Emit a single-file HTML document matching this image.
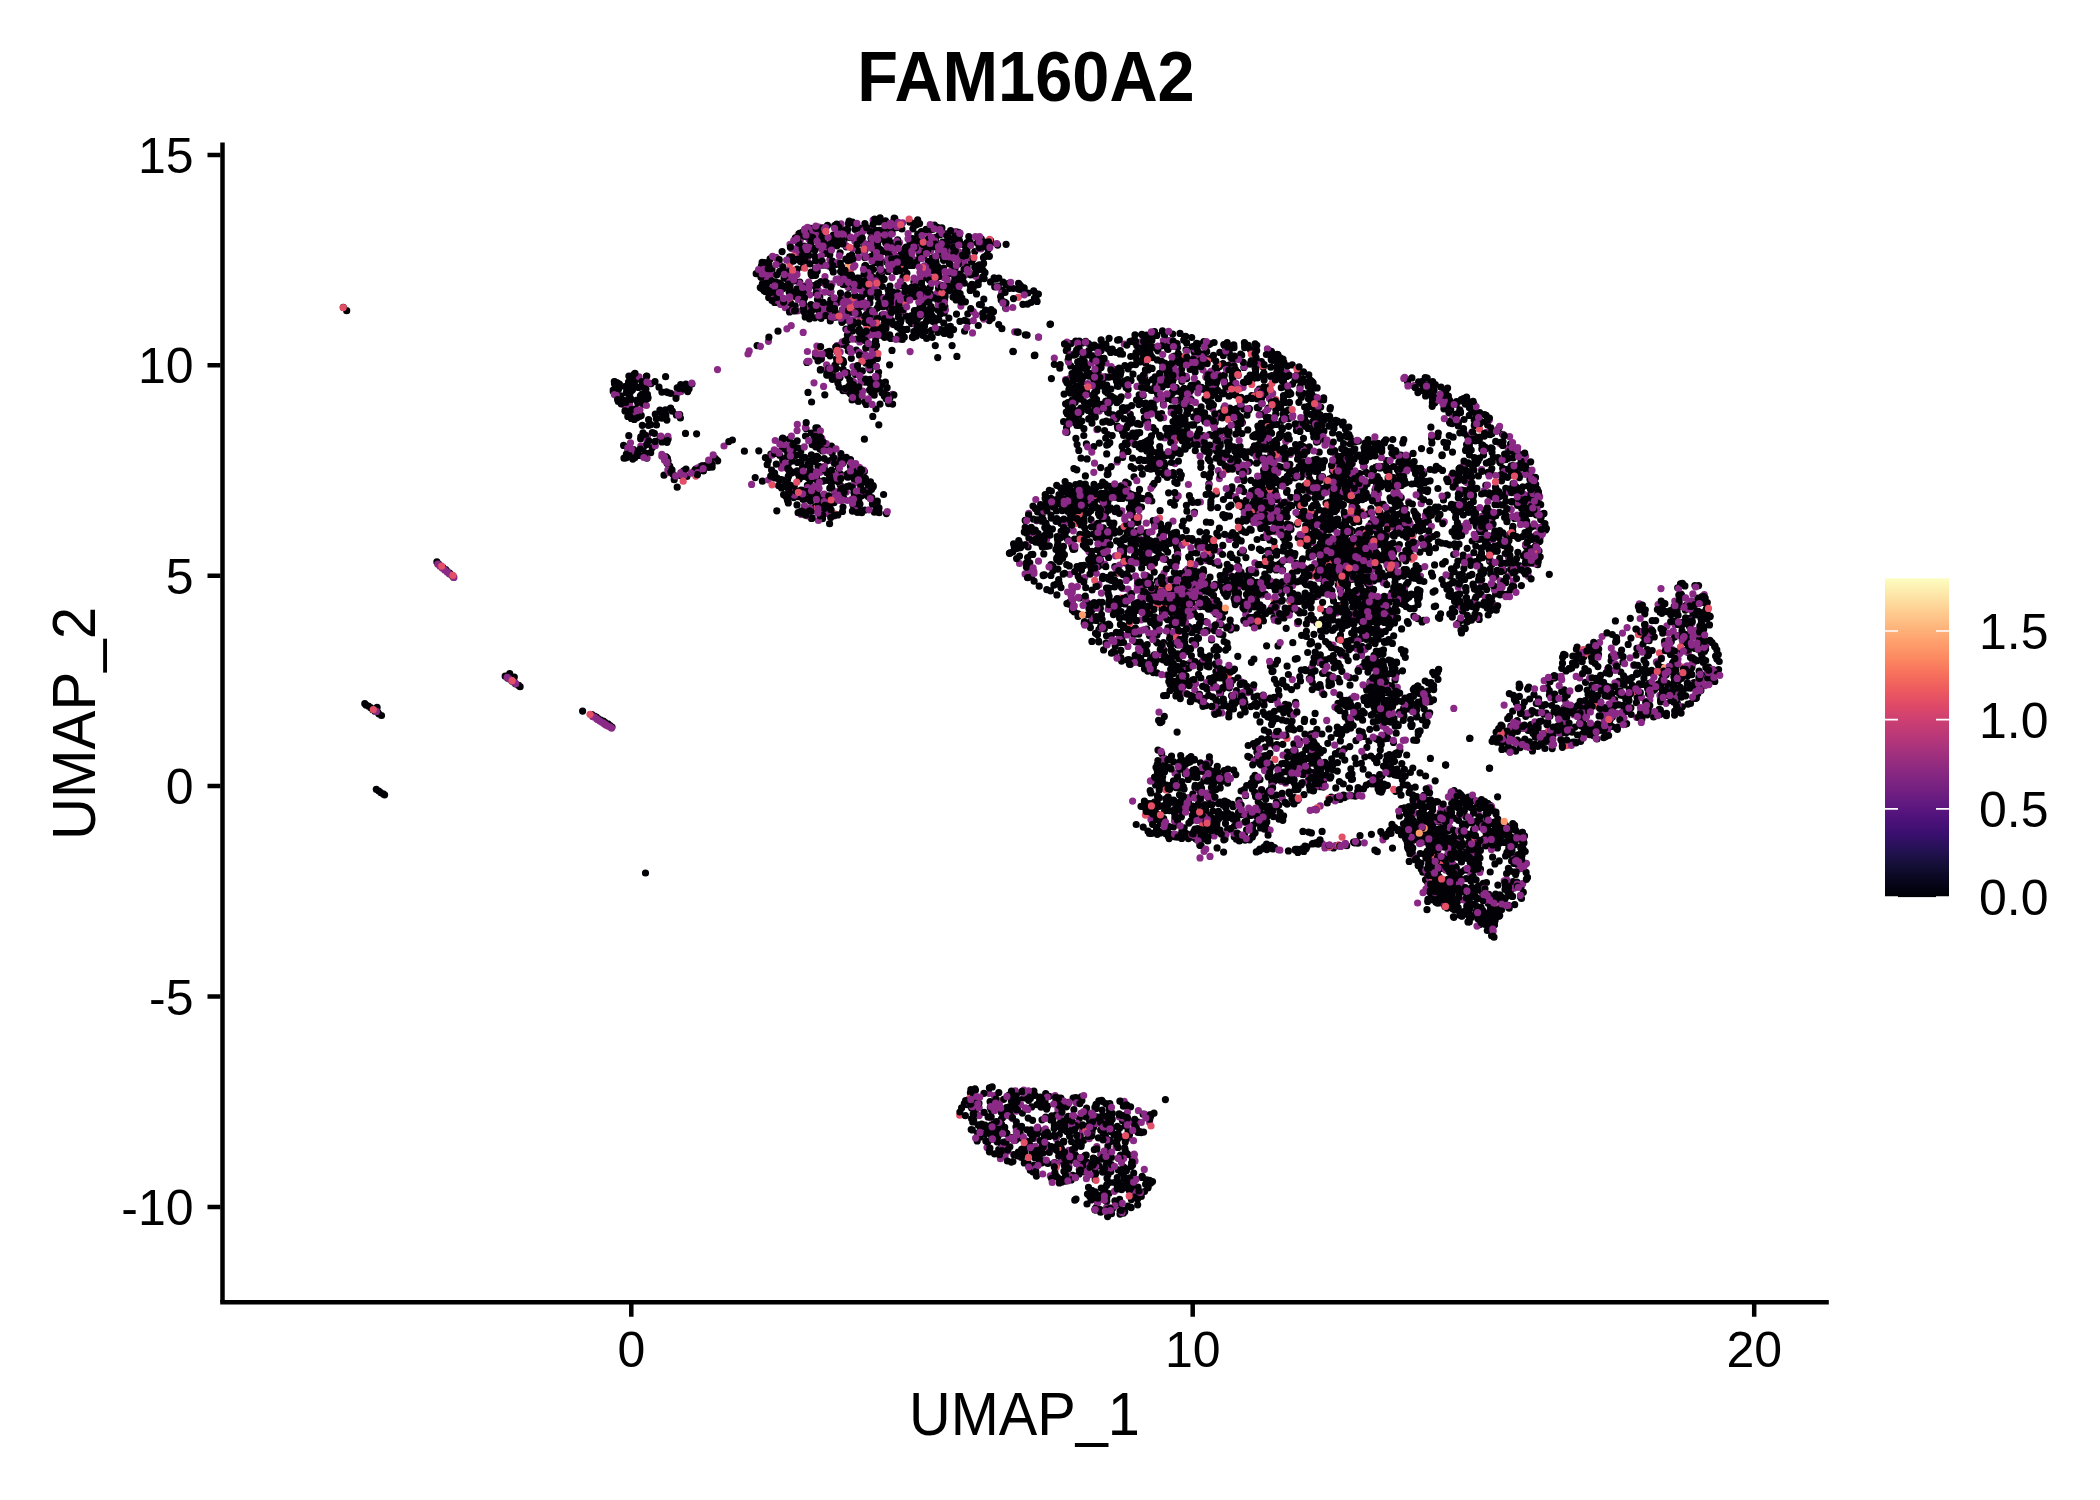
<!DOCTYPE html>
<html><head><meta charset="utf-8"><title>FAM160A2</title>
<style>
html,body{margin:0;padding:0;background:#fff;}
body{width:2100px;height:1500px;overflow:hidden;}
svg{display:block;font-family:"Liberation Sans",sans-serif;}
</style></head>
<body>
<svg width="2100" height="1500" viewBox="0 0 2100 1500">
<defs>
<linearGradient id="mg" x1="0" y1="1" x2="0" y2="0">
<stop offset="0" stop-color="#000004"/>
<stop offset="0.05" stop-color="#07061c"/>
<stop offset="0.1" stop-color="#140e36"/>
<stop offset="0.15" stop-color="#251255"/>
<stop offset="0.2" stop-color="#3b0f70"/>
<stop offset="0.25" stop-color="#4f127b"/>
<stop offset="0.3" stop-color="#641a80"/>
<stop offset="0.35" stop-color="#782281"/>
<stop offset="0.4" stop-color="#8c2981"/>
<stop offset="0.45" stop-color="#a1307e"/>
<stop offset="0.5" stop-color="#b73779"/>
<stop offset="0.55" stop-color="#ca3e72"/>
<stop offset="0.6" stop-color="#de4968"/>
<stop offset="0.65" stop-color="#ed5a5f"/>
<stop offset="0.7" stop-color="#f7705c"/>
<stop offset="0.75" stop-color="#fc8961"/>
<stop offset="0.8" stop-color="#fe9f6d"/>
<stop offset="0.85" stop-color="#feb77e"/>
<stop offset="0.9" stop-color="#fecf92"/>
<stop offset="0.95" stop-color="#fde7a9"/>
<stop offset="1" stop-color="#fcfdbf"/>
</linearGradient>
</defs>
<rect width="2100" height="1500" fill="#fff"/>
<!-- title -->
<text transform="translate(1026 101) scale(1 1.06)" font-size="66.7" font-weight="bold" text-anchor="middle" fill="#000">FAM160A2</text>
<!-- points -->
<g fill="none" stroke-width="7.2" stroke-linecap="round">
<path d="M932.4 259.3h0M1156.7 558.0h0M1422.6 809.3h0M853.1 324.8h0M1124.5 1177.4h0M1155.3 381.4h0M1615.6 642.1h0M1377.4 476.5h0M1557.5 713.8h0M1306.2 768.0h0M1406.6 514.2h0M917.7 219.9h0M1532.8 552.4h0M1094.3 504.5h0M1188.9 823.1h0M1380.9 533.4h0M1688.2 605.8h0M1317.9 759.9h0M1276.3 440.3h0M1198.7 364.0h0M1436.0 512.1h0M1196.6 343.4h0M1465.7 890.1h0M1326.0 503.1h0M1346.4 541.0h0M1376.3 539.7h0M1562.5 663.2h0M1377.3 851.7h0M1489.1 912.5h0M1105.6 492.9h0M1273.9 611.2h0M1193.1 770.0h0M1327.8 743.3h0M1696.8 694.1h0M1205.0 599.1h0M1616.3 728.0h0M1298.2 538.0h0M806.9 362.4h0M1401.6 628.9h0M1366.6 619.3h0M1549.3 690.6h0M1171.3 659.2h0M635.8 408.8h0M1107.6 412.1h0M1274.6 600.6h0M1235.3 369.3h0M1383.6 621.7h0M1330.0 517.1h0M1033.2 519.1h0M902.9 277.4h0M841.0 498.2h0M1295.3 785.6h0M1196.1 833.3h0M1694.1 682.6h0M1295.6 444.5h0M937.7 300.3h0M850.8 282.6h0M1313.3 388.3h0M1107.7 1130.7h0M1152.7 805.7h0M1055.1 506.3h0M1441.6 818.8h0M1140.2 459.3h0M1422.4 720.0h0M1173.4 827.0h0M1514.6 518.4h0M1294.3 797.7h0M1487.0 837.2h0M1128.3 497.9h0M1481.1 548.1h0M1609.8 669.8h0M1190.6 649.1h0M1244.8 345.7h0M1063.6 1141.3h0M1149.5 609.5h0M1374.3 602.7h0M1172.5 612.8h0M1597.9 695.1h0M1289.3 439.2h0M823.2 240.3h0M1415.8 483.4h0M1109.1 1155.2h0M830.4 369.7h0M1167.3 477.5h0M643.1 404.3h0M1138.7 634.2h0M1270.5 809.9h0M875.5 326.4h0M1197.6 831.6h0M1526.0 863.4h0M1269.0 350.4h0M1193.5 811.3h0M1208.0 401.2h0M1394.9 533.4h0M941.2 285.3h0M1450.8 596.5h0M1175.0 818.6h0M1310.3 428.2h0M674.2 479.7h0M1306.7 412.3h0M1329.5 478.8h0M1379.5 779.3h0M858.5 285.1h0M1494.9 533.9h0M1428.2 384.7h0M1319.0 761.5h0M1451.6 885.4h0M1677.8 606.6h0M1445.7 812.2h0M1517.2 465.9h0M1005.1 1145.4h0M1576.4 659.1h0M1295.8 423.8h0M1268.5 421.8h0M1505.8 582.6h0M1181.9 668.4h0M1191.0 601.0h0M1365.6 597.3h0M923.6 324.9h0M1461.9 916.2h0M1348.2 660.6h0M964.0 269.2h0M1461.5 632.9h0M851.0 383.3h0M1626.7 697.9h0M812.2 444.7h0M1263.6 513.3h0M852.4 222.0h0M1188.4 838.6h0M864.8 257.6h0M1186.3 530.6h0M1178.6 400.2h0M1290.4 525.1h0M1098.2 346.8h0M1136.5 634.0h0M1077.2 497.2h0M922.8 335.3h0M1202.9 435.5h0M876.6 292.3h0M1109.0 536.8h0M1303.1 774.7h0M1241.5 695.0h0M1408.9 557.6h0M865.6 265.6h0M640.8 436.9h0M1131.4 503.7h0M1354.7 441.5h0M770.6 274.8h0M1172.5 391.8h0M1380.9 486.8h0M1637.1 697.5h0M1591.7 734.3h0M1514.2 872.1h0M1264.9 523.5h0M1154.5 563.2h0M1269.2 790.6h0M1089.3 1119.8h0M856.8 473.0h0M1446.0 856.8h0M1512.2 587.2h0M1330.6 554.7h0M1088.5 513.0h0M637.6 402.6h0M987.1 256.1h0M1073.7 505.5h0M1688.9 624.9h0M991.2 309.5h0M1399.0 473.5h0M1119.8 531.1h0M1484.0 838.9h0M1516.6 558.7h0M1349.7 616.9h0M1123.6 1210.7h0M1096.7 391.2h0M1129.9 439.6h0M1165.1 602.4h0M1092.1 355.6h0M1086.1 504.1h0M805.7 498.8h0M1095.2 1179.4h0M1102.4 578.7h0M1206.5 828.2h0M1181.8 390.6h0M870.7 360.8h0M1083.7 1140.3h0M1071.8 406.8h0M1029.7 1144.5h0M1069.4 402.5h0M917.7 219.9h0M1185.4 764.5h0M1262.6 498.9h0M1590.2 707.2h0M662.0 441.9h0M1470.4 473.0h0M1072.7 1175.4h0M1192.0 538.5h0M1495.8 576.5h0M1173.1 614.8h0M1584.0 656.4h0M1393.7 698.4h0M1337.3 771.1h0M804.2 255.1h0M1164.3 832.0h0M928.2 298.9h0M1086.7 493.3h0M1272.4 482.3h0M1312.2 468.0h0M1333.2 550.6h0M1505.9 459.4h0M1412.5 854.1h0M1304.3 721.4h0M998.0 1136.6h0M1344.8 760.1h0M1259.3 389.2h0M1074.9 1154.5h0M946.7 329.4h0M1445.6 818.3h0M1419.5 481.2h0M1402.8 442.9h0M1379.7 606.5h0M904.3 337.2h0M1345.0 521.0h0M1133.6 1185.1h0M1137.2 537.8h0M1316.0 779.6h0M1074.4 520.4h0M1358.8 521.7h0M1324.6 624.7h0M1298.9 455.1h0M850.6 322.6h0M1311.3 601.4h0M1645.9 663.5h0M1496.6 825.9h0M1603.2 712.8h0M1151.0 356.0h0M1360.2 598.2h0M815.4 506.6h0M790.1 485.2h0M1227.2 345.7h0M1151.7 406.1h0M1262.3 439.6h0M1179.4 811.0h0M1363.3 555.4h0M1244.9 702.9h0M1119.8 1185.4h0M1286.8 376.4h0M937.7 357.6h0M1177.3 595.6h0M1149.9 368.0h0M1112.2 435.6h0M1109.0 413.0h0M1233.5 709.0h0M1451.6 871.4h0M1304.3 519.0h0M1183.8 760.6h0M1384.5 739.0h0M1154.7 387.0h0M1106.9 1150.3h0M1244.2 604.0h0M1070.4 393.1h0M1255.1 368.1h0M1486.4 421.8h0M1291.2 726.6h0M1141.7 554.4h0M1264.9 516.0h0M665.6 414.1h0M1216.8 825.0h0M826.9 305.0h0M1250.9 509.9h0M1463.0 559.4h0M939.4 229.5h0M1187.5 413.6h0M1432.9 824.6h0M1066.7 1131.4h0M1413.9 616.1h0M1028.1 547.0h0M1018.4 1152.1h0M1440.1 399.9h0M1197.9 828.6h0M1090.6 621.5h0M1262.0 518.3h0M871.1 320.0h0M1428.4 865.5h0M1254.3 814.2h0M1468.2 904.8h0M898.4 313.5h0M919.9 316.1h0M1179.8 761.8h0M1379.6 557.0h0M1161.6 413.5h0M1517.5 832.7h0M902.4 332.7h0M861.0 479.4h0M1232.2 346.4h0M1139.0 351.7h0M1393.2 717.8h0M840.3 462.8h0M1517.3 740.0h0M888.3 323.4h0M1331.8 569.8h0M1211.0 593.3h0M1194.5 512.1h0M1507.8 740.8h0M1515.6 874.4h0M1577.1 647.2h0M1187.6 435.3h0M1524.9 739.2h0M1311.6 668.1h0M1329.9 645.3h0M880.8 382.8h0M1536.1 549.7h0M1397.3 469.4h0M1628.8 696.1h0M1334.5 563.7h0M782.7 438.2h0M1094.0 495.2h0M837.3 302.4h0M1512.6 896.4h0M787.6 287.5h0M1439.7 618.3h0M1305.8 670.7h0M1255.8 513.4h0M941.9 227.9h0M1348.7 553.5h0M639.5 455.4h0M1132.6 1164.9h0M951.3 248.2h0M1427.7 489.8h0M1266.6 645.8h0M1600.1 687.7h0M1413.6 821.0h0M912.6 238.6h0M1358.3 441.2h0M1400.5 478.2h0M1330.4 680.1h0M1165.9 428.4h0M1264.8 498.5h0M1535.5 477.7h0M1123.2 452.4h0M1409.9 574.7h0M1147.4 344.2h0M862.3 295.7h0M1368.0 513.8h0M1123.9 599.4h0M1110.7 603.5h0M1504.3 899.9h0M1122.9 1173.2h0M1116.5 540.8h0M1595.2 733.2h0M878.8 304.0h0M1361.0 630.1h0M1410.8 851.6h0M1523.1 507.7h0M1715.6 656.1h0M1120.4 374.4h0M1238.0 587.3h0M1507.7 718.7h0M1060.9 520.7h0M1440.8 394.6h0M1174.4 356.3h0M1027.6 304.1h0M1247.1 378.7h0M1218.5 449.1h0M1447.8 879.4h0M1574.9 727.1h0M1505.7 488.3h0M1462.6 611.1h0M1305.7 604.0h0M948.9 251.1h0M1155.6 784.9h0M1032.3 1154.1h0M1234.8 465.4h0M831.8 459.9h0M1218.5 814.4h0M1465.3 801.7h0M1332.4 486.5h0M1237.1 462.2h0M1594.6 727.2h0M1476.5 521.4h0M1327.0 482.5h0M1610.1 719.7h0M1186.8 596.3h0M1469.4 575.7h0M1084.3 361.3h0M998.7 1149.6h0M1479.2 619.4h0M1189.2 518.1h0M717.7 460.8h0M1137.9 519.6h0M1106.8 577.5h0M1507.4 458.4h0M664.5 458.3h0M814.9 250.1h0M1519.1 565.5h0M1143.5 351.8h0M1362.1 542.7h0M1252.5 829.1h0M917.6 242.3h0M1448.9 412.8h0M1152.5 803.6h0M764.8 280.4h0M1075.2 508.3h0M1183.7 340.1h0M881.4 332.1h0M1121.4 489.1h0M1042.1 1146.8h0M1372.5 579.2h0M1271.7 781.7h0M1089.8 605.7h0M1110.9 1171.6h0M1091.2 1191.8h0M1399.4 544.6h0M1090.9 502.3h0M1359.8 630.1h0M1342.1 539.8h0M1395.4 753.5h0M1340.5 552.5h0M1125.0 548.1h0M1344.2 467.7h0M830.7 497.8h0M821.6 467.6h0M1163.4 585.0h0M1425.2 377.7h0M1479.8 517.5h0M1176.8 835.2h0M1308.9 573.4h0M1171.6 456.1h0M1260.3 430.1h0M1140.6 663.4h0M1499.5 590.4h0M1146.3 650.9h0M1256.3 507.3h0M1459.8 601.7h0M1375.8 632.1h0M824.9 251.5h0M1528.2 571.4h0M1499.0 537.4h0M1015.7 1105.5h0M1148.9 558.5h0M1033.9 1091.1h0M1214.1 342.5h0M956.5 314.1h0M1238.3 521.2h0M1176.5 546.5h0M1618.5 692.5h0M1027.1 335.1h0M627.9 450.8h0M1079.1 1173.9h0M1109.5 544.7h0M1307.1 538.4h0M1264.1 379.9h0M1346.9 611.4h0M836.5 264.3h0M1263.0 579.1h0M1106.0 643.2h0M1030.5 1133.4h0M1249.7 757.3h0M967.0 242.6h0M1454.6 852.2h0M1306.0 771.3h0M919.6 327.9h0M791.7 309.6h0M1182.7 537.5h0M1465.7 816.6h0M1316.5 442.1h0M1045.0 1101.2h0M1371.4 834.3h0M1377.5 466.7h0M1481.8 449.1h0M1410.8 702.0h0M1510.8 726.1h0M1069.5 486.6h0M1434.1 390.4h0M1687.8 624.0h0M1469.7 440.0h0M1139.2 1192.6h0M1519.3 475.4h0M1103.3 527.8h0M1422.3 822.0h0M1138.2 585.5h0M967.8 313.8h0M1379.5 621.4h0M1133.6 562.3h0M1108.7 624.2h0M1364.1 466.6h0M1282.7 483.6h0M1259.6 609.1h0M650.7 452.7h0M1378.8 522.1h0M1450.7 887.2h0M1453.5 846.9h0M1265.2 795.0h0M1113.0 525.4h0M1419.0 824.1h0M1093.7 379.6h0M1097.8 1197.7h0M1251.2 530.2h0M1200.8 462.7h0M1210.0 577.2h0M1110.1 1208.0h0M967.8 321.8h0M921.5 283.0h0M1216.3 493.8h0M1243.4 550.8h0M1487.3 930.5h0M1462.3 886.7h0M1253.4 619.0h0M1431.6 438.6h0M1182.1 601.4h0M1253.3 825.1h0M933.3 270.8h0M659.0 387.2h0M1573.0 742.0h0M1143.5 352.0h0M964.3 1103.5h0M1147.2 382.3h0M800.5 261.6h0M1477.6 563.8h0M1164.8 617.2h0M1303.6 421.9h0M1119.6 498.0h0M957.8 236.4h0M1356.2 614.1h0M877.7 297.3h0M1338.9 580.9h0M1066.3 350.7h0M1273.8 472.7h0M1186.7 425.8h0M1102.9 346.2h0M1382.2 692.9h0M1431.0 382.9h0M1314.1 742.8h0M1083.5 507.6h0M1482.9 445.4h0M1163.4 404.4h0M1208.7 814.9h0M930.7 294.1h0M1433.5 836.4h0M1173.8 476.0h0M1306.3 623.9h0M1091.4 401.6h0M1357.7 791.4h0M1522.3 863.8h0M980.5 240.0h0M1383.6 537.8h0M1254.2 704.8h0M1438.1 518.9h0M1299.7 764.9h0M875.7 389.6h0M1472.1 822.9h0M1403.5 653.8h0M1263.0 499.9h0M1132.3 1158.4h0M1471.6 602.9h0M1346.7 845.7h0M1206.4 522.2h0M1421.2 869.1h0M1369.5 609.3h0M865.8 244.1h0M1177.7 540.4h0M847.8 340.0h0M623.6 445.4h0M799.1 249.5h0M952.2 247.0h0M1260.5 433.4h0M1165.7 611.5h0M1081.2 1144.4h0M820.2 232.6h0M1452.1 531.8h0M1620.8 672.0h0M1505.7 492.4h0M1331.7 547.9h0M1426.7 391.3h0M1045.1 1160.5h0M1216.2 646.9h0M874.4 512.2h0M1266.2 580.5h0M930.7 312.8h0M1432.2 841.5h0M1178.1 429.5h0M1355.5 569.6h0M1257.1 449.3h0M1140.0 552.3h0M1513.4 695.4h0M1352.2 506.2h0M1675.9 670.0h0M1367.6 700.3h0M1418.9 391.3h0M1291.5 689.6h0M1006.5 1113.1h0M1042.9 1147.4h0M1320.7 407.1h0M1131.1 466.6h0M1176.6 666.2h0M857.7 281.2h0M1296.0 475.7h0M1560.8 739.5h0M1076.0 386.0h0M788.6 448.7h0M1291.9 798.6h0M1596.8 680.4h0M1340.4 589.9h0M1351.5 547.5h0M847.3 234.3h0M1041.9 1141.9h0M1163.9 650.0h0M1590.0 724.2h0M1281.1 370.0h0M1513.7 469.8h0M1418.3 840.2h0M1232.7 532.6h0M1413.3 695.3h0M1364.6 486.9h0M1113.5 491.2h0M1375.2 617.3h0M1306.9 846.8h0M1356.7 565.0h0M630.6 391.8h0M1403.0 534.9h0M1302.2 560.5h0M1420.9 863.0h0M1224.0 702.8h0M841.9 496.3h0M1165.1 470.4h0M851.3 358.3h0M1456.4 857.2h0M790.1 285.3h0M1265.0 500.6h0M1265.6 536.6h0M1219.5 366.4h0M1215.5 419.6h0M896.9 306.4h0M1461.0 531.4h0M1167.4 829.6h0M1377.6 784.5h0M1042.3 547.0h0M1241.0 572.1h0M1107.4 1122.3h0M1259.6 427.1h0M1205.7 809.7h0M1178.4 544.6h0M1331.5 684.5h0M1100.3 496.6h0M1234.7 703.7h0M1277.1 736.3h0M1469.9 504.4h0M944.9 306.7h0M1434.8 829.4h0M860.6 472.8h0M869.5 390.1h0M1080.7 380.7h0M1196.0 839.1h0M1396.7 694.7h0M1282.8 820.3h0M1433.1 900.0h0M1292.5 384.1h0M1229.2 439.3h0M1413.9 531.8h0M1405.8 550.6h0M1303.5 438.3h0M1537.9 549.8h0M1150.7 469.2h0M1585.8 706.2h0M1219.1 777.2h0M1190.9 594.7h0M1329.4 502.0h0M1310.0 521.2h0M1645.2 636.8h0M1232.7 393.9h0M1358.1 787.6h0M1188.0 664.1h0M1215.9 671.5h0M1054.8 1162.7h0M1305.0 669.7h0M1489.1 839.4h0M1375.0 489.8h0M1284.0 617.9h0M1502.1 726.2h0M1496.2 489.0h0M1457.2 872.7h0M1377.1 600.0h0M1461.2 836.3h0M1136.5 400.0h0M1108.8 1140.2h0M1060.9 504.2h0M629.7 377.8h0M1360.8 544.3h0M1368.4 634.6h0M1367.2 483.8h0M1621.6 650.1h0M1375.6 477.5h0M1427.5 830.1h0M1209.0 763.5h0M889.7 334.8h0M1347.7 482.4h0M1525.8 465.5h0M930.8 242.7h0M1178.3 432.3h0M1074.8 1200.2h0M1330.9 776.5h0M1336.8 754.1h0M1466.2 449.4h0M1157.8 830.4h0M1637.9 673.6h0M826.0 284.6h0M1296.5 430.4h0M1021.6 1153.0h0M1096.9 1116.8h0M1501.7 909.6h0M1419.5 594.2h0M1061.8 1182.1h0M1238.2 429.5h0M1548.3 740.7h0M1137.9 522.3h0M1252.4 495.9h0M1472.3 855.7h0M1172.4 452.1h0M797.0 288.8h0M875.0 262.7h0M1077.6 396.0h0M1109.1 338.3h0M1346.6 729.8h0M1452.3 617.1h0M1564.3 707.7h0M1362.6 720.2h0M1251.7 395.5h0M924.5 248.2h0M1366.6 620.1h0M936.4 244.8h0M1112.2 1119.2h0M1159.2 806.3h0M1526.3 508.2h0M835.0 480.4h0M1486.5 882.5h0M1178.5 808.7h0M1479.7 412.7h0M1412.6 819.9h0M1352.0 620.2h0M1146.9 652.4h0M1260.6 440.0h0M1255.6 796.4h0M1505.3 469.3h0M1378.6 615.8h0M1185.9 603.9h0M1186.4 608.2h0M1197.7 545.7h0M1060.9 1179.4h0M1246.5 814.2h0M1470.7 565.3h0M1264.7 714.7h0M1467.0 905.4h0M1388.4 703.5h0M981.9 243.3h0M1352.4 545.6h0M1532.5 750.9h0M1612.4 716.9h0M1416.6 740.5h0M1448.4 856.7h0M1104.4 628.8h0M1479.5 576.0h0M1224.6 430.8h0M1384.4 642.3h0M845.5 390.7h0M1316.8 535.9h0M1184.2 669.7h0M1287.1 490.4h0M1452.6 481.7h0M1097.4 549.7h0M1079.6 374.2h0M1281.9 763.7h0M1651.8 685.3h0M818.1 489.4h0M1199.4 594.5h0M1022.9 304.3h0M1435.8 902.1h0M909.9 222.2h0M892.8 291.8h0M1143.2 443.1h0M1442.4 895.7h0M1201.1 836.4h0M1528.5 499.0h0M1039.6 1100.0h0M1083.3 545.0h0M1417.8 686.1h0M1157.0 458.8h0M1445.4 862.1h0M914.8 223.2h0M1427.9 899.3h0M648.6 419.7h0M1339.4 624.4h0M971.6 1107.9h0M1071.7 599.8h0M1671.3 641.6h0M909.8 240.9h0M1136.2 824.5h0M1037.1 301.4h0M1173.6 617.7h0M1404.4 769.3h0M1251.2 783.1h0M797.0 504.9h0M1379.3 479.7h0M1285.8 735.9h0M1228.0 450.3h0M770.1 258.9h0M1369.6 448.5h0M1331.7 758.8h0M788.7 470.0h0M819.4 241.4h0M821.1 317.6h0M1128.7 436.2h0M1113.5 651.5h0M1348.5 452.4h0M1057.0 583.8h0M1106.9 508.3h0M1231.2 588.8h0M1222.9 634.9h0M1102.8 378.9h0M1297.6 622.0h0M790.6 303.2h0M1095.1 533.6h0M1265.2 565.5h0M1467.3 615.3h0M879.1 512.7h0M1339.4 568.9h0M1427.2 702.0h0M1122.4 1120.4h0M1013.3 351.6h0M1096.4 1194.4h0M1707.2 668.3h0M1288.5 608.8h0M1361.8 646.4h0M1348.6 566.2h0M1302.6 518.5h0M1435.6 606.0h0M1147.6 421.2h0M921.3 330.1h0M1230.6 684.7h0M1484.7 801.5h0M889.6 308.6h0M1280.3 485.5h0M1084.9 506.8h0M1487.6 541.6h0M1350.2 476.3h0M780.0 287.0h0M1659.0 668.1h0M1116.6 573.1h0M668.1 439.0h0M1136.1 352.5h0M1320.2 414.8h0M1028.3 1146.1h0M1325.2 580.2h0M1139.7 401.6h0M1507.5 852.2h0M870.8 256.7h0M1332.5 563.0h0M1285.7 710.0h0M1149.8 455.8h0M1327.4 570.1h0M1138.1 1122.0h0M1217.6 507.5h0M1185.4 762.9h0M1168.5 604.1h0M1345.2 435.8h0M966.9 249.0h0M1686.8 687.9h0M1351.0 517.8h0M1144.8 591.8h0M1477.6 861.3h0M1334.2 556.2h0M1097.2 385.3h0M1098.2 372.1h0M1256.2 490.3h0M1334.5 493.2h0M1177.1 808.0h0M1160.6 579.7h0M923.6 292.5h0M1206.8 688.6h0M1238.3 451.5h0M1513.7 475.4h0M948.9 318.1h0M1125.3 434.3h0M1480.2 845.7h0M1319.4 662.4h0M1237.6 538.9h0M1230.1 555.3h0M1217.5 701.6h0M867.8 322.4h0M913.9 281.8h0M1597.0 739.0h0M1271.4 699.5h0M1432.9 536.6h0M1042.3 1131.7h0M789.3 469.9h0M955.5 250.8h0M1216.0 441.9h0M1189.4 607.6h0M1200.6 561.8h0M1173.3 663.6h0M1274.0 494.1h0M1289.6 392.4h0M1311.5 393.7h0M1175.6 614.6h0M1489.7 561.2h0M1238.3 461.7h0M1454.7 798.8h0M1456.3 547.9h0M1442.6 563.9h0M1433.5 896.9h0M1513.1 881.7h0M878.8 383.9h0M954.5 248.8h0M1299.0 486.1h0M1394.8 775.0h0M667.0 463.3h0M1236.0 535.1h0M1198.6 674.4h0M1225.5 823.4h0M1489.7 473.8h0M1487.8 607.5h0M1193.9 569.8h0M1373.0 524.9h0M1435.7 891.1h0M1092.5 1123.4h0M1381.5 651.6h0M1332.5 470.7h0M1246.3 605.8h0M1323.8 780.4h0M1234.5 459.4h0M669.7 466.0h0M1343.4 504.6h0M834.7 225.6h0M833.1 302.2h0M1520.2 747.6h0M679.6 387.2h0M1350.6 704.7h0M1410.3 808.8h0M1359.7 551.1h0M1569.3 668.9h0M1451.2 792.5h0M1194.9 787.4h0M1200.9 808.9h0M1488.6 821.9h0M1061.9 1160.9h0M884.2 279.1h0M1156.8 776.3h0M1248.1 471.1h0M1355.9 477.7h0M1322.9 491.6h0M1276.2 565.3h0M1200.1 664.6h0M1161.9 576.5h0M1430.1 480.8h0M1348.9 434.6h0M1152.6 485.5h0M1129.6 380.4h0M1094.5 399.4h0M1630.9 638.1h0M1322.0 532.8h0M1415.5 823.8h0M665.5 409.8h0M884.0 305.4h0M1159.6 435.4h0M1215.0 584.4h0M1420.0 590.9h0M1499.6 843.2h0M1423.5 521.2h0M1419.4 568.4h0M1332.7 596.7h0M1620.8 693.0h0M871.4 268.1h0M1243.4 705.3h0M1609.2 705.9h0M1087.3 1113.4h0M1334.0 495.8h0M1360.0 491.2h0M1351.5 553.2h0M1423.6 825.3h0M1047.8 1096.1h0M1008.8 283.4h0M1242.9 607.6h0M1188.7 758.3h0M1370.3 607.6h0M1157.2 581.1h0M1530.9 724.6h0M1401.1 485.7h0M1075.2 402.3h0M1201.8 547.0h0M1517.2 861.3h0M876.7 262.3h0M1344.6 561.7h0M1001.3 1112.2h0M1350.0 685.2h0M1144.9 803.8h0M1025.2 520.4h0M1100.4 608.3h0M1162.4 614.0h0M850.4 320.9h0M1521.4 502.9h0M1171.1 649.8h0M935.3 345.6h0M1190.9 820.9h0M1696.8 688.1h0M1418.8 862.4h0M961.0 244.2h0M827.4 311.6h0M1223.3 355.6h0M1372.2 449.5h0M1114.9 580.4h0M1241.7 355.2h0M1257.3 488.3h0M1317.3 409.4h0M1346.6 569.2h0M1379.5 558.0h0M1238.0 464.3h0M1505.3 832.7h0M1168.5 344.0h0M1692.9 612.5h0M1128.7 1184.7h0M1181.3 363.5h0M1124.7 1147.8h0M1231.5 412.3h0M1416.0 517.1h0M1044.5 574.9h0M1364.2 560.8h0M1607.5 725.0h0M1495.8 515.7h0M1145.6 362.9h0M902.4 339.5h0M1194.5 837.4h0M1470.7 435.1h0M1186.2 357.3h0M1132.2 612.7h0M1409.8 696.5h0M1190.6 662.7h0M1121.2 1101.3h0M1445.7 765.1h0M1338.3 585.1h0M1434.3 606.7h0M1303.8 761.5h0M1290.0 594.2h0M1351.7 519.0h0M1177.0 483.5h0M1180.5 682.0h0M1354.6 591.7h0M1303.3 446.5h0M1063.6 421.7h0M1148.9 367.7h0M1255.7 349.9h0M1159.9 536.0h0M980.8 247.5h0M1135.2 655.4h0M1068.9 1132.7h0M1146.8 629.0h0M1386.8 766.3h0M1108.9 1193.5h0M1217.4 368.1h0M1378.1 676.0h0M1432.7 381.6h0M1489.2 511.4h0M1285.0 541.3h0M1198.4 581.8h0M1281.6 513.2h0M1465.6 825.3h0M1262.7 582.4h0M1292.8 577.0h0M1223.3 591.2h0M1422.9 694.6h0M1364.3 713.0h0M1642.5 635.5h0M1359.9 556.4h0M1447.2 829.1h0M1170.1 634.8h0M1352.4 558.0h0M830.9 487.7h0M1421.6 704.5h0M1223.8 393.6h0M1316.9 766.5h0M1233.7 819.0h0M1425.9 870.9h0M1065.6 1120.4h0M1362.6 541.9h0M1347.8 528.5h0M1304.0 612.6h0M1261.8 441.9h0M1514.8 454.5h0M808.1 251.8h0M1692.9 684.8h0M1638.2 631.2h0M1285.6 411.7h0M1288.6 418.7h0M1338.4 491.5h0M958.5 232.4h0M814.6 474.7h0M1466.8 493.9h0M1542.4 527.1h0M1289.0 792.1h0M1545.6 529.9h0M1321.4 420.6h0M1157.2 806.6h0M1211.4 556.1h0M1307.7 652.5h0M1272.9 472.6h0M1056.9 594.9h0M1480.9 571.0h0M1150.4 442.5h0M1034.1 581.2h0M1490.9 471.3h0M820.3 369.9h0M1467.6 908.2h0M873.6 311.2h0M1315.2 652.0h0M1274.4 679.3h0M782.5 448.4h0M1103.3 536.3h0M1358.6 558.2h0M1453.2 883.0h0M1296.4 470.0h0M1372.4 539.1h0M1266.8 427.9h0M1131.0 1166.7h0M1258.2 801.8h0M1617.1 666.8h0M1704.1 649.8h0M852.8 468.3h0M847.2 301.6h0M1296.9 496.2h0M1354.8 513.3h0M1032.9 1171.8h0M1503.0 441.6h0M1335.4 524.9h0M1370.1 532.1h0M1211.3 467.3h0M1330.4 407.6h0M1038.2 533.5h0M1121.2 528.9h0M1525.4 468.2h0M1545.4 527.6h0M1250.6 784.4h0M1335.6 420.3h0M1164.7 334.8h0M1138.7 662.3h0M956.1 299.9h0M828.5 307.9h0M857.3 506.1h0M1106.5 588.1h0M890.0 286.1h0M1206.3 630.4h0M1549.3 574.3h0M1301.3 539.2h0M947.7 287.3h0M797.4 494.5h0M1024.8 1154.1h0M967.2 252.7h0M1355.3 796.2h0M1667.8 695.4h0M827.4 472.2h0M1363.9 630.6h0M1213.6 783.9h0M1188.6 626.7h0M789.6 260.7h0M1352.0 575.4h0M1116.9 416.9h0M1400.3 596.0h0M1463.2 555.1h0M1275.1 493.9h0M1698.8 613.2h0M1679.0 603.9h0M1210.3 590.8h0M1230.0 829.4h0M1377.4 633.4h0M842.5 231.4h0M1428.4 522.2h0M1377.3 533.4h0M1310.2 751.1h0M842.3 309.9h0M1210.9 501.1h0M1068.9 389.7h0M1378.0 443.4h0M1375.9 612.5h0M806.6 512.3h0M1259.9 494.7h0M1180.2 596.6h0M1224.7 801.0h0M1645.8 669.9h0M1334.6 554.2h0M1238.8 835.5h0M1002.2 290.4h0M1483.4 817.9h0M1299.0 757.8h0M1431.8 867.4h0M803.0 474.9h0M919.8 252.7h0M1248.8 609.5h0M1502.7 468.4h0M1371.5 640.7h0M1335.4 753.7h0M1371.2 681.4h0M1219.8 693.7h0M1554.1 678.2h0M1418.3 702.0h0M1155.6 430.8h0M1062.6 558.5h0M1270.1 478.1h0M1010.3 1109.4h0M1375.3 609.2h0M1151.4 668.8h0M792.0 461.2h0M1489.4 768.3h0M982.5 277.2h0M1093.5 1127.5h0M1345.3 548.9h0M1159.8 459.3h0M1180.7 416.9h0M1424.4 482.9h0M1300.8 516.2h0M1340.1 666.7h0M1346.3 542.8h0M823.0 311.7h0M1173.6 800.0h0M1079.8 534.3h0M1357.1 546.5h0M1127.7 559.2h0M819.7 444.6h0M1664.2 692.0h0M1014.7 1100.9h0M1335.5 554.1h0M861.7 512.7h0M1057.5 545.7h0M1405.8 525.6h0M1443.9 442.3h0M788.1 464.8h0M1379.4 756.1h0M1350.6 544.6h0M1092.2 609.7h0M1335.9 422.8h0M1235.0 424.3h0M1303.1 577.4h0M1245.3 456.8h0M1424.3 709.0h0M1489.1 549.6h0M1686.6 618.9h0M1283.4 763.3h0M892.0 350.4h0M1366.2 493.0h0M1429.9 450.6h0M1512.8 531.9h0M1317.3 548.2h0M821.1 318.3h0M1298.0 789.3h0M1297.4 492.1h0M1243.7 408.9h0M1216.8 533.2h0M1460.5 412.1h0M1523.5 841.2h0M1466.0 854.6h0M1287.3 752.0h0M849.7 392.7h0M1332.6 433.0h0M632.3 389.9h0M1349.7 724.3h0M1016.1 1109.6h0M1269.8 539.9h0M1380.8 831.7h0M1381.3 482.5h0M1234.7 538.0h0M1368.5 556.8h0M928.3 261.4h0M1425.7 725.5h0M1411.8 819.0h0M1214.0 378.6h0M1351.2 795.6h0M930.2 287.4h0M1426.8 823.4h0M1316.2 655.8h0M1017.6 1156.0h0M1177.5 645.0h0M1449.3 584.8h0M1109.5 1110.1h0M1379.1 569.4h0M971.5 288.3h0M811.3 433.2h0M857.0 300.2h0M1455.1 583.0h0M1335.5 846.2h0M1490.8 427.9h0M1612.3 709.8h0M829.9 507.8h0M1072.2 516.0h0M1666.5 713.4h0M1261.9 807.0h0M1327.7 527.8h0M1096.1 604.7h0M1417.9 618.7h0M1192.3 815.3h0M1268.8 434.1h0M1527.8 507.2h0M1211.7 396.1h0M1542.5 741.8h0M1370.5 570.8h0M1145.8 578.3h0M1114.2 608.5h0M883.6 494.5h0M883.6 333.3h0M1485.1 447.1h0M1240.4 714.8h0M760.3 287.6h0M1357.4 557.3h0M1527.7 495.9h0M1145.2 388.2h0M1207.1 824.6h0M1353.6 522.4h0M1199.7 357.4h0M1473.9 870.3h0M1423.7 809.0h0M924.5 326.3h0M817.3 235.0h0M1244.4 708.5h0M1316.5 547.6h0M1244.0 575.9h0M1410.9 814.8h0M1053.8 1135.3h0M1308.2 406.4h0M1593.0 695.7h0M1122.3 410.7h0M1181.9 781.6h0M1502.0 568.4h0M1463.3 515.0h0M1380.7 680.2h0M826.2 352.7h0M1208.2 663.0h0M1369.3 586.2h0M1078.3 345.8h0M1333.5 546.3h0M1457.8 605.1h0M1356.9 512.5h0M1445.0 404.4h0M1347.7 549.5h0M1009.7 288.5h0M1465.6 463.5h0M1061.1 531.3h0M1061.5 1129.8h0M1120.6 1155.0h0M1365.3 535.1h0M1050.6 590.8h0M1415.5 473.6h0M990.3 1107.4h0M1492.2 831.5h0M1379.4 530.1h0M1136.2 543.9h0M1069.5 519.3h0M840.3 485.0h0M1001.5 1124.1h0M1094.8 408.9h0M1187.1 649.1h0M1355.0 758.1h0M1280.1 812.7h0M1490.6 810.5h0M1093.1 357.2h0M1289.7 588.5h0M1578.8 710.3h0M1102.8 1194.2h0M793.0 259.1h0M1314.1 772.4h0M1158.1 416.0h0M1413.9 570.7h0M1258.0 492.0h0M971.6 1118.8h0M1317.6 464.6h0M1250.3 605.3h0M1404.2 601.8h0M1267.5 768.2h0M865.1 257.5h0M1262.7 508.9h0M1096.9 347.9h0M1238.0 677.8h0M1133.3 502.8h0M1428.3 394.7h0M923.1 278.5h0M1415.5 527.4h0M1430.0 820.2h0M787.6 279.3h0M893.2 243.1h0M1126.4 1170.8h0M1281.5 593.6h0M1672.9 610.7h0M1374.6 704.5h0M1173.0 421.6h0M1205.7 621.7h0M626.4 454.1h0M785.6 272.6h0M661.1 412.8h0M1189.2 438.1h0M1102.3 546.9h0M1488.5 903.3h0M1352.3 601.1h0M1232.6 680.5h0M1028.4 569.7h0M920.4 296.1h0M1260.2 485.6h0M1475.2 598.8h0M1081.8 381.8h0M1487.3 507.5h0M1264.5 756.4h0M1006.1 285.0h0M1448.4 396.0h0M1419.1 693.3h0M1271.6 433.3h0M1411.9 829.8h0M1269.4 484.1h0M1080.8 565.6h0M1123.5 556.4h0M1698.2 649.5h0M1084.9 1163.0h0M1157.9 479.4h0M1429.8 802.1h0M1130.3 414.3h0M1404.9 698.2h0M1395.0 577.4h0M1251.6 580.3h0M1324.2 583.3h0M1157.0 635.0h0M1101.8 385.9h0M1200.1 618.5h0M1379.3 601.1h0M1283.7 772.0h0M1336.2 577.3h0M1550.0 715.9h0M885.7 242.9h0M1481.4 539.2h0M1175.9 498.8h0M911.8 291.8h0M965.0 245.5h0M1425.5 879.8h0M1647.6 655.7h0M1240.7 354.0h0M1438.3 541.9h0M1361.6 489.7h0M1692.0 666.9h0M1058.9 502.1h0M1467.5 436.2h0M855.8 480.6h0M1315.0 549.9h0M1017.7 1108.0h0M1175.5 607.8h0M1282.7 680.4h0M1158.1 377.5h0M1176.5 532.3h0M1158.1 798.8h0M1397.3 521.7h0M1249.5 839.8h0M1427.3 481.3h0M1640.3 714.0h0M1429.7 879.2h0M1081.9 1100.5h0M1654.3 636.9h0M1018.2 332.2h0M1445.8 828.2h0M1012.4 1110.5h0M1180.7 755.5h0M1146.6 441.3h0M1208.4 344.8h0M1354.1 622.5h0M1167.9 398.3h0M1266.8 821.9h0M1073.8 415.0h0M1475.9 514.5h0M1281.9 380.6h0M1190.1 369.5h0M1129.8 494.4h0M806.7 492.0h0M1083.7 517.9h0M1468.0 921.9h0M928.8 301.0h0M1359.7 605.9h0M1123.9 1187.2h0M1227.1 643.1h0M1177.3 774.8h0M1575.9 664.9h0M654.4 433.3h0M1432.8 840.4h0M864.8 510.2h0M953.0 297.1h0M1108.7 1158.4h0M1450.8 410.0h0M1327.5 522.7h0M1580.7 741.3h0M1401.4 473.3h0M1248.3 588.9h0M1341.2 640.1h0M860.7 394.5h0M1343.1 552.7h0M1271.1 699.4h0M1222.1 587.2h0M1059.4 1134.5h0M1283.8 546.7h0M1407.7 456.3h0M1714.8 646.7h0M1163.9 651.0h0M1493.2 577.2h0M1263.0 795.7h0M1068.3 1116.3h0M1148.9 450.0h0M1267.9 518.1h0M1481.8 548.1h0M1674.2 606.4h0M1220.4 442.6h0M1184.2 586.2h0M1390.9 770.8h0M811.5 518.4h0M1203.8 780.6h0M1181.4 693.0h0M996.7 1107.1h0M1167.5 608.0h0M1229.4 444.6h0M1105.0 517.7h0M702.2 465.9h0M899.1 313.0h0M1053.9 585.2h0M715.2 458.3h0M1235.8 774.6h0M906.9 273.3h0M1401.2 497.7h0M1254.5 395.6h0M1421.7 538.7h0M1428.3 697.2h0M1430.9 804.0h0M1384.4 466.2h0M1409.2 861.4h0M1617.6 727.2h0M1371.4 690.4h0M1358.1 603.8h0M1243.2 706.1h0M1125.4 1121.2h0M1156.1 627.2h0M1098.9 1165.9h0M1358.5 577.3h0M1338.7 486.0h0M1089.0 376.2h0M1095.0 505.8h0M1467.4 621.5h0M1713.5 669.8h0M1304.5 511.6h0M650.9 383.7h0M1065.6 403.8h0M1636.4 702.7h0M1647.3 649.5h0M1247.8 429.9h0M670.6 408.2h0M875.2 353.7h0M1125.7 482.1h0M1360.6 569.8h0M1653.6 690.3h0M1345.6 517.5h0M1245.7 457.5h0M1372.2 697.2h0M1459.0 544.2h0M1495.2 546.3h0M1198.1 433.0h0M1044.8 527.6h0M868.2 496.4h0M1295.3 659.1h0M889.0 307.5h0M1271.6 582.4h0M1670.4 610.7h0M879.0 507.9h0M849.5 485.8h0M1295.6 599.4h0M901.0 328.3h0M1622.3 717.9h0M821.0 281.6h0M1459.0 468.9h0M1272.6 809.9h0M797.2 440.8h0M1031.9 1150.9h0M1290.3 714.2h0M1314.1 657.5h0M1188.5 801.6h0M864.0 333.2h0M1257.5 696.0h0M1169.7 789.3h0M1256.8 758.7h0M808.8 477.6h0M1227.6 829.4h0M990.5 281.9h0M804.8 259.6h0M1220.2 787.9h0M1353.9 449.9h0M1362.5 713.6h0M1591.2 702.1h0M826.7 375.1h0M1666.2 674.7h0M1088.8 350.5h0M634.5 451.8h0M1362.6 610.2h0M1359.2 492.4h0M989.4 256.3h0M1445.7 827.5h0M1092.7 374.7h0M1215.2 677.4h0M886.0 250.0h0M1320.5 752.8h0M1085.7 602.9h0M635.2 453.8h0M808.2 477.5h0M1612.3 634.5h0M1221.6 609.4h0M1236.8 819.4h0M1391.9 453.3h0M1395.8 527.6h0M1461.4 841.8h0M1315.9 596.7h0M885.5 321.2h0M1385.0 719.2h0M1384.5 582.0h0M1180.8 614.3h0M1264.6 495.2h0M1283.6 381.9h0M1331.8 527.8h0M1311.8 407.0h0M1531.0 479.6h0M1066.5 427.9h0M878.3 284.0h0M1198.5 771.4h0M1367.7 564.5h0M823.2 265.1h0M1140.2 1192.4h0M1184.6 337.0h0M1341.7 448.7h0M1276.0 551.5h0M1282.8 480.9h0M1344.1 618.7h0M1097.2 498.5h0M704.9 465.7h0M1001.5 1118.8h0M1515.5 488.8h0M1105.6 513.1h0M1682.4 706.8h0M1182.6 396.3h0M1265.2 394.4h0M845.6 229.8h0M1494.2 822.1h0M1271.3 359.8h0M1186.7 378.6h0M1195.3 439.4h0M876.6 230.6h0M1250.3 495.8h0M1201.9 817.5h0M855.6 502.3h0M1109.6 422.5h0M1272.7 848.9h0M974.8 267.6h0M1154.3 819.7h0M1508.3 905.4h0M1338.7 554.9h0M767.1 278.7h0M1471.9 574.4h0M905.8 287.9h0M1527.8 547.8h0M1117.4 1139.4h0M1176.8 694.1h0M1109.8 625.5h0M937.7 276.2h0M1591.8 685.3h0M1329.2 425.9h0M1245.6 795.7h0M1465.8 397.9h0M1238.4 575.1h0M1463.6 400.5h0M866.9 308.2h0M1343.2 422.1h0M1396.6 662.7h0M1070.7 417.0h0M1263.1 537.4h0M1168.1 796.8h0M864.4 471.6h0M1155.2 376.8h0M1391.6 720.1h0M1303.2 597.8h0M1357.6 619.4h0M1371.8 546.4h0M1389.8 598.0h0M1147.9 1188.0h0M1349.0 649.8h0M1223.4 699.2h0M1475.3 839.6h0M1442.6 890.8h0M1465.9 598.5h0M1431.2 815.4h0M613.2 390.0h0M1115.2 645.8h0M1339.0 496.8h0M1312.3 843.9h0M1674.5 637.1h0M1056.5 1176.4h0M1317.3 570.3h0M1476.3 415.9h0M1508.5 740.2h0M1392.6 597.9h0M1132.8 660.9h0M1149.5 1180.4h0M1532.1 489.7h0M1654.6 689.5h0M1140.2 642.9h0M1295.7 424.9h0M1573.0 707.8h0M1137.9 1132.3h0M1269.8 550.4h0M695.7 469.1h0M1214.6 546.3h0M1320.0 659.4h0M1681.1 594.0h0M1280.7 467.1h0M859.5 228.1h0M975.3 1111.7h0M1672.3 614.1h0M1412.4 530.8h0M1476.5 911.0h0M1241.1 791.0h0M1355.4 558.3h0M1490.4 461.7h0M1208.9 483.8h0M1501.6 480.8h0M1105.7 1116.8h0M1279.7 563.9h0M1455.4 818.3h0M1276.7 443.7h0M1430.7 852.4h0M1237.8 656.3h0M856.3 310.3h0M1437.5 861.6h0M1507.7 545.7h0M1301.6 515.8h0M1288.0 766.9h0M1473.8 403.8h0M1345.7 466.8h0M1501.5 743.4h0M973.2 1097.0h0M1085.9 532.7h0M939.0 305.5h0M850.9 264.9h0M1225.8 439.5h0M870.3 314.5h0M947.8 242.2h0M1275.3 482.3h0M1250.3 349.4h0M1288.5 508.0h0M1045.8 523.4h0M1130.6 1207.2h0M1278.4 767.1h0M1201.5 413.8h0M1289.5 402.4h0M1260.0 796.1h0M1474.2 420.1h0M1269.7 570.0h0M1707.5 673.5h0M1079.8 425.5h0M1418.6 381.9h0M1355.9 711.6h0M1103.1 1171.2h0M1220.3 445.6h0M1101.1 367.4h0M1098.0 566.6h0M1311.0 734.1h0M832.1 475.0h0M1310.3 484.3h0M1122.4 408.0h0M1151.8 460.6h0M814.6 256.0h0M1228.5 803.4h0M771.9 296.8h0M1171.2 408.2h0M1218.5 803.4h0M1375.2 603.4h0M895.6 256.0h0M1457.9 908.9h0M1433.5 853.8h0M1395.5 450.6h0M1345.7 535.3h0M794.9 308.9h0M1344.6 515.6h0M1220.3 462.3h0M1495.7 824.5h0M1308.9 555.9h0M1091.0 519.7h0M1317.7 482.7h0M1167.0 374.4h0M1142.0 646.5h0M1210.6 473.2h0M882.0 315.0h0M1076.9 1163.7h0M1132.9 495.2h0M1649.1 640.7h0M1197.8 578.4h0M1498.9 899.7h0M1187.0 804.4h0M1037.5 511.8h0M1193.0 368.1h0M628.8 435.7h0M1336.0 505.5h0M826.6 472.6h0M1312.2 689.6h0M1467.2 548.3h0M1276.0 582.0h0M1345.5 429.2h0M1060.8 523.3h0M1479.7 924.6h0M765.6 284.3h0M1231.6 814.9h0M890.8 291.8h0M881.9 297.6h0M1201.4 662.7h0M1120.0 642.7h0M1391.3 523.0h0M1445.8 390.9h0M1312.3 682.5h0M856.9 278.2h0M1383.0 606.6h0M1095.9 527.9h0M1203.2 824.9h0M1508.1 743.6h0M1672.5 663.4h0M1458.2 480.5h0M972.7 1121.9h0M963.9 260.9h0M1285.5 540.5h0M1247.2 398.3h0M873.7 249.9h0M1370.7 701.9h0M1353.7 552.9h0M816.4 288.4h0M1257.6 454.6h0M1484.7 510.4h0M1350.5 598.2h0M846.1 345.6h0M626.6 391.7h0M1236.4 448.1h0M1269.9 713.8h0M1310.5 584.0h0M858.5 389.3h0M1310.9 402.2h0M1301.8 422.7h0M1376.4 482.9h0M1000.9 1143.1h0M1222.9 515.5h0M1415.2 385.5h0M1155.0 559.2h0M1394.0 455.8h0M1450.8 846.9h0M1364.7 569.5h0M1384.4 608.1h0M866.4 341.5h0M1146.9 345.3h0M1028.3 1164.5h0M1345.2 716.2h0M1216.5 451.1h0M1580.0 716.5h0M1234.2 836.8h0M1028.2 1118.1h0M1150.5 448.6h0M1235.8 434.1h0M1186.0 349.8h0M1271.4 351.3h0M865.0 401.9h0M1454.0 510.1h0M870.6 486.6h0M627.3 457.2h0M1515.9 501.1h0M1267.6 550.7h0M1508.1 458.5h0M768.3 460.6h0M1017.5 1099.8h0M1515.5 726.3h0M1346.8 548.8h0M1348.1 591.2h0M795.8 455.3h0M1649.3 636.7h0M1400.7 455.2h0M1332.1 573.9h0M1148.4 495.3h0M869.2 283.6h0M1276.9 605.2h0M1377.9 678.4h0M1598.5 654.4h0M1437.8 436.6h0M1594.0 688.1h0M1100.7 1129.9h0M1163.5 642.7h0M1105.4 1135.5h0M1289.9 464.3h0M613.2 391.2h0M1285.3 704.3h0M801.1 491.8h0M1447.0 842.3h0M1074.0 353.8h0M831.8 241.6h0M1705.6 649.2h0M1175.9 689.1h0M1151.5 435.8h0M1288.5 705.0h0M1480.4 850.5h0M1592.7 730.6h0M708.7 467.3h0M911.1 248.8h0M1123.8 383.8h0M1430.5 701.6h0M1162.3 387.1h0M713.0 460.3h0M1338.6 621.9h0M1277.8 448.6h0M907.8 259.5h0M1180.4 801.3h0M614.5 383.8h0M1163.5 472.7h0M1507.3 840.9h0M1348.9 497.5h0M1401.7 603.4h0M1621.6 683.3h0M1036.4 538.1h0M1267.7 769.3h0M1192.7 611.5h0M1276.0 804.5h0M1212.6 696.8h0M1360.7 555.8h0M959.8 261.8h0M940.2 252.2h0M1099.7 532.1h0M1685.7 695.8h0M807.6 312.4h0M1123.9 381.2h0M925.3 331.3h0M1127.6 379.6h0M1595.2 663.5h0M1444.9 406.1h0M1423.8 473.4h0M1352.5 555.1h0M1428.9 842.8h0M1189.0 388.5h0M1323.5 417.9h0M1357.3 481.8h0M1486.1 415.4h0M1301.9 379.0h0M789.7 256.9h0M1238.5 502.3h0M810.7 241.4h0M1149.7 1115.9h0M1360.7 567.7h0M1135.8 354.2h0M1097.5 634.7h0M864.3 316.7h0M1364.1 616.0h0M1694.8 611.3h0M1078.2 576.3h0M1450.0 422.9h0M857.7 312.1h0M1257.8 390.9h0M929.7 278.1h0M1267.3 423.8h0M1217.8 708.5h0M1457.8 806.7h0M972.3 1129.9h0M1363.1 555.4h0M950.3 243.2h0M953.5 257.9h0M1334.8 486.3h0M1319.6 477.2h0M1382.5 720.6h0M979.5 279.6h0M1363.3 486.8h0M1282.0 435.6h0M778.7 282.9h0M1214.5 587.9h0M1053.0 570.7h0M1224.8 677.1h0M1319.5 786.7h0M1014.3 547.3h0M1106.2 1164.7h0M1124.1 418.8h0M1220.3 689.1h0M1280.3 567.1h0M1203.5 771.4h0M1713.3 671.3h0M1154.5 812.3h0M1068.7 344.5h0M1234.8 372.9h0M802.6 467.0h0M1154.1 815.3h0M1509.3 693.6h0M1232.2 557.4h0M1292.2 364.9h0M1414.3 838.4h0M1533.3 502.8h0M1364.3 622.9h0M1458.4 623.0h0M1479.1 615.6h0M1314.1 505.3h0M1677.6 658.2h0M1461.0 888.0h0M1477.2 803.4h0M1531.0 489.4h0M1443.7 862.4h0M1501.9 749.4h0M1528.8 687.2h0M1255.4 747.0h0M656.5 425.0h0M1021.2 289.8h0M1524.0 842.8h0M1453.8 836.7h0M1290.5 553.5h0M1267.3 476.1h0M855.0 229.3h0M1237.9 467.2h0M1600.6 675.4h0M1498.5 833.6h0M764.6 262.5h0M876.0 409.0h0M1502.6 434.3h0M1360.1 602.8h0M1049.2 1096.3h0M1396.1 723.6h0M1539.0 551.0h0M861.1 379.1h0M1485.8 485.4h0M1132.6 511.2h0M1145.4 578.4h0M1338.0 703.3h0M906.9 329.4h0M1042.2 538.7h0M1522.8 486.9h0M1381.7 448.7h0M1201.3 771.2h0M1392.5 848.1h0M1384.8 786.1h0M948.9 251.8h0M882.4 286.5h0M1160.2 832.9h0M1356.9 548.9h0M915.4 260.3h0M1174.8 482.1h0M1405.7 462.3h0M1374.0 655.3h0M1323.9 431.2h0M976.5 293.9h0M1040.6 1151.6h0M1412.8 711.2h0M1228.6 428.1h0M1512.1 843.0h0M1438.6 829.3h0M1192.5 680.1h0M1071.3 1130.5h0M1419.2 484.6h0M1344.4 748.8h0M1454.2 598.2h0M1206.4 770.2h0M1303.4 393.4h0M1230.6 554.0h0M987.4 1128.5h0M1644.7 637.1h0M1245.1 840.1h0M1131.0 1181.7h0M807.8 256.5h0M1375.1 633.4h0M1068.1 494.1h0M1106.9 1197.1h0M877.8 278.1h0M889.6 364.8h0M1352.4 531.1h0M1101.5 614.5h0M807.8 477.4h0M1614.7 699.6h0M1096.7 1200.4h0M1307.0 461.6h0M1486.8 836.7h0M1705.6 610.6h0M1215.3 663.8h0M877.3 501.0h0M1661.9 667.5h0M1392.5 622.3h0M1481.5 553.2h0M1499.7 915.4h0M1463.9 911.7h0M1260.9 506.2h0M1188.9 573.5h0M1230.4 466.4h0M1417.7 600.2h0M816.9 485.1h0M1173.2 605.3h0M1209.8 761.9h0M1369.9 602.4h0M1171.0 606.8h0M1108.4 1139.8h0M1230.9 385.0h0M1256.1 703.4h0M1196.6 698.8h0M1093.3 1158.0h0M1106.6 401.2h0M1390.4 544.4h0M907.1 257.4h0M1455.3 843.9h0M1088.1 504.0h0M1109.1 1151.7h0M1260.1 811.1h0M990.3 243.0h0M1162.2 832.1h0M1376.3 760.0h0M1706.4 608.9h0M1507.5 833.2h0M1099.3 602.4h0M1455.8 838.8h0M1223.0 363.7h0M1175.0 426.0h0M1402.9 510.3h0M1275.2 586.8h0M1463.5 428.7h0M845.6 272.4h0M1630.1 678.9h0M1464.7 558.9h0M1246.4 506.3h0M1183.4 643.0h0M1038.5 1155.2h0M1073.1 1098.1h0M1077.1 1126.2h0M1459.0 856.6h0M1082.9 507.2h0M1506.6 535.8h0M1188.7 389.4h0M1095.1 1191.8h0M1199.7 839.7h0M1439.1 876.7h0M1085.3 484.2h0M1466.1 878.6h0M1432.7 672.3h0M1303.2 538.2h0M943.1 244.9h0M1016.4 1094.6h0M855.9 477.1h0M1339.4 472.6h0M1088.9 1129.3h0M1647.3 701.6h0M1266.4 481.5h0M1391.9 592.5h0M1168.4 596.1h0M1206.1 494.5h0M1250.0 513.3h0M1497.9 885.1h0M1321.6 518.7h0M1395.0 668.8h0M1514.7 470.2h0M1434.8 402.8h0M1249.9 580.0h0M1046.8 589.7h0M659.9 410.1h0M1507.4 538.1h0M1457.0 478.3h0M1382.4 559.6h0M1362.4 529.4h0M1073.2 508.4h0M1509.5 716.4h0M1360.2 617.5h0M1481.0 594.1h0M1125.2 1187.2h0M1481.0 421.6h0M1147.9 807.6h0M1211.3 376.7h0M1480.9 827.2h0M1014.8 1101.0h0M1019.9 1129.5h0M1413.3 689.6h0M1639.3 683.9h0M1474.8 800.6h0M1682.5 622.4h0M1191.9 837.1h0M1378.6 542.7h0M1175.6 418.4h0M1264.0 388.1h0M1513.3 487.1h0M1666.4 715.7h0M1105.9 344.1h0M1377.0 631.4h0M826.4 498.7h0M1690.4 618.0h0M1486.1 813.7h0M1317.3 506.0h0M1377.9 560.7h0M862.4 370.9h0M1213.4 822.2h0M1271.4 766.5h0M875.9 327.7h0M1359.6 473.6h0M1193.1 610.4h0M1350.8 722.3h0M1081.6 388.7h0M1200.0 604.4h0M1487.7 803.3h0M1454.4 839.6h0M1412.4 504.0h0M1217.9 772.2h0M1215.2 422.6h0M1322.0 619.9h0M703.4 471.0h0M948.7 239.0h0M1130.0 341.4h0M834.0 502.7h0M1562.0 728.8h0M1401.0 795.2h0M970.2 242.1h0M1351.9 579.5h0M1157.9 586.7h0M1131.6 1163.1h0M1096.0 537.6h0M1267.2 829.3h0M1274.3 447.2h0M857.5 286.9h0M1694.9 585.5h0M1121.8 638.1h0M1262.0 459.5h0M1475.8 897.2h0M1490.2 872.0h0M1105.5 1198.7h0M1204.6 353.6h0M1362.3 732.2h0M1080.2 1135.2h0M1112.7 1208.3h0M944.3 312.8h0M1405.9 838.9h0M1050.6 498.0h0M1566.0 670.9h0M914.9 311.1h0M1225.5 453.2h0M1702.0 596.7h0M1557.0 731.0h0M1366.5 560.8h0M1482.7 520.1h0M878.9 305.8h0M1233.0 670.6h0M1338.5 492.8h0M1299.4 755.8h0M874.3 251.0h0M1028.7 1100.3h0M1068.5 503.9h0M1452.7 839.3h0M1419.5 580.7h0M974.8 251.6h0M1200.2 606.6h0M1313.6 550.1h0M1416.1 804.8h0M1108.2 1124.5h0M1174.4 407.8h0M797.2 470.9h0M1114.9 1200.8h0M1422.1 803.2h0M1535.1 744.4h0M1409.0 597.1h0M868.6 284.0h0M1141.6 498.3h0M1276.8 372.3h0M1320.3 654.9h0M1423.9 581.5h0M1322.6 544.8h0M1187.5 425.6h0M1074.7 422.4h0M1106.4 485.9h0M1432.4 402.8h0M784.2 275.9h0M1228.2 445.9h0M1333.5 503.4h0M932.0 315.9h0M1273.0 671.1h0M929.6 312.4h0M1420.0 772.8h0M1160.0 466.0h0M1384.4 721.9h0M1441.7 868.4h0M1134.3 603.8h0M1307.9 758.4h0M1307.9 513.5h0M1522.1 851.1h0M1208.9 393.3h0M1505.6 855.9h0M1162.7 776.5h0M1023.6 1097.9h0M1321.7 538.7h0M1504.9 904.9h0M1171.8 801.0h0M1327.5 614.0h0M1418.3 865.6h0M1426.7 880.9h0M827.7 247.6h0M1269.4 386.5h0M1174.8 586.7h0M1135.9 356.6h0M1428.2 819.0h0M1521.2 839.4h0M1330.6 484.8h0M1306.5 422.3h0M879.8 235.2h0M793.2 449.9h0M817.6 283.7h0M1326.6 765.7h0M821.9 446.1h0M1177.6 622.7h0M1042.1 515.1h0M1379.1 603.2h0M1365.8 563.0h0M899.6 303.9h0M633.6 449.7h0M956.6 256.7h0M1301.1 498.9h0M1525.5 545.2h0M629.6 401.8h0M1158.0 414.2h0M1103.2 346.3h0M1439.7 822.2h0M1268.4 499.4h0M1318.1 535.4h0M1071.7 514.7h0M1549.1 734.4h0M837.9 316.1h0M1180.9 760.3h0M1510.6 569.6h0M1024.1 287.8h0M1316.6 459.3h0M1470.8 406.3h0M1241.0 697.0h0M1377.2 623.5h0M1109.8 1103.7h0M1225.0 838.9h0M860.8 336.7h0M1213.1 378.4h0M1194.2 775.0h0M1067.9 402.7h0M1128.0 1206.1h0M1239.2 471.4h0M1229.7 493.1h0M1051.0 515.1h0M1051.2 518.1h0M664.0 475.2h0M1149.9 500.1h0M1103.6 649.9h0M1494.3 899.2h0M1678.0 635.6h0M1118.7 1186.5h0M1380.5 787.6h0M1447.3 495.1h0M1693.4 662.5h0M1526.3 546.8h0M888.2 290.0h0M774.6 302.4h0M1336.5 607.7h0M1388.7 639.6h0M1206.7 351.7h0M981.6 1124.0h0M1245.1 467.0h0M1075.4 1177.6h0M716.4 459.5h0M833.3 317.4h0M1425.3 715.5h0M1104.8 1128.4h0M1397.7 700.5h0M1337.7 519.0h0M1703.8 626.6h0M1419.3 802.6h0M898.4 335.9h0M1516.0 486.8h0M1392.2 510.2h0M1513.1 483.6h0M1328.5 581.0h0M1562.5 714.2h0M1474.7 847.2h0M1056.7 1147.8h0M1512.8 749.2h0M925.9 314.3h0M1273.7 472.4h0M788.3 476.5h0M1351.3 620.1h0M1197.5 629.9h0M830.8 291.7h0M1110.4 396.8h0M1465.7 473.4h0M1107.5 388.8h0M976.7 266.0h0M1507.2 595.4h0M1251.3 506.7h0M1345.0 621.0h0M1316.5 745.5h0M1119.6 1199.4h0M1092.9 489.3h0M1433.7 889.6h0M1331.8 768.2h0M1158.9 595.3h0M1105.5 549.7h0M1487.6 545.2h0M1120.2 543.4h0M1660.4 710.1h0M1081.2 1096.9h0M1207.5 601.2h0M1316.9 411.8h0M1141.0 443.7h0M1710.2 616.6h0M794.1 292.3h0M1457.6 875.7h0M1379.5 539.6h0M1383.1 614.3h0M1204.3 819.3h0M1123.7 1167.0h0M1062.2 510.6h0M1384.3 671.2h0M1417.4 597.2h0M1111.4 580.5h0M1412.7 848.0h0M1417.4 592.3h0M1090.4 627.6h0M1130.7 356.5h0M1104.2 505.0h0M1508.3 458.2h0M1307.2 766.4h0M1264.8 806.2h0M663.8 439.2h0M1202.2 417.0h0M1422.3 381.4h0M1368.3 442.5h0M1036.9 520.6h0M1588.4 671.2h0M1301.3 771.5h0M1412.7 827.4h0M1342.8 583.9h0M1382.1 689.2h0M827.5 225.3h0M840.2 299.3h0M977.4 269.9h0M874.3 278.0h0M1185.8 581.7h0M1332.2 539.9h0M1091.7 373.5h0M1199.9 531.8h0M1538.7 494.6h0M1103.8 496.0h0M1131.1 630.3h0M1076.5 1157.3h0M1445.8 889.2h0M1132.4 506.5h0M1566.7 717.3h0M1169.3 810.7h0M1714.8 681.4h0M1431.4 837.4h0M1362.5 666.5h0M1346.5 546.8h0M1414.2 608.4h0M1216.9 584.8h0M885.5 220.8h0M989.3 320.6h0M1704.2 634.8h0M1386.7 561.7h0M1105.1 511.8h0M1483.8 605.1h0M1193.8 444.2h0M1159.3 797.8h0M1502.7 532.9h0M1411.7 531.8h0M1420.3 531.1h0M1157.3 359.9h0M1380.1 683.1h0M767.2 273.1h0M793.7 497.6h0M861.9 495.4h0M1076.6 396.6h0M855.4 296.7h0M1240.3 404.9h0M967.0 1104.6h0M1698.5 685.4h0M1395.1 726.1h0M628.9 376.0h0M1515.4 571.4h0M1341.1 597.1h0M1355.1 559.7h0M1407.8 819.9h0M1068.7 507.0h0M1265.9 505.6h0M889.5 234.4h0M1100.1 541.8h0M1209.5 538.5h0M1275.8 359.1h0M1397.8 591.6h0M798.8 295.0h0M1366.6 577.7h0M1386.3 686.9h0M1329.5 555.8h0M804.0 291.3h0M1067.1 485.0h0M1171.7 399.9h0M820.2 308.9h0M1576.4 649.2h0M1209.0 608.8h0M1096.3 399.7h0M1483.0 917.6h0M950.2 335.0h0M1048.2 527.9h0M1049.3 490.4h0M1064.1 394.1h0M1405.0 651.0h0M1368.3 497.2h0M1277.0 377.7h0M1288.2 435.0h0M1437.5 884.2h0M838.1 358.4h0M1470.2 862.5h0M1289.8 600.4h0M1277.8 364.3h0M1333.1 540.2h0M1497.5 504.6h0M1074.8 415.8h0M1172.5 622.2h0M1565.1 655.0h0M1016.0 1126.9h0M1228.8 717.0h0M1263.8 499.1h0M921.2 301.4h0M1410.9 850.1h0M1176.8 362.9h0M1357.8 705.7h0M1222.5 453.0h0M789.3 439.1h0M1509.7 748.4h0M1221.8 455.0h0M1080.4 386.8h0M1100.7 467.6h0M1688.1 652.5h0M1120.4 1155.4h0M949.5 329.0h0M1238.6 422.8h0M1469.4 446.3h0M795.2 305.8h0M1489.6 560.4h0M1458.3 497.8h0M1257.2 407.7h0M971.2 1129.5h0M1549.4 695.1h0M1462.5 810.9h0M937.9 332.5h0M1354.2 605.9h0M1111.3 635.6h0M1034.3 355.7h0M1013.3 288.5h0M1376.3 621.8h0M1472.0 520.8h0M1441.0 387.2h0M1491.8 468.6h0M1225.5 823.4h0M1565.4 745.0h0M1374.3 703.8h0M1427.3 851.0h0M1449.6 796.8h0M1152.4 600.3h0M616.3 394.5h0M803.4 267.5h0M1402.5 670.8h0M1026.6 1143.4h0M1138.0 1187.2h0M1456.7 478.5h0M1367.1 563.6h0M1240.0 502.6h0M1535.3 535.8h0M1246.6 829.9h0M1476.0 608.7h0M1323.7 420.5h0M1309.3 446.9h0M1448.5 830.7h0M1114.3 533.1h0M1374.7 443.2h0M1356.1 606.5h0M1343.4 564.8h0M835.0 365.2h0M1029.8 562.8h0M1312.1 381.6h0M905.9 297.3h0M1312.8 387.5h0M1437.4 840.8h0M1479.9 437.1h0M1098.9 629.6h0M1299.4 506.5h0M1261.4 519.1h0M1391.8 485.8h0M1687.4 676.3h0M977.3 243.1h0M1359.3 566.9h0M1376.0 683.0h0M1220.2 575.7h0M1392.8 477.3h0M1336.7 563.9h0M1310.7 568.8h0M1178.7 452.3h0M1565.4 727.7h0M1079.3 341.2h0M1134.0 468.5h0M1311.5 575.6h0M1107.3 1184.1h0M1190.4 408.3h0M1482.2 822.6h0M1143.6 1132.1h0M1369.4 453.6h0M1196.8 829.2h0M1475.2 436.5h0M1043.8 553.9h0M1415.7 578.5h0M1306.2 584.7h0M1170.9 669.3h0M1347.6 645.7h0M1271.2 509.0h0M1218.6 398.6h0M1290.6 609.8h0M1437.5 872.8h0M829.6 351.3h0M1412.4 809.2h0M1361.9 651.0h0M1083.3 395.8h0M812.6 510.7h0M1241.1 682.2h0M1495.5 587.0h0M1438.5 669.8h0M1348.8 427.2h0M1389.4 518.2h0M876.4 335.8h0M941.3 299.7h0M1263.8 512.5h0M1497.3 587.6h0M850.4 466.2h0M1121.0 634.1h0M934.4 225.0h0M1278.6 466.9h0M1106.6 625.5h0M1074.5 539.2h0M940.9 300.9h0M1600.6 702.1h0M1228.8 506.9h0M1615.4 620.9h0M1475.2 515.7h0M1476.6 890.5h0M804.3 305.1h0M1212.7 586.9h0M1166.7 378.9h0M1370.6 617.4h0M810.6 228.3h0M1279.1 437.6h0M1210.2 816.5h0M1100.9 564.9h0M1033.7 290.8h0M1514.9 886.0h0M1185.5 571.4h0M1436.0 801.6h0M1504.6 517.5h0M1162.0 537.0h0M1028.1 1163.0h0M856.3 350.0h0M936.5 272.5h0M1384.9 621.3h0M1173.0 472.5h0M1611.1 660.8h0M1059.3 1182.9h0M1212.1 371.1h0M1290.9 774.1h0M1231.6 417.4h0M1254.4 785.1h0M1455.9 598.7h0M1275.4 664.1h0M1460.6 620.4h0M1349.5 788.1h0M1374.2 552.9h0M1131.2 1207.6h0M1350.1 565.9h0M1393.7 496.1h0M1052.9 566.2h0M1265.7 443.9h0M1111.2 396.1h0M1341.9 551.4h0M1106.8 1201.2h0M1226.1 815.9h0M811.2 309.4h0M1174.1 377.8h0M1660.1 714.5h0M1221.2 625.0h0M1168.2 434.5h0M1114.4 530.5h0M1282.0 453.0h0M1196.9 581.2h0M858.2 250.9h0M1295.6 702.4h0M643.5 446.8h0M1203.6 571.9h0M1080.1 393.2h0M776.6 302.5h0M1156.2 634.4h0M1384.0 703.3h0M1168.6 492.8h0M1081.5 570.1h0M1260.8 503.4h0M1341.5 474.9h0M1106.8 388.6h0M1263.8 423.7h0M1078.0 510.1h0M904.9 268.6h0M860.9 493.1h0M1442.5 895.4h0M1391.7 598.4h0M1188.7 556.9h0M1177.9 656.5h0M1293.5 757.8h0M1146.9 653.5h0M910.5 261.5h0M1350.6 614.7h0M1520.6 897.0h0M1235.5 544.8h0M971.5 1095.3h0M1333.5 847.9h0M1211.6 640.0h0M1165.4 1099.6h0M1172.3 592.4h0M1055.9 1100.8h0M1231.0 495.7h0M1107.2 474.6h0M1427.2 874.0h0M1470.9 838.7h0M1270.4 568.9h0M1159.7 446.6h0M1280.1 519.9h0M1450.9 865.5h0M840.0 377.6h0M1270.4 666.1h0M1483.3 883.4h0M1093.3 534.2h0M1336.3 549.2h0M1057.9 569.1h0M1311.1 615.0h0M1272.4 716.2h0M1020.7 1128.5h0M1101.1 339.9h0M1357.0 580.0h0M1176.2 599.4h0M1173.7 356.3h0M1293.7 778.9h0M1529.9 479.3h0M1417.4 836.1h0M1200.8 467.3h0M844.3 314.9h0M1564.2 698.8h0M1412.7 848.6h0M897.6 292.6h0M1210.0 461.0h0M1291.2 582.0h0M703.1 470.5h0M1210.0 358.7h0M1553.2 734.8h0M1097.7 499.0h0M1176.4 391.2h0M1436.2 891.1h0M1497.1 570.3h0M1493.2 844.8h0M1183.9 578.4h0M959.3 234.5h0M975.4 1113.0h0M1629.3 708.4h0M896.4 227.7h0M1405.5 531.8h0M1134.1 1154.8h0M1309.7 597.8h0M1119.1 368.2h0M1597.3 702.1h0M1085.9 491.7h0M1420.5 490.6h0M1317.6 523.3h0M1264.5 764.7h0M1459.8 593.8h0M1449.2 435.5h0M1109.9 522.9h0M1028.0 293.0h0M1253.0 378.7h0M1479.7 558.3h0M1317.8 441.6h0M1211.9 603.0h0M861.6 335.4h0M803.1 490.4h0M1268.6 500.5h0M840.5 474.1h0M1068.4 406.9h0M1310.0 643.8h0M1443.5 500.0h0M1498.0 457.7h0M905.9 316.1h0M1127.8 1154.4h0M971.5 262.0h0M1435.3 384.7h0M1673.9 677.1h0M859.6 504.3h0M1164.3 716.4h0M621.1 402.2h0M1455.2 485.7h0M870.2 370.0h0M1162.0 604.8h0M950.4 259.9h0M1276.4 802.1h0M1508.6 840.9h0M1572.4 742.4h0M680.7 475.7h0M1490.7 573.8h0M1243.9 367.4h0M697.0 471.7h0M1389.1 468.6h0M1230.4 568.2h0M1070.8 343.7h0M1510.8 890.2h0M1302.1 464.3h0M1378.1 532.2h0M1150.7 1183.1h0M1307.3 451.1h0M1257.6 704.2h0M861.4 296.4h0M1258.2 483.1h0M640.6 438.8h0M1262.8 796.5h0M1473.0 497.3h0M1707.3 602.6h0M1088.7 418.9h0M1321.5 567.7h0M1345.9 584.8h0M1480.8 885.6h0M1240.1 446.3h0M1300.9 501.1h0M1257.7 586.7h0M798.2 496.7h0M1329.4 536.9h0M1323.6 763.6h0M1361.5 621.8h0M809.9 483.2h0M1419.9 483.9h0M1636.0 655.2h0M1386.8 706.6h0M801.2 461.3h0M1534.9 525.9h0M1240.8 522.3h0M1051.4 491.0h0M1059.6 1123.7h0M946.9 253.7h0M1180.4 641.4h0M1112.3 1113.4h0M1687.2 636.7h0M852.1 469.2h0M1428.4 683.0h0M1125.3 1142.1h0M1118.3 1182.2h0M1168.0 627.9h0M1700.8 617.9h0M764.6 277.7h0M1205.8 767.6h0M1222.2 393.8h0M1100.1 486.0h0M1070.0 1160.8h0M1330.0 409.1h0M1074.3 1149.5h0M1316.9 729.3h0M1342.8 533.2h0M710.0 460.3h0M1476.2 526.1h0M1429.2 891.6h0M1085.6 341.4h0M1396.2 480.4h0M1151.0 621.0h0M800.9 490.0h0M1206.3 560.0h0M1679.8 694.9h0M1002.0 1143.1h0M1262.9 607.3h0M876.9 280.4h0M701.1 467.9h0M1718.3 654.6h0M1241.9 488.4h0M1487.5 606.5h0M1180.5 573.6h0M837.9 235.1h0M1197.1 420.1h0M1127.6 533.3h0M1338.2 492.5h0M1489.0 492.9h0M1588.9 647.1h0M1514.7 904.7h0M1281.3 387.7h0M1684.9 585.9h0M1128.3 483.5h0M865.0 250.3h0M1420.5 827.4h0M1472.5 862.6h0M1366.7 690.1h0M1317.4 428.7h0M1286.6 721.0h0M1367.6 450.9h0M1157.3 452.7h0M1372.4 607.4h0M927.8 294.0h0M901.2 253.9h0M1135.7 642.0h0M829.9 292.3h0M680.7 384.7h0M1096.5 1207.0h0M867.2 317.0h0M1053.3 507.1h0M1264.8 514.3h0M1275.7 524.2h0M921.8 301.6h0M1076.2 499.2h0M1276.9 718.6h0M1442.2 882.6h0M1352.0 773.9h0M1509.7 849.0h0M822.7 451.0h0M1167.4 340.4h0M1323.4 787.1h0M1340.2 438.5h0M1206.5 581.8h0M1093.8 497.8h0M1138.6 604.7h0M1452.9 807.2h0M952.9 267.0h0M1511.4 448.0h0M1444.7 508.3h0M877.3 292.0h0M1506.6 873.7h0M685.5 433.4h0M1487.6 425.0h0M1182.6 687.0h0M1106.7 385.1h0M1256.9 752.2h0M1282.3 600.1h0M887.0 243.7h0M1385.5 545.8h0M1191.9 632.7h0M1093.8 446.6h0M1616.5 637.7h0M1374.2 561.5h0M1168.5 826.4h0M1423.3 818.0h0M1267.8 508.4h0M1045.7 1093.6h0M1167.7 552.1h0M1244.1 479.6h0M1534.0 694.7h0M1435.2 858.9h0M1189.6 388.2h0M993.5 311.7h0M1144.1 460.4h0M1144.7 597.2h0M1572.8 656.0h0M1283.6 815.8h0M1432.5 384.5h0M995.6 279.2h0M1514.8 485.5h0M1420.2 853.5h0M821.1 241.7h0M1527.1 742.9h0M1275.2 490.9h0M825.4 370.3h0M897.6 248.0h0M1396.1 506.4h0M817.3 479.8h0M1071.8 514.9h0M1611.9 693.7h0M1365.6 629.9h0M1462.3 531.0h0M1351.6 492.7h0M1371.1 667.0h0M840.1 252.8h0M998.3 1128.6h0M1079.5 597.9h0M981.2 243.4h0M1330.6 609.0h0M1222.3 417.8h0M1290.7 497.3h0M833.3 235.1h0M1186.9 511.2h0M1432.0 897.8h0M1511.3 472.4h0M1257.9 426.1h0M1515.8 563.5h0M912.9 228.8h0M1095.3 1172.1h0M1356.8 546.7h0M1442.9 829.0h0M1099.6 384.7h0M1166.2 804.6h0M1010.9 1116.6h0M1388.6 521.9h0M1220.6 692.8h0M1270.3 551.5h0M1316.5 519.1h0M896.5 293.4h0M1563.7 741.1h0M1035.3 508.6h0M1195.0 769.4h0M1019.5 547.7h0M779.9 288.0h0M1318.5 762.6h0M1369.9 783.3h0M952.1 345.6h0M1047.4 1136.2h0M791.8 450.2h0M776.9 477.8h0M1139.5 489.4h0M806.0 428.6h0M1499.2 860.9h0M1114.3 373.4h0M1173.3 373.6h0M1121.2 485.8h0M629.8 397.0h0M1179.2 410.8h0M1683.0 642.6h0M848.5 223.7h0M875.6 341.8h0M633.6 456.6h0M1369.7 456.7h0M865.9 363.2h0M1156.4 525.7h0M1266.5 500.9h0M990.6 240.5h0M1450.4 407.4h0M670.2 468.4h0M1173.3 624.1h0M1104.6 430.6h0M1311.7 522.1h0M856.4 286.6h0M1474.6 424.8h0M1496.9 551.2h0M867.8 272.9h0M1259.4 850.8h0M1005.7 308.2h0M1187.1 596.5h0M1107.4 1207.9h0M1393.7 635.8h0M1389.8 616.6h0M1347.1 471.0h0M1677.9 664.6h0M1432.3 817.5h0M1358.2 602.3h0M1123.1 407.7h0M953.7 282.3h0M1069.1 490.5h0M1369.8 729.3h0M1151.8 501.0h0M1413.9 511.1h0M1072.4 610.2h0M1472.3 490.5h0M1579.5 687.9h0M1145.4 559.8h0M1200.5 801.9h0M1406.3 606.7h0M1233.3 409.7h0M1371.4 513.2h0M1229.5 516.1h0M1353.3 451.2h0M1238.8 800.3h0M1321.6 578.4h0M1463.7 628.1h0M895.3 264.3h0M857.4 283.0h0M1001.9 328.7h0M1226.1 570.5h0M1402.3 524.0h0M1515.4 830.2h0M1473.5 809.3h0M1356.2 613.4h0M820.8 496.8h0M1333.5 601.0h0M1155.2 466.5h0M1500.4 592.2h0M1198.4 617.2h0M1336.8 605.3h0M1452.5 844.4h0M810.9 510.5h0M1370.6 543.1h0M1328.2 489.5h0M1301.1 537.9h0M1227.4 812.6h0M1141.2 1132.7h0M1161.8 527.8h0M1322.9 567.9h0M839.0 233.8h0M1342.3 495.4h0M1342.0 652.2h0M1047.4 1145.1h0M1225.8 807.8h0M1353.8 594.5h0M1508.4 451.1h0M1094.6 492.1h0M1193.7 806.3h0M1313.9 461.3h0M1293.0 593.4h0M1258.8 522.5h0M1519.4 696.4h0M1208.3 378.7h0M1376.7 762.7h0M1201.3 601.9h0M1102.8 1199.2h0M1120.9 650.4h0M1386.2 735.1h0M1236.2 839.1h0M1330.4 451.6h0M1471.8 411.5h0M1457.7 878.6h0M1367.5 583.4h0M880.8 386.1h0M1373.8 580.8h0M1150.3 438.8h0M1228.9 713.9h0M1272.1 505.7h0M1006.9 1133.6h0M868.9 488.1h0M1210.4 804.4h0M1107.8 470.1h0M802.3 232.3h0M1108.6 557.4h0M1318.8 534.2h0M1135.4 628.0h0M1416.2 468.2h0M971.9 284.4h0M1419.2 825.8h0M1527.5 877.4h0M1067.5 1117.4h0M938.3 249.9h0M1379.9 710.4h0M1176.7 695.1h0M1009.0 1095.1h0M836.8 351.3h0M1294.6 751.7h0M1346.9 568.5h0M1413.0 463.1h0M1146.4 598.2h0M1242.0 466.4h0M1265.6 826.9h0M1319.9 684.5h0M1365.9 472.0h0M1312.1 761.1h0M904.3 329.7h0M906.1 247.0h0M1162.0 609.4h0M1297.5 610.4h0M1437.0 881.5h0M1085.0 407.0h0M1268.2 408.2h0M1177.5 821.8h0M956.9 356.4h0M1185.2 635.4h0M1294.3 763.7h0M1167.0 600.3h0M1382.6 681.2h0M1175.8 642.3h0M1027.6 557.6h0M1367.7 625.4h0M1192.2 346.8h0M1245.5 520.3h0M978.2 1124.9h0M1088.0 1125.8h0M1394.7 482.7h0M1514.4 844.9h0M1616.7 640.9h0M923.0 305.8h0M1291.5 773.3h0M1341.0 734.9h0M1386.0 560.8h0M1256.0 502.4h0M1163.7 805.5h0M1074.1 1156.4h0M1244.8 510.1h0M1120.4 624.4h0M1332.8 765.1h0M1324.0 490.2h0M1063.2 499.4h0M1174.7 654.9h0M817.2 271.2h0M1482.2 892.0h0M1481.8 912.7h0M1191.7 553.0h0M1160.6 604.3h0M980.4 1127.5h0M837.7 239.5h0M626.3 393.0h0M1071.3 523.9h0M762.1 262.4h0M1192.9 681.0h0M1377.6 621.9h0M1031.1 1129.8h0M1224.0 408.0h0M1087.8 603.4h0M1343.3 565.6h0M1519.6 454.3h0M792.1 495.9h0M818.4 433.3h0M1329.9 510.6h0M1377.4 721.1h0M1361.3 543.3h0M1439.8 831.3h0M1393.6 617.0h0M1497.1 913.1h0M843.6 362.8h0M1322.5 546.7h0M1297.6 459.2h0M1354.2 562.4h0M1147.8 440.9h0M1200.6 444.2h0M1349.6 555.8h0M819.0 505.2h0M882.4 262.0h0M1340.6 605.6h0M1276.8 366.8h0M1195.1 572.2h0M1301.2 476.8h0M1085.2 488.9h0M1677.4 703.4h0M1558.1 714.5h0M1428.9 829.2h0M1165.5 547.5h0M1517.2 720.5h0M871.5 392.6h0M849.2 385.9h0M1399.1 829.5h0M1087.1 458.9h0M1427.7 901.4h0M1254.7 499.5h0M1188.5 681.9h0M1009.9 1146.8h0M1500.8 897.7h0M1214.9 392.8h0M1429.4 858.9h0M1163.2 660.0h0M1106.5 504.7h0M1139.2 394.8h0M1079.4 1118.3h0M1503.8 735.7h0M1391.3 663.9h0M1137.6 584.2h0M770.9 454.1h0M1089.8 1117.5h0M1416.0 470.7h0M1002.9 1145.0h0M1708.6 667.1h0M1370.8 756.0h0M1371.1 523.2h0M1335.8 787.9h0M1121.6 661.1h0M1394.5 502.3h0M809.6 474.6h0M1626.6 723.7h0M1191.9 805.8h0M1282.9 683.6h0M844.9 372.3h0M848.8 287.5h0M884.3 396.0h0M1032.8 554.4h0M863.8 333.6h0M1127.2 1117.3h0M1132.8 433.2h0M1050.0 324.3h0M1458.9 792.8h0M1078.7 502.2h0M1154.8 617.5h0M1479.0 580.2h0M1299.9 601.2h0M928.0 318.5h0M1183.2 682.5h0M1271.8 353.5h0M1256.6 500.6h0M1308.7 393.2h0M1480.0 858.0h0M1213.7 377.1h0M757.1 345.6h0M1117.6 340.2h0M669.1 468.6h0M1344.1 476.1h0M1335.3 491.0h0M1218.6 803.6h0M1324.0 530.6h0M1455.5 866.3h0M1483.5 454.8h0M1078.8 370.9h0M1083.7 534.5h0M1406.7 755.0h0M1236.9 450.6h0M1173.5 780.8h0M1353.3 707.9h0M1488.2 903.3h0M1143.4 610.8h0M1689.2 619.4h0M1301.8 466.0h0M1346.3 576.9h0M1318.2 686.9h0M819.2 283.0h0M956.4 286.6h0M849.4 259.7h0M1270.4 520.7h0M877.2 380.0h0M847.7 375.4h0M1144.8 378.1h0M1506.9 521.7h0" stroke="#020206"/>
<path d="M1014.7 331.8h0M1373.7 560.5h0M1157.9 772.5h0M1128.0 589.1h0M1172.8 581.0h0M871.1 357.0h0M697.8 467.8h0M1094.9 524.4h0M1356.5 541.1h0M1510.0 533.9h0M830.2 303.9h0M1260.8 491.6h0M826.4 308.9h0M1122.8 588.4h0M975.8 276.3h0M1117.2 461.9h0M813.7 234.9h0M1134.1 1154.0h0M1386.3 729.1h0M1509.6 436.7h0M1360.2 493.4h0M1264.3 583.3h0M1679.7 653.6h0M1153.8 590.3h0M1315.8 787.1h0M794.6 495.2h0M1636.8 717.5h0M990.2 1117.4h0M1379.0 543.7h0M842.9 237.2h0M1164.8 438.0h0M897.5 296.1h0M630.6 452.4h0M1096.2 567.1h0M902.7 222.8h0M836.1 279.3h0M1509.3 732.4h0M1158.5 582.7h0M1209.2 484.8h0M871.7 294.1h0M1257.4 502.1h0M1085.3 497.1h0M1423.6 830.5h0M1503.6 434.8h0M1073.2 1152.7h0M832.5 460.8h0M1611.3 648.1h0M797.1 430.6h0M1267.1 537.2h0M1404.7 377.4h0M1420.5 576.2h0M1298.9 426.9h0M809.9 307.1h0M1085.8 599.0h0M875.1 288.2h0M1142.4 380.2h0M1254.4 815.2h0M861.5 233.9h0M840.6 500.3h0M1517.7 865.0h0M854.8 482.9h0M1133.5 1140.7h0M1243.3 465.2h0M847.9 477.2h0M1214.6 428.6h0M1606.8 696.1h0M910.1 351.6h0M1524.0 494.3h0M1425.2 515.4h0M667.8 470.1h0M1421.4 521.9h0M1214.4 419.5h0M847.4 306.5h0M1345.5 576.8h0M1121.9 510.9h0M1523.7 462.7h0M1359.8 484.9h0M1061.3 1158.8h0M1477.0 926.1h0M1407.3 379.5h0M1054.3 358.0h0M1153.9 804.9h0M1356.0 485.5h0M1215.2 602.0h0M1146.9 598.3h0M1202.1 438.7h0M1415.2 813.2h0M1178.3 376.6h0M1244.3 367.0h0M823.6 386.4h0M1604.0 689.0h0M838.7 482.2h0M1279.5 735.2h0M1350.4 532.1h0M1426.4 842.2h0M1082.3 1130.0h0M785.3 307.7h0M817.9 235.9h0M1163.6 613.7h0M800.3 240.1h0M1519.5 867.1h0M1368.4 565.8h0M994.3 1095.5h0M1137.4 580.4h0M1352.6 548.7h0M1691.4 600.8h0M1449.7 481.3h0M1508.2 576.0h0M807.1 284.9h0M1276.0 609.7h0M1350.5 518.9h0M1067.1 1154.0h0M1119.4 1117.0h0M1067.6 592.0h0M1134.1 1158.7h0M1244.9 822.1h0M859.7 482.0h0M1509.8 751.8h0M1191.9 589.0h0M832.7 477.4h0M1206.4 560.3h0M1110.4 1168.2h0M826.6 364.8h0M1140.0 539.2h0M1056.7 1149.8h0M1163.8 405.1h0M1284.7 526.1h0M818.2 289.8h0M792.9 487.6h0M1678.1 635.5h0M1193.4 592.9h0M1371.6 610.0h0M1219.4 478.6h0M869.2 275.8h0M1469.1 557.2h0M1460.2 886.6h0M980.9 249.0h0M1102.7 1126.0h0M1378.6 493.7h0M780.4 304.3h0M1387.0 534.4h0M821.4 314.1h0M1499.8 443.5h0M1566.1 705.2h0M1142.9 359.9h0M1104.8 1119.2h0M1269.2 768.9h0M1421.2 503.7h0M880.8 262.8h0M1525.6 456.3h0M1332.8 469.2h0M1513.7 722.4h0M1144.7 374.5h0M1269.6 661.4h0M859.1 352.4h0M803.2 332.4h0M860.0 472.7h0M855.7 463.7h0M1200.4 502.0h0M1538.8 502.9h0M1227.0 388.5h0M1212.5 408.8h0M1273.4 509.6h0M1253.3 509.6h0M700.5 466.4h0M1512.1 738.9h0M1147.1 575.8h0M1343.1 475.6h0M1491.0 834.4h0M1278.5 500.2h0M1258.2 617.4h0M980.5 244.2h0M1365.2 481.2h0M1225.3 433.0h0M1128.0 600.6h0M1368.1 606.7h0M1508.2 448.2h0M1020.6 1104.7h0M1134.8 1192.4h0M1296.8 711.5h0M1656.4 661.9h0M1243.1 387.5h0M1475.7 836.4h0M1563.8 721.5h0M1059.0 536.8h0M1702.7 679.1h0M1681.9 606.4h0M1261.3 791.5h0M1061.0 1114.2h0M1259.8 495.8h0M1532.9 485.5h0M1390.0 615.7h0M1525.5 544.5h0M835.4 474.6h0M863.7 470.2h0M1162.6 645.6h0M1069.0 1166.5h0M1270.6 581.2h0M968.4 257.7h0M1248.0 692.7h0M1399.0 455.8h0M972.4 1093.3h0M1151.1 818.0h0M1298.9 581.1h0M1184.9 666.1h0M692.7 472.6h0M1429.4 878.4h0M1201.7 584.0h0M1072.3 592.3h0M919.0 297.4h0M993.8 1128.1h0M1369.5 542.8h0M1281.3 707.0h0M748.0 354.0h0M816.8 355.8h0M1334.3 553.2h0M1168.1 579.9h0M1184.2 404.6h0M1012.5 1118.6h0M1447.8 848.0h0M1137.3 586.1h0M1375.6 487.8h0M1476.5 800.8h0M910.0 292.8h0M1242.3 581.9h0M1182.5 404.2h0M786.1 301.1h0M1312.3 573.5h0M1434.9 838.0h0M1539.6 538.5h0M883.8 314.1h0M935.3 281.0h0M1520.4 474.9h0M862.4 361.1h0M1669.8 643.7h0M886.5 305.2h0M837.8 316.1h0M1186.4 376.3h0M991.8 1139.4h0M1362.8 650.4h0M1213.7 598.1h0M849.7 336.6h0M1182.1 545.2h0M1349.8 495.4h0M1349.3 574.4h0M1229.2 539.4h0M1292.3 679.6h0M1064.6 524.8h0M866.1 307.8h0M1550.8 698.0h0M1002.7 1147.0h0M1200.0 857.9h0M1459.4 883.7h0M1001.6 293.3h0M817.1 433.0h0M1329.3 583.1h0M1128.6 495.9h0M1349.1 496.9h0M1137.0 386.4h0M1672.2 649.5h0M1209.1 553.4h0M1290.4 454.3h0M1286.9 372.5h0M1214.1 835.9h0M1174.9 463.6h0M1126.0 563.5h0M1211.8 626.9h0M1558.8 711.3h0M1321.5 661.9h0M1482.4 843.7h0M852.4 498.9h0M1161.1 377.6h0M1158.6 548.2h0M1337.1 569.0h0M821.8 438.3h0M1073.3 530.8h0M923.5 273.3h0M866.0 282.7h0M1529.4 747.4h0M1257.2 811.1h0M1514.3 888.1h0M1207.0 762.8h0M1190.3 798.0h0M1355.6 547.3h0M1687.6 652.0h0M1237.6 467.3h0M906.8 300.0h0M1408.6 501.9h0M944.7 254.6h0M1522.6 883.5h0M1469.3 871.4h0M952.7 271.6h0M907.5 300.3h0M1109.9 376.9h0M1159.4 653.8h0M1189.8 608.6h0M1263.1 441.9h0M1292.7 585.4h0M1414.0 856.2h0M1015.2 1090.9h0M1361.8 618.5h0M783.9 480.4h0M1639.4 603.9h0M1095.6 1166.3h0M868.7 368.2h0M1268.7 554.3h0M1312.3 666.4h0M1175.3 578.3h0M1170.2 678.2h0M1270.1 479.1h0M777.6 300.3h0M797.8 310.8h0M1264.4 769.4h0M771.9 455.2h0M1020.9 1134.0h0M1108.9 1105.9h0M1563.6 708.6h0M1528.5 576.5h0M1229.1 572.9h0M905.3 261.4h0M1226.2 687.1h0M1005.1 1156.1h0M1351.4 578.3h0M824.2 494.2h0M1700.2 612.7h0M1441.5 902.9h0M1615.3 663.8h0M803.4 253.1h0M1006.0 1141.8h0M712.2 463.7h0M1285.6 783.2h0M1451.0 873.2h0M941.7 246.3h0M1491.3 899.1h0M1604.2 720.4h0M1504.3 471.7h0M1290.9 555.5h0M1178.0 816.9h0M1677.2 651.3h0M1698.1 635.9h0M860.7 491.3h0M1304.8 568.2h0M803.8 232.3h0M1374.9 547.4h0M924.3 265.9h0M1250.0 692.2h0M1231.8 362.9h0M964.2 263.0h0M1378.9 511.1h0M1334.9 707.1h0M1489.3 419.9h0M1053.8 1162.8h0M819.0 246.1h0M1369.7 558.3h0M1174.5 821.1h0M1146.3 523.2h0M1163.3 340.6h0M768.3 272.7h0M1110.0 1130.2h0M943.2 289.4h0M1289.3 615.2h0M1399.7 495.9h0M1323.3 786.2h0M1245.1 608.9h0M1576.2 676.4h0M866.0 257.1h0M1188.4 797.5h0M830.1 374.7h0M1385.0 538.6h0M938.4 246.6h0M1016.4 1111.1h0M1254.0 761.0h0M1353.2 473.9h0M1245.6 471.4h0M1692.3 663.4h0M1128.0 395.3h0M987.0 1147.6h0M1269.6 743.7h0M1127.9 646.4h0M960.9 306.1h0M890.3 260.3h0M1211.1 628.3h0M1138.9 345.3h0M893.7 300.4h0M1472.5 853.1h0M1636.5 629.3h0M1449.7 827.7h0M1019.5 563.5h0M1354.9 470.8h0M1267.4 348.9h0M1038.5 337.2h0M787.7 445.9h0M1471.8 432.4h0M781.5 468.1h0M1481.8 822.9h0M1422.9 471.3h0M1453.8 419.8h0M1190.4 662.5h0M1096.3 573.3h0M1202.4 604.4h0M835.2 237.3h0M1452.5 418.4h0M972.4 1106.8h0M1340.6 494.4h0M893.7 224.1h0M627.8 447.9h0M1518.4 724.1h0M1602.7 715.1h0M1398.0 548.8h0M695.9 472.3h0M1124.2 484.8h0M1194.8 356.0h0M1492.9 578.4h0M1335.7 455.2h0M1106.1 362.9h0M904.0 249.9h0M1163.5 604.5h0M629.9 405.9h0M857.1 235.8h0M919.3 247.5h0M951.3 258.8h0M1326.7 720.4h0M809.6 508.0h0M1481.6 586.1h0M1033.7 1138.4h0M893.7 253.8h0M1375.3 677.7h0M773.4 476.8h0M762.3 278.2h0M1327.3 585.0h0M1581.5 702.2h0M1114.4 1191.3h0M979.2 1115.6h0M1325.8 777.7h0M1122.7 428.3h0M1069.8 574.3h0M1612.2 699.6h0M1346.4 514.9h0M1383.5 582.8h0M1169.6 340.6h0M1245.6 691.2h0M1657.9 685.9h0M869.9 287.0h0M1468.8 908.9h0M1382.1 536.7h0M1016.3 1131.2h0M1513.6 723.2h0M815.1 229.1h0M946.1 284.6h0M1298.8 768.5h0M1077.9 1136.4h0M1305.1 488.2h0M1525.6 462.3h0M989.2 1093.5h0M1511.4 727.3h0M1083.7 1163.8h0M872.5 227.4h0M951.0 271.3h0M1461.2 470.6h0M1288.1 583.2h0M1127.1 489.3h0M1238.0 586.5h0M724.0 446.0h0M1259.8 482.2h0M820.1 472.3h0M1154.4 662.1h0M1658.1 604.7h0M1702.7 614.8h0M888.0 297.2h0M669.4 472.6h0M1431.4 526.3h0M1508.4 557.5h0M1160.2 539.7h0M1705.8 645.5h0M953.2 245.6h0M667.9 436.3h0M1188.9 615.9h0M1565.9 702.6h0M1050.3 1175.9h0M1607.6 730.6h0M912.3 258.6h0M1277.8 472.4h0M1368.7 572.5h0M1037.6 1127.1h0M1029.1 571.5h0M1312.3 542.3h0M763.4 281.8h0M647.5 436.1h0M1303.1 423.2h0M1057.1 1164.5h0M1667.0 625.8h0M1303.3 449.7h0M1163.7 772.1h0M1319.9 532.3h0M1359.0 668.4h0M1219.6 551.4h0M1428.9 787.9h0M1389.2 765.7h0M960.0 233.1h0M1076.7 1163.2h0M1413.6 801.9h0M1282.3 798.1h0M870.7 320.8h0M875.4 239.5h0M1457.5 529.1h0M1195.6 683.7h0M967.9 274.3h0M1271.7 377.5h0M1684.3 672.7h0M1363.4 466.2h0M1509.5 887.4h0M791.2 325.7h0M1470.1 471.4h0M1233.7 833.1h0M825.8 370.2h0M929.7 268.2h0M1035.8 499.5h0M1093.8 472.3h0M1296.8 497.6h0M850.3 352.0h0M1641.7 697.7h0M1214.3 712.9h0M1043.9 511.2h0M1092.3 618.4h0M1218.2 470.6h0M1442.0 496.1h0M1187.6 569.2h0M914.6 246.9h0M1476.7 618.0h0M1135.0 1160.9h0M1319.0 776.7h0M804.7 229.2h0M1688.8 683.7h0M1534.9 721.8h0M751.6 484.4h0M845.8 296.0h0M927.4 292.1h0M1317.7 770.5h0M859.8 303.8h0M640.8 446.0h0M821.6 247.8h0M807.3 261.0h0M1329.4 847.1h0M1611.2 717.3h0M1340.5 487.8h0M1668.6 642.6h0M945.5 310.0h0M771.6 288.1h0M1674.9 624.4h0M1486.4 432.3h0M1450.0 821.1h0M1205.7 777.3h0M893.6 302.4h0M894.7 266.1h0M1313.8 414.8h0M1065.7 379.6h0M1513.3 581.1h0M1579.7 677.8h0M1210.7 371.7h0M930.8 250.6h0M1267.0 533.2h0M1485.5 597.7h0M1515.4 723.1h0M852.4 248.6h0M973.3 311.6h0M1215.0 706.0h0M1006.3 308.6h0M1164.5 583.3h0M1230.7 460.9h0M835.0 305.3h0M1197.5 789.6h0M847.8 286.8h0M1145.1 340.2h0M624.9 406.1h0M1357.8 547.7h0M1171.1 412.4h0M1203.3 659.1h0M1372.7 592.7h0M1494.5 904.0h0M1176.7 371.5h0M1189.1 395.3h0M1055.1 1095.6h0M1294.6 571.1h0M1448.1 852.7h0M1691.4 657.6h0M825.2 283.9h0M1371.7 570.0h0M1219.3 621.9h0M1352.7 599.2h0M955.3 268.6h0M846.3 492.1h0M830.1 246.0h0M1481.6 469.6h0M1164.9 464.3h0M1197.0 386.1h0M1531.3 489.8h0M795.8 254.3h0M1427.6 536.3h0M1540.4 536.9h0M959.6 252.4h0M797.8 298.6h0M1174.5 371.0h0M980.0 242.4h0M1091.6 1117.9h0M1687.9 649.7h0M927.1 269.4h0M1208.9 587.9h0M1213.4 595.1h0M1333.4 469.6h0M1364.2 623.8h0M818.9 227.2h0M1116.0 1147.1h0M1229.8 682.0h0M824.1 247.8h0M1490.1 913.4h0M1100.8 628.1h0M958.6 287.1h0M868.8 335.3h0M1166.8 675.0h0M1367.0 559.4h0M949.1 244.2h0M1674.8 601.0h0M1357.2 639.0h0M1351.5 698.5h0M1295.5 769.0h0M1122.9 1117.9h0M1386.1 679.1h0M928.3 233.6h0M1536.5 543.8h0M869.0 509.8h0M1258.2 390.8h0M782.0 465.6h0M1277.7 507.7h0M1237.6 414.3h0M1155.1 803.8h0M790.0 244.3h0M1245.7 614.4h0M1318.0 595.8h0M1045.4 1128.8h0M1415.4 617.4h0M1405.3 522.6h0M1461.3 607.7h0M1335.2 545.4h0M1272.5 500.5h0M1090.9 500.8h0M1134.4 1123.0h0M1101.2 509.6h0M1202.7 804.2h0M1465.3 531.2h0M1069.6 378.5h0M1411.8 556.9h0M1129.8 1121.5h0M1657.0 662.3h0M1127.2 1138.4h0M810.0 472.6h0M1148.4 467.6h0M1498.6 837.9h0M838.5 278.9h0M1185.5 622.2h0M915.0 284.7h0M805.6 286.3h0M840.9 344.7h0M1542.4 533.9h0M1179.2 631.4h0M837.2 351.1h0M1286.0 502.1h0M1478.4 814.2h0M763.3 277.2h0M1544.2 680.7h0M1583.8 714.7h0M1214.6 446.6h0M1365.2 649.3h0M1261.3 594.9h0M1060.3 1114.3h0M854.8 241.1h0M1270.3 451.9h0M1068.0 1104.5h0M1597.9 724.0h0M1183.0 594.8h0M630.7 410.0h0M888.7 323.9h0M892.3 394.4h0M1346.8 455.0h0M1343.9 562.4h0M1215.1 377.0h0M1100.6 1154.5h0M1270.1 830.0h0M1704.3 594.7h0M821.5 358.8h0M1490.2 559.9h0M1493.6 898.8h0M786.0 467.8h0M1159.3 385.3h0M830.3 314.6h0M1396.3 689.2h0M1339.7 587.6h0M1197.1 606.2h0M1202.6 605.1h0M1513.4 740.9h0M1347.6 580.6h0M1239.7 802.8h0M816.7 493.7h0M1397.3 687.4h0M890.0 310.4h0M1319.8 774.9h0M1212.6 387.7h0M899.5 242.5h0M1410.0 523.3h0M1674.5 691.2h0M1264.7 412.7h0M841.8 476.5h0M1408.1 538.0h0M1088.8 551.6h0M1101.4 593.1h0M1047.3 1097.0h0M1278.0 704.3h0M1538.1 724.9h0M614.4 394.6h0M1099.4 411.1h0M1275.3 599.6h0M942.7 269.2h0M1096.9 429.7h0M1678.2 705.8h0M1607.6 669.2h0M1103.9 542.7h0M1156.3 399.6h0M1150.9 819.4h0M1335.2 465.5h0M1480.5 819.9h0M970.7 245.5h0M1473.5 603.8h0M1062.4 1101.8h0M857.2 370.1h0M831.0 368.0h0M937.0 293.4h0M1023.4 1093.1h0M1096.3 1123.4h0M1084.7 577.7h0M1219.3 669.3h0M1369.0 597.8h0M1513.7 568.6h0M1566.8 712.6h0M893.0 221.9h0M1023.7 1090.0h0M1226.9 672.3h0M1061.6 1101.1h0M1124.2 344.0h0M1338.4 845.2h0M1178.9 593.8h0M1325.3 492.5h0M1035.4 1146.3h0M1322.2 843.5h0M808.8 238.9h0M1310.2 810.3h0M873.1 220.2h0M1528.7 501.7h0M1479.2 841.6h0M1335.7 845.6h0M834.3 491.0h0M1108.2 1208.4h0M1462.0 526.4h0M1232.6 698.4h0M1164.1 573.0h0M1096.8 1146.7h0M1353.8 551.2h0M1486.2 912.8h0M1534.4 554.7h0M1537.0 534.1h0M1389.4 731.5h0M1226.1 834.3h0M883.8 298.1h0M1226.5 440.4h0M1475.3 604.0h0M1235.1 578.6h0M972.3 1096.4h0M1345.2 796.0h0M1463.7 465.1h0M1537.3 535.3h0M788.2 270.3h0M1275.1 453.0h0M827.2 513.4h0M1200.6 418.2h0M1627.1 627.6h0M836.4 458.8h0M813.4 472.2h0M1452.9 864.0h0M1127.1 409.8h0M829.8 259.6h0M1309.3 775.1h0M876.3 235.9h0M1196.6 439.0h0M1182.3 653.1h0M1239.2 440.5h0M1278.8 529.0h0M667.4 462.8h0M1320.2 805.9h0M820.4 467.5h0M1413.1 385.8h0M1662.5 689.7h0M1068.8 1150.3h0M1341.8 654.9h0M816.9 346.1h0M847.2 317.0h0M1675.9 601.3h0M1389.5 596.0h0M1361.0 588.2h0M1362.5 601.3h0M1285.7 441.4h0M1253.3 688.0h0M1187.4 588.6h0M1096.9 608.1h0M1539.4 527.7h0M1682.2 640.0h0M1175.0 773.2h0M1076.6 1123.0h0M1659.9 695.4h0M857.0 298.3h0M1615.7 703.6h0M805.4 427.4h0M1094.5 463.2h0M1219.9 437.9h0M864.4 354.3h0M819.3 266.1h0M821.8 508.5h0M1451.4 475.9h0M1492.6 539.4h0" stroke="#8a2a86"/>
<path d="M1271.9 383.5h0M1341.9 606.7h0M834.6 513.8h0M1096.0 1180.3h0M1124.1 526.4h0M1151.7 567.7h0M1251.3 354.1h0M783.3 481.6h0M1583.3 649.5h0M1148.4 669.1h0M1328.4 562.6h0M1183.6 582.7h0M1335.3 472.2h0M817.2 507.7h0M1129.5 623.7h0M1145.4 815.1h0M798.2 234.3h0M1120.0 573.3h0M1120.8 598.1h0M1664.4 643.7h0M1360.6 554.7h0M1683.1 667.2h0M1206.6 343.9h0M1216.2 414.0h0M1056.3 1167.3h0M1197.0 592.7h0M1327.4 504.8h0M1151.4 610.2h0M1018.3 297.3h0M1432.3 877.9h0M1586.9 653.3h0M804.7 268.2h0M1638.5 634.4h0M1202.4 822.9h0M1352.2 502.9h0M959.7 1115.2h0M884.2 329.6h0M1080.2 539.1h0M1661.2 671.5h0M1074.5 524.0h0M1226.1 470.0h0M900.5 264.4h0M1228.2 675.6h0M870.4 245.1h0M1431.7 855.1h0M1411.8 559.2h0M859.5 321.5h0M1274.0 599.6h0M1173.5 541.8h0M1317.1 807.9h0M1566.9 745.6h0M1340.1 583.1h0M1159.5 518.0h0M1548.6 730.5h0M1466.7 804.1h0M1386.8 685.7h0M1633.1 692.0h0M1365.8 533.2h0M1596.8 706.1h0M1163.7 605.9h0M1000.6 1100.8h0M1274.6 546.8h0M1364.1 542.3h0M1274.9 759.4h0M1104.6 517.9h0M1333.8 469.1h0M866.8 328.0h0M1439.8 864.7h0M1530.8 746.2h0M1254.3 396.1h0M1216.1 491.2h0M1342.1 837.1h0" stroke="#e34f66"/>
<path d="M880.7 234.9h0M1664.6 667.9h0M807.0 316.3h0" stroke="#fd9b6b"/>
<path d="M1366.4 665.6h0M878.1 375.8h0M1149.4 1115.1h0M999.7 1123.2h0M1315.1 783.7h0M1252.2 504.5h0M1454.6 601.6h0M1128.8 659.6h0M1430.1 469.5h0M1304.6 719.3h0M1473.6 495.1h0M1096.5 399.6h0M856.5 471.6h0M939.7 271.4h0M1227.1 584.3h0M1207.4 689.1h0M1389.4 759.9h0M1304.1 511.1h0M798.5 448.0h0M712.1 467.2h0M1556.7 676.9h0M1427.1 722.3h0M901.1 319.9h0M1045.7 1117.1h0M1083.4 512.9h0M884.3 318.9h0M932.3 268.3h0M1489.0 557.1h0M1040.3 1097.2h0M1047.9 1163.5h0M1468.5 618.0h0M1190.0 568.9h0M1107.9 1146.0h0M1341.1 472.0h0M1109.4 624.8h0M1672.0 621.2h0M1283.0 419.4h0M833.5 457.8h0M1230.7 629.8h0M1166.3 569.0h0M1432.3 836.0h0M1473.9 469.9h0M1262.0 490.0h0M1458.1 898.6h0M1588.1 694.6h0M1351.6 563.8h0M1145.6 403.2h0M1517.6 505.5h0M1204.1 698.3h0M1217.3 766.4h0M1109.3 609.0h0M1279.1 819.2h0M1106.5 635.8h0M1174.1 342.9h0M1101.1 538.8h0M708.8 465.2h0M1147.6 1116.6h0M1077.0 566.6h0M854.6 495.3h0M824.2 447.5h0M881.0 274.7h0M801.3 260.5h0M954.8 277.7h0M1054.3 1124.9h0M1522.6 536.6h0M1347.3 559.4h0M1373.4 680.0h0M621.1 403.8h0M1401.8 763.6h0M1100.5 1122.1h0M1454.4 831.0h0M853.1 505.3h0M782.1 251.6h0M1714.9 645.9h0M1407.5 529.3h0M1103.0 1132.3h0M1467.2 823.5h0M833.3 271.9h0M1262.7 375.1h0M1266.5 813.2h0M1265.4 557.7h0M1341.3 544.1h0M1083.1 1159.4h0M1421.2 483.5h0M1338.4 574.3h0M1372.5 684.2h0M1329.3 584.5h0M1150.8 1116.0h0M1167.2 610.8h0M1496.3 610.2h0M1697.9 598.2h0M1061.0 587.6h0M1166.7 455.5h0M919.4 290.4h0M1216.5 779.8h0M1464.5 810.3h0M1478.8 803.0h0M1144.1 442.9h0M1160.5 649.5h0M1102.8 501.5h0M1623.5 711.4h0M1114.8 497.1h0M1191.8 602.7h0M832.0 268.4h0M820.4 467.3h0M1189.3 685.7h0M811.1 495.4h0M1431.0 844.7h0M1195.0 627.6h0M1525.3 573.9h0M1459.0 893.1h0M1028.9 537.9h0M1140.6 467.8h0M1041.0 1107.1h0M1116.8 508.1h0M1358.9 533.3h0M1522.1 855.3h0M1350.1 455.7h0M1416.4 858.7h0M634.5 374.1h0M991.4 1124.8h0M1145.8 653.4h0M1256.6 781.0h0M878.1 279.1h0M1455.1 528.2h0M1523.3 892.3h0M1211.3 773.7h0M1021.4 1157.5h0M874.7 219.0h0M1095.9 387.3h0M1308.6 770.8h0M1210.6 823.3h0M1263.2 695.8h0M1615.2 713.5h0M1119.5 532.2h0M1419.7 828.7h0M1532.0 539.3h0M1322.8 587.9h0M1484.0 602.3h0M1199.4 344.0h0M870.4 310.5h0M1170.1 436.4h0M857.3 479.7h0M1257.0 485.8h0M1371.9 480.5h0M1250.1 375.2h0M1295.0 380.2h0M1174.0 593.3h0M1361.5 549.7h0M877.6 384.1h0M1139.9 642.0h0M1569.0 668.6h0M1480.5 869.2h0M785.2 273.3h0M1288.2 772.1h0M1547.8 722.2h0M1326.7 569.8h0M1094.6 392.7h0M1037.0 1104.6h0M1460.7 794.5h0M710.1 461.3h0M1395.6 588.1h0M1473.0 584.1h0M874.9 322.4h0M922.5 301.1h0M851.8 475.7h0M1200.7 788.6h0M1122.2 603.4h0M1182.1 434.0h0M783.6 494.7h0M1152.7 451.9h0M1405.7 561.0h0M1449.9 901.3h0M871.5 276.1h0M1260.7 819.2h0M1159.3 456.7h0M1512.5 528.9h0M1127.2 532.6h0M1230.9 409.5h0M1526.1 872.4h0M1143.9 351.2h0M1430.6 799.9h0M1640.5 631.8h0M796.2 491.2h0M1348.2 622.2h0M1144.4 801.0h0M1269.0 422.7h0M1267.8 480.8h0M1172.0 667.1h0M1475.3 511.4h0M1374.2 556.2h0M1397.3 775.3h0M1178.2 630.7h0M1460.2 878.8h0M1063.8 519.1h0M1361.2 564.8h0M1355.2 678.1h0M673.0 474.3h0M1625.7 711.7h0M1459.2 583.8h0M920.2 305.2h0M1453.6 830.1h0M921.2 297.7h0M1328.1 769.2h0M776.3 464.2h0M805.2 316.9h0M1479.7 521.4h0M1438.7 899.3h0M1423.1 799.4h0M1513.8 586.5h0M1360.5 569.9h0M1096.6 525.4h0M1201.1 389.1h0M1412.9 799.8h0M1309.9 534.2h0M1062.6 508.8h0M685.9 384.0h0M897.5 325.4h0M1086.4 443.9h0M1423.7 620.3h0M1679.2 600.9h0M1396.5 673.0h0M843.5 497.6h0M1256.5 600.6h0M1685.9 634.5h0M1086.6 548.3h0M1149.9 497.1h0M1030.3 1170.2h0M1243.8 518.0h0M1278.5 513.4h0M1703.3 639.1h0M1271.9 425.3h0M1366.3 550.5h0M922.5 255.0h0M1425.3 548.5h0M1109.1 537.6h0M1259.9 564.6h0M1241.3 529.4h0M1229.8 408.2h0M1269.5 496.9h0M1356.6 841.7h0M1153.0 427.6h0M1126.6 597.2h0M1387.9 738.3h0M1126.9 380.5h0M1229.5 586.7h0M1424.8 841.4h0M1332.4 477.3h0M1213.2 771.4h0M1313.2 432.7h0M1128.8 567.6h0M811.6 402.0h0M1210.3 391.0h0M1495.6 894.0h0M803.5 307.8h0M1023.5 1149.6h0M829.8 488.2h0M1143.1 1114.2h0M1377.9 717.2h0M1218.3 398.5h0M1718.6 669.6h0M1082.7 1126.3h0M1280.6 814.9h0M1225.5 414.1h0M778.5 485.6h0M949.5 326.6h0M889.3 255.9h0M1347.9 551.6h0M1214.6 376.1h0M1511.3 854.9h0M1199.0 572.2h0M861.1 470.5h0M1536.7 490.1h0M1266.5 580.8h0M1294.7 471.1h0M1647.2 673.0h0M1153.7 543.9h0M1349.1 451.6h0M1220.7 460.3h0M838.6 482.0h0M1398.9 462.2h0M1170.1 428.4h0M1315.5 465.6h0M1344.8 550.0h0M852.6 330.9h0M1661.9 689.2h0M1476.0 523.9h0M1505.4 897.9h0M1167.5 348.8h0M1069.3 565.9h0M1263.0 499.0h0M628.8 453.9h0M1152.9 334.5h0M1339.9 524.7h0M1263.7 513.6h0M782.7 460.1h0M1066.4 1106.8h0M1573.4 708.1h0M1031.9 1166.4h0M1327.8 542.8h0M1096.3 620.4h0M1363.2 600.4h0M1115.1 652.6h0M1046.3 546.5h0M923.1 310.2h0M1074.4 612.0h0M1385.0 715.0h0M990.1 1133.1h0M987.4 254.3h0M1362.7 634.5h0M1311.2 674.6h0M1258.7 450.6h0M1278.6 371.8h0M1308.1 748.2h0M1151.3 390.5h0M1339.3 751.0h0M1123.0 1212.0h0M908.9 320.5h0M1236.7 602.4h0M1397.8 469.8h0M993.4 1124.1h0M1418.3 734.6h0M1032.6 1120.3h0M667.5 440.6h0M1278.5 690.2h0M1529.0 529.4h0M989.9 1148.0h0M1647.6 712.0h0M1081.3 487.4h0M1393.3 758.7h0M1698.3 611.3h0M1411.3 594.1h0M988.8 241.5h0M1660.1 612.2h0M1518.3 854.6h0M1301.7 848.9h0M1304.5 573.7h0M1173.0 346.1h0M1161.7 785.8h0M1330.3 419.4h0M1703.7 629.2h0M1100.6 626.7h0M1350.3 564.8h0M1188.0 594.1h0M1475.4 440.8h0M1161.0 773.8h0M1285.0 402.4h0M1485.9 545.3h0M1204.1 839.2h0M1459.3 527.7h0M864.1 246.6h0M1445.3 561.7h0M1384.6 641.4h0M1282.4 581.8h0M1225.1 574.0h0M1454.8 612.0h0M1273.8 451.8h0M1340.0 799.5h0M960.1 293.7h0M1026.6 1141.0h0M1432.7 868.8h0M1109.1 601.1h0M1258.8 594.3h0M926.1 229.4h0M1009.1 1106.8h0M1681.1 713.1h0M1508.1 593.8h0M1274.1 735.9h0M1373.3 529.9h0M1078.1 1141.5h0M779.9 455.5h0M991.2 1116.8h0M1476.3 589.7h0M1320.8 537.7h0M1257.2 816.5h0M1022.4 1113.1h0M828.3 265.8h0M1374.2 449.8h0M1227.9 769.0h0M1324.1 510.9h0M1260.5 804.8h0M1393.4 466.5h0M1334.9 560.6h0M1112.3 349.1h0M1171.6 588.2h0M1484.6 529.7h0M1196.4 586.1h0M1200.5 762.9h0M1087.6 354.9h0M677.2 387.9h0M1354.9 561.0h0M1297.9 595.2h0M1667.9 689.6h0M825.7 315.6h0M1473.3 847.6h0M888.9 239.7h0M1565.4 716.8h0M1246.1 500.3h0M1224.3 375.0h0M848.3 350.7h0M994.2 1132.7h0M1134.0 476.8h0M1376.2 738.8h0M1645.3 609.8h0M1308.2 386.5h0M1532.7 485.3h0M1272.1 511.3h0M1209.3 406.6h0M756.2 273.7h0M1245.4 507.1h0M1119.1 1113.9h0M873.2 269.5h0M1478.7 579.7h0M1035.8 542.2h0M1216.5 665.2h0M1644.6 624.6h0M787.0 456.8h0M1345.0 565.6h0M1399.6 712.1h0M623.2 400.3h0M1264.1 374.9h0M1406.5 598.8h0M761.4 266.0h0M829.5 476.2h0M1209.0 667.0h0M1324.4 460.7h0M1055.3 499.8h0M1069.4 402.5h0M1157.5 772.6h0M1231.6 695.7h0M1674.4 651.0h0M1286.7 588.2h0M1300.6 392.5h0M1358.9 483.5h0M1378.2 639.2h0M1077.8 499.8h0M1263.4 447.1h0M1260.7 414.5h0M1515.7 751.1h0M1096.2 1117.8h0M1326.2 524.8h0M666.5 391.9h0M874.2 395.2h0M1152.5 1181.6h0M847.1 372.5h0M1390.0 497.8h0M1227.5 442.1h0M1116.7 381.2h0M1186.8 407.7h0M1374.6 685.4h0M1268.9 509.5h0M822.5 231.7h0M1168.0 349.5h0M1269.9 769.5h0M1129.3 493.7h0M1325.6 641.6h0M1091.9 551.4h0M1157.2 392.4h0M1441.6 543.2h0M1160.2 722.7h0M1337.9 456.4h0M798.6 236.4h0M1486.1 522.9h0M950.4 287.4h0M812.1 247.6h0M1122.5 539.6h0M1185.8 669.0h0M1459.9 574.6h0M833.1 481.1h0M1324.9 662.2h0M1354.0 538.7h0M1383.4 677.2h0M1271.5 787.9h0M1590.4 731.7h0M1559.9 724.1h0M1305.4 574.6h0M1061.3 557.0h0M1186.0 833.3h0M1479.2 816.9h0M1513.5 860.6h0M1482.5 910.0h0M1095.3 497.4h0M897.6 268.0h0M1144.5 1191.5h0M1157.3 834.3h0M1415.2 787.2h0M1098.7 364.1h0M926.3 321.6h0M1538.5 491.9h0M1407.4 458.4h0M1255.5 621.0h0M1181.9 831.4h0M1244.3 789.7h0M1474.4 457.6h0M1193.7 416.9h0M1253.6 834.0h0M1163.8 544.1h0M1063.4 546.4h0M1379.2 791.5h0M1542.1 706.6h0M791.6 457.4h0M1536.2 725.9h0M1393.7 587.4h0M1300.9 600.6h0M1368.2 615.8h0M1129.3 1190.6h0M1367.0 629.6h0M1374.4 617.0h0M1156.0 767.3h0M1441.2 867.4h0M1316.8 425.4h0M1366.0 687.0h0M879.8 262.0h0M1384.1 689.0h0M1691.1 668.8h0M1301.3 670.0h0M1432.1 847.5h0M831.4 446.1h0M1420.1 817.7h0M1016.8 545.6h0M1273.1 586.2h0M1346.0 620.4h0M1329.1 426.0h0M1451.7 803.5h0M1399.5 815.9h0M1389.7 560.7h0M1411.6 464.5h0M803.5 499.1h0M1523.2 849.2h0M1064.8 1158.5h0M1473.6 829.5h0M1180.7 356.5h0M1324.9 762.4h0M1442.2 454.9h0M1532.9 733.3h0M1254.4 445.8h0M1248.2 745.5h0M1491.4 598.5h0M1695.1 648.4h0M1225.0 465.8h0M620.8 395.9h0M1332.7 496.1h0M1283.0 359.1h0M1378.1 789.1h0M1264.3 730.2h0M1079.3 1169.5h0M1165.1 758.9h0M1470.3 487.2h0M1531.4 497.9h0M1346.4 551.3h0M856.8 494.6h0M1653.1 673.8h0M1431.5 573.1h0M1374.3 758.6h0M1470.3 915.0h0M1340.3 503.7h0M830.2 502.9h0M1161.7 753.6h0M1473.6 410.8h0M1092.1 1131.9h0M1410.3 788.1h0M1395.6 791.3h0M1366.4 639.3h0M1188.6 665.4h0M1380.9 633.8h0M1250.0 529.1h0M1332.7 611.5h0M1220.3 431.1h0M1091.0 1199.9h0M1314.8 498.0h0M1043.1 575.1h0M1709.5 624.9h0M1367.4 546.9h0M1249.3 812.0h0M1225.2 817.7h0M816.1 293.2h0M1323.8 546.4h0M1293.9 743.9h0M1195.3 785.4h0M1163.0 584.8h0M1330.1 611.9h0M1054.2 1128.6h0M1460.4 872.5h0M1465.7 470.1h0M1144.7 662.6h0M1350.4 552.6h0M1471.5 917.3h0M793.5 280.3h0M1298.3 455.1h0M1184.1 789.1h0M1308.8 374.9h0M1592.4 733.7h0M1297.3 798.5h0M1416.1 713.8h0M1522.8 706.6h0M1072.1 400.0h0M1674.6 715.1h0M1349.6 567.3h0M1516.5 578.6h0M1343.0 527.1h0M1179.0 788.2h0M1489.5 604.1h0M1246.7 785.5h0M1066.7 530.4h0M1334.0 668.0h0M1394.5 622.9h0M1003.6 1116.4h0M809.0 460.8h0M1463.4 501.3h0M1265.8 848.1h0M876.2 505.3h0M856.1 492.2h0M1636.9 648.4h0M1466.5 807.2h0M1512.9 837.9h0M1682.0 630.8h0M850.9 394.2h0M1149.3 550.9h0M1290.1 729.1h0M843.2 462.8h0M1141.5 387.5h0M1443.3 880.1h0M1366.5 621.2h0M1305.1 485.4h0M800.8 451.2h0M926.2 244.7h0M1348.7 775.7h0M1261.9 699.4h0M1320.2 432.0h0M645.9 389.0h0M1430.9 897.4h0M1454.1 790.7h0M1694.9 698.4h0M1088.6 403.2h0M857.1 244.4h0M1434.3 674.8h0M1220.1 802.0h0M1333.2 566.8h0M1440.6 613.8h0M1470.7 894.9h0M1409.1 503.0h0M1416.1 565.5h0M1235.8 371.2h0M1080.9 491.4h0M1096.1 1104.3h0M1067.8 511.5h0M819.1 506.2h0M1242.8 838.9h0M1685.6 617.8h0M1326.2 775.0h0M876.5 345.4h0M1130.6 1106.8h0M877.4 358.4h0M1608.3 696.2h0M1004.6 302.2h0M767.2 464.7h0M1347.8 624.6h0M1080.9 408.1h0M1097.9 409.8h0M1181.7 368.9h0M1492.6 857.2h0M1388.2 685.0h0M1170.2 644.4h0M1326.8 417.4h0M1373.3 713.5h0M1075.9 438.4h0M1262.2 756.1h0M1120.4 541.1h0M1109.8 530.0h0M1379.6 521.6h0M1347.0 473.8h0M1652.2 650.5h0M1358.3 476.4h0M879.5 230.3h0M871.6 328.8h0M1508.7 895.0h0M1042.0 1119.8h0M1406.3 584.5h0M1049.1 1136.4h0M1487.9 472.4h0M847.7 229.6h0M1042.4 537.8h0M1605.0 735.5h0M803.8 476.3h0M947.7 285.6h0M965.9 255.3h0M1363.4 492.3h0M787.6 479.2h0M961.2 301.9h0M1072.2 1158.4h0M1395.9 691.3h0M1316.3 686.9h0M820.8 441.7h0M1186.9 613.1h0M909.0 292.6h0M1116.1 352.5h0M1148.8 580.2h0M1133.8 341.1h0M1178.8 407.7h0M1056.8 558.1h0M1673.4 661.8h0M1335.3 627.8h0M1392.5 550.0h0M1159.7 544.8h0M1125.0 603.9h0M824.2 458.5h0M1159.1 554.8h0M1382.1 573.1h0M1457.9 598.4h0M1323.3 784.3h0M1165.4 548.9h0M1265.7 474.8h0M1009.4 553.3h0M805.1 236.5h0M1133.7 542.7h0M933.9 297.8h0M901.9 251.5h0M1443.4 835.9h0M1204.6 794.8h0M1399.1 772.9h0M1272.1 499.0h0M1289.7 765.0h0M1233.9 446.9h0M1181.7 806.9h0M1683.5 668.9h0M1364.8 662.2h0M1440.1 816.9h0M1373.7 683.3h0M1181.1 432.1h0M1440.0 514.4h0M783.5 287.8h0M1219.2 634.1h0M862.3 238.2h0M1466.8 850.8h0M1462.0 846.6h0M1403.7 708.1h0M1692.6 657.9h0M1446.0 543.7h0M1162.3 781.3h0M1159.0 631.5h0M1407.5 519.2h0M1390.7 518.4h0M834.9 369.5h0M1274.0 541.6h0M1209.4 770.2h0M970.9 1089.6h0M1408.7 520.3h0M893.6 324.6h0M883.0 239.3h0M1341.9 671.3h0M1528.1 730.3h0M1120.4 549.7h0M1354.6 842.8h0M1488.2 615.0h0M1005.9 1142.2h0M1473.3 501.7h0M1128.1 389.2h0M1627.2 706.2h0M1012.9 351.4h0M1687.6 643.9h0M1108.2 348.9h0M1471.4 620.2h0M1094.3 414.4h0M1128.4 577.8h0M1073.9 468.6h0M1341.6 472.1h0M1277.8 775.0h0M1164.5 811.0h0M1423.1 529.4h0M1137.0 434.1h0M1209.9 561.5h0M1257.8 588.7h0M1136.2 539.3h0M1122.0 382.5h0M1302.6 774.2h0M887.6 251.8h0M786.0 482.6h0M1223.8 839.8h0M1405.5 837.4h0M1455.8 414.3h0M808.7 465.4h0M1091.2 556.2h0M1347.6 644.6h0M1373.4 632.7h0M1491.6 935.7h0M768.7 297.6h0M1154.4 654.9h0M772.6 291.4h0M1117.3 1177.5h0M1067.4 414.0h0M1318.1 646.1h0M1101.7 1116.3h0M932.2 337.3h0M1184.8 574.4h0M1304.1 541.4h0M1257.1 539.5h0M1205.9 388.6h0M1082.9 368.1h0M1040.6 504.6h0M1307.4 744.9h0M1414.5 688.2h0M859.3 329.1h0M1297.4 447.7h0M893.9 394.9h0M1249.3 408.9h0M1096.1 585.5h0M1133.7 1173.2h0M1301.0 461.0h0M1109.1 1106.0h0M1546.0 741.3h0M914.1 291.5h0M1437.9 849.9h0M1358.8 530.6h0M1354.2 634.8h0M1381.7 698.0h0M1179.3 677.5h0M1459.8 409.9h0M1424.6 814.5h0M958.8 257.6h0M1082.5 362.6h0M1261.0 438.6h0M1707.7 678.3h0M1145.7 616.2h0M1383.1 533.6h0M1365.7 544.5h0M1700.1 688.5h0M1180.8 602.6h0M1130.5 421.3h0M1134.7 444.3h0M1269.7 763.9h0M1306.8 546.0h0M1156.6 459.7h0M1429.8 836.3h0M1075.7 341.0h0M1308.5 398.7h0M1430.5 839.6h0M1339.7 682.0h0M665.9 415.9h0M1177.6 557.4h0M1338.3 663.3h0M1476.1 596.9h0M1132.2 418.8h0M843.7 279.5h0M1156.5 641.9h0M949.7 237.7h0M1427.7 697.5h0M1238.6 566.4h0M1291.0 529.3h0M1338.9 474.9h0M1326.3 617.7h0M638.7 378.7h0M1121.0 487.1h0M1143.6 343.9h0M1428.0 853.7h0M1394.5 761.4h0M1376.3 622.5h0M932.5 321.2h0M815.0 441.2h0M1416.9 838.4h0M1269.8 457.4h0M1256.5 706.3h0M1384.2 554.3h0M1115.8 494.7h0M1181.4 816.8h0M1208.8 453.3h0M846.2 246.8h0M1155.1 624.9h0M1529.6 526.9h0M614.8 381.8h0M783.2 445.4h0M1407.5 381.6h0M1320.6 492.7h0M1552.2 748.6h0M1621.4 683.4h0M1057.1 536.6h0M1254.0 588.3h0M1241.7 530.7h0M694.8 470.3h0M1384.4 668.5h0M1533.6 711.9h0M1569.5 729.4h0M1404.0 604.7h0M1503.8 570.4h0M1697.9 598.2h0M1429.1 549.9h0M1242.4 422.5h0M1300.0 728.7h0M1108.6 1119.0h0M1126.3 1152.9h0M1536.3 703.5h0M856.4 339.1h0M1315.5 809.7h0M1457.9 561.0h0M1204.2 389.3h0M886.4 513.6h0M1191.6 699.8h0M1175.9 805.9h0M1252.5 599.2h0M1690.3 688.1h0M948.6 273.8h0M1339.0 491.9h0M1316.6 755.1h0M1313.9 634.3h0M1524.1 864.4h0M1432.7 388.0h0M1208.0 836.9h0M1167.7 384.7h0M1350.6 560.2h0M1155.5 602.2h0M1244.7 347.7h0M1145.2 420.2h0M1153.2 663.9h0M1422.4 526.4h0M1456.1 794.9h0M1056.9 1126.4h0M829.6 303.5h0M1526.6 471.1h0M1132.3 1162.0h0M1395.0 679.9h0M1051.8 1115.9h0M1255.2 483.3h0M822.8 240.6h0M1544.0 513.4h0M1690.5 657.5h0M1143.4 381.0h0M872.5 330.6h0M1171.1 579.7h0M968.2 1100.2h0M1337.9 565.7h0M1313.5 525.4h0M1404.0 716.0h0M1681.6 625.7h0M1581.9 734.3h0M652.3 447.6h0M1500.8 542.9h0M1340.4 740.9h0M1623.6 675.9h0M1322.1 577.6h0M1416.9 709.6h0M1365.3 546.6h0M950.4 326.4h0M949.3 241.0h0M1238.3 579.4h0M1327.3 585.9h0M1152.1 368.4h0M1378.6 544.7h0M1111.5 492.3h0M1266.6 497.1h0M1704.9 647.7h0M775.4 289.5h0M1353.2 566.0h0M1331.1 582.3h0M1016.6 1109.4h0M841.3 243.6h0M1472.1 904.4h0M1458.4 808.0h0M1083.3 361.1h0M1166.5 785.1h0M1243.9 491.6h0M1265.7 799.3h0M1304.8 583.1h0M1427.7 691.1h0M1651.6 670.4h0M1168.3 836.4h0M1131.7 495.5h0M1263.1 509.4h0M632.8 459.1h0M1638.4 691.4h0M840.5 490.3h0M1332.2 506.4h0M1039.2 586.2h0M1487.9 829.6h0M1454.2 571.7h0M1093.0 1164.9h0M1519.9 686.0h0M1272.5 442.2h0M1364.3 700.7h0M1443.6 584.6h0M1287.2 394.0h0M1051.7 502.7h0M1453.7 878.6h0M1336.7 556.6h0M1142.9 498.7h0M992.1 318.2h0M817.6 305.2h0M873.2 486.8h0M1335.1 486.4h0M1447.6 405.8h0M1116.8 1144.2h0M1261.4 392.1h0M1259.8 849.1h0M1125.8 1139.3h0M1216.1 458.1h0M1513.1 572.8h0M821.2 358.8h0M1282.4 429.2h0M1195.6 367.6h0M1436.8 534.5h0M1541.1 517.0h0M1546.1 713.0h0M1357.6 615.5h0M1369.7 602.3h0M1434.1 873.2h0M1361.5 553.4h0M1274.6 847.6h0M1221.4 781.6h0M1201.1 406.9h0M1384.8 541.1h0M1289.2 481.1h0M1079.7 367.8h0M1287.4 523.8h0M975.6 1101.9h0M843.0 314.3h0M1495.6 594.0h0M1102.2 518.8h0M882.0 392.8h0M1537.7 564.7h0M1490.1 434.7h0M776.1 257.5h0M1084.7 527.8h0M1081.1 512.8h0M808.4 255.0h0M1430.9 682.7h0M1147.2 644.5h0M1446.0 820.9h0M1672.3 671.8h0M1375.7 497.3h0M1497.2 550.9h0M1219.4 528.2h0M1289.4 793.6h0M1419.7 813.4h0M1178.2 353.7h0M1303.5 371.8h0M1433.6 396.2h0M1314.3 527.7h0M1129.4 577.5h0M1076.8 485.6h0M1556.9 709.1h0M1334.7 450.6h0M1035.8 293.6h0M1207.2 781.1h0M1489.5 901.7h0M1218.5 608.0h0M1212.9 811.2h0M962.4 300.8h0M1260.4 504.8h0M1224.9 384.3h0M1251.3 512.2h0M970.4 286.0h0M1206.4 532.6h0M1349.8 496.0h0M1030.4 1098.5h0M1241.9 584.0h0M1131.4 494.6h0M1323.6 521.5h0M1374.9 661.9h0M1439.0 839.1h0M1494.4 924.6h0M1490.6 823.6h0M1035.1 1095.3h0M1285.2 802.4h0M1483.1 532.1h0M1452.5 452.1h0M1165.6 559.4h0M1255.5 372.1h0M836.8 362.0h0M1113.9 523.0h0M1283.5 614.2h0M1365.4 606.7h0M1600.3 715.9h0M1331.1 737.5h0M1096.7 527.0h0M1491.5 518.8h0M1095.3 416.9h0M1343.3 554.5h0M1505.1 828.4h0M1020.8 1153.7h0M1331.4 763.5h0M1674.3 681.9h0M824.4 253.5h0M1276.6 499.4h0M1211.5 403.2h0M832.2 453.3h0M1256.4 508.6h0M998.8 1092.6h0M1296.4 758.0h0M1329.6 416.3h0M1082.7 1165.9h0M1209.5 678.7h0M1265.2 511.2h0M1674.8 667.6h0M1109.1 596.3h0M1256.6 822.6h0M1419.9 579.7h0M786.7 450.7h0M1063.2 492.5h0M1423.2 697.3h0M1287.2 476.4h0M1123.1 625.7h0M1174.0 414.0h0M686.9 476.5h0M1408.4 808.0h0M1185.6 592.6h0M1340.5 550.8h0M958.4 263.9h0M1430.6 838.3h0M1458.2 413.2h0M1465.7 587.5h0M1117.5 496.2h0M1146.0 443.5h0M1709.9 640.4h0M1351.0 640.2h0M1474.4 588.9h0M1245.2 711.8h0M1661.8 613.3h0M1474.3 425.4h0M930.2 246.0h0M1644.6 629.9h0M1198.4 815.5h0M1193.2 774.0h0M1312.9 589.4h0M855.5 374.4h0M1521.2 491.0h0M1512.0 850.5h0M890.8 338.4h0M1276.2 569.9h0M1437.6 801.8h0M1119.0 382.5h0M1020.6 547.6h0M1477.6 845.3h0M1315.6 569.4h0M1088.2 410.4h0M942.7 242.2h0M1481.0 907.0h0M1146.4 609.2h0M1625.3 678.4h0M1279.0 695.3h0M1379.0 542.2h0M1387.3 562.7h0M1511.9 466.3h0M1512.3 733.7h0M1258.8 507.4h0M908.4 299.5h0M1009.7 1096.0h0M1366.9 747.3h0M1046.5 1161.8h0M1342.3 462.0h0M1436.2 508.9h0M1117.3 1126.4h0M850.0 237.6h0M1084.0 522.3h0M1527.9 551.8h0M1644.4 672.4h0M1269.9 753.3h0M1176.2 387.5h0M1366.7 591.6h0M1077.7 378.7h0M660.1 437.2h0M1292.8 766.7h0M1245.9 621.5h0M643.0 432.8h0M1502.4 564.1h0M1468.5 797.0h0M1336.2 666.1h0M1384.3 682.6h0M1101.3 1188.1h0M1343.3 784.0h0M1518.9 856.4h0M1222.8 545.4h0M1124.7 1211.7h0M1071.8 409.8h0M1151.0 634.1h0M1540.2 556.8h0M1085.4 475.9h0M1368.7 662.3h0M1274.8 585.9h0M1213.2 421.0h0M1191.3 695.5h0M1363.1 557.2h0M1202.0 411.8h0M1543.8 714.1h0M1018.6 283.4h0M1098.7 382.7h0M865.5 291.1h0M1681.7 649.6h0M860.3 240.1h0M1342.3 582.9h0M1337.1 519.3h0M1276.6 424.4h0M646.4 376.3h0M1160.6 524.1h0M1118.4 399.2h0M642.0 394.1h0M1423.4 545.2h0M943.6 260.3h0M1361.9 561.3h0M1649.0 652.4h0M1173.4 536.2h0M1246.5 594.4h0M1071.5 388.3h0M1120.0 1214.1h0M1504.5 582.7h0M682.5 387.4h0M1204.7 657.4h0M1188.6 762.3h0M1075.2 373.1h0M1264.8 504.7h0M1354.0 552.4h0M1418.1 604.4h0M876.0 260.4h0M1330.1 538.4h0M1535.7 512.3h0M1093.2 557.1h0M1668.3 685.9h0M1344.1 512.0h0M1039.3 1158.8h0M1232.4 469.2h0M1112.9 496.9h0M1356.9 590.0h0M1177.4 550.9h0M1302.5 754.7h0M860.8 510.8h0M1130.4 539.5h0M1585.2 700.5h0M1264.2 493.3h0M1207.0 446.4h0M1379.3 533.0h0M1174.2 532.8h0M1342.6 700.1h0M975.4 267.2h0M849.1 221.2h0M788.1 279.4h0M1072.0 373.7h0M1449.4 421.5h0M1489.5 922.2h0M810.8 244.9h0M1612.2 726.5h0M1465.3 887.6h0M1377.5 489.4h0M1245.9 557.6h0M1502.0 830.4h0M1067.0 380.4h0M939.4 234.9h0M1670.5 654.4h0M945.2 330.4h0M1385.6 468.8h0M1533.3 492.4h0M1524.5 835.9h0M1464.4 802.1h0M1603.8 737.7h0M1187.1 600.9h0M814.4 436.3h0M1709.7 616.2h0M1227.2 342.5h0M1273.9 617.8h0M1441.7 834.9h0M1485.7 449.0h0M1346.7 726.5h0M1229.3 352.7h0M1525.0 532.5h0M809.5 232.2h0M1267.9 490.3h0M1470.0 738.3h0M1350.7 595.8h0M1002.5 1117.7h0M1277.9 354.7h0M1258.4 817.7h0M788.7 288.9h0M1136.2 621.0h0M1087.4 1162.3h0M878.6 292.7h0M1114.8 566.7h0M1045.7 523.4h0M1281.7 601.1h0M973.2 258.8h0M1374.9 850.2h0M1418.3 521.2h0M890.1 314.8h0M1386.8 834.4h0M1373.1 614.6h0M1016.3 548.7h0M1169.2 588.3h0M1506.9 731.2h0M1152.0 562.2h0M811.8 474.9h0M1112.3 525.4h0M1306.0 848.8h0M1536.7 502.8h0M1157.2 764.7h0M1472.6 892.7h0M1276.1 402.0h0M1094.9 1209.8h0M1556.7 708.1h0M954.5 268.6h0M1107.7 393.2h0M1484.4 414.5h0M1286.0 763.4h0M1081.6 509.4h0M1471.9 887.3h0M785.6 496.2h0M1170.0 684.3h0M897.6 239.9h0M1395.1 503.5h0M1295.3 849.3h0M853.9 223.3h0M1222.4 617.5h0M1554.7 694.2h0M1069.6 1136.3h0M1446.5 447.5h0M898.1 226.7h0M1065.2 1125.2h0M1474.2 891.6h0M1056.5 1114.6h0M1267.1 498.6h0M865.8 286.8h0M1364.5 498.4h0M1351.4 779.5h0M1362.1 536.3h0M896.7 267.8h0M1172.4 566.0h0M1608.9 712.0h0M1486.2 900.4h0M1702.5 615.4h0M920.4 293.4h0M1366.8 615.1h0M840.5 293.1h0M1299.1 466.7h0M1700.4 612.5h0M1083.9 565.4h0M1391.8 611.7h0M1466.7 622.1h0M1382.0 607.1h0M1297.6 524.2h0M1166.5 695.4h0M1175.2 837.0h0M1444.0 891.3h0M956.1 297.7h0M1112.6 490.3h0M1351.3 568.5h0M1141.3 1196.5h0M788.4 476.2h0M1013.8 1154.7h0M818.5 503.1h0M1117.9 1133.6h0M1160.5 437.2h0M876.0 230.3h0M1657.9 663.9h0M1629.3 689.3h0M1314.0 750.7h0M1259.7 761.7h0M1490.1 461.3h0M1641.1 716.3h0M1641.9 719.0h0M1119.9 399.8h0M1056.3 1136.6h0M1596.6 731.7h0M1297.7 503.0h0M1317.5 779.1h0M1197.6 787.6h0M818.9 243.9h0M1346.3 473.2h0M1209.4 756.9h0M880.1 335.1h0M1255.4 792.6h0M1196.8 552.9h0M1349.4 548.4h0M1648.5 654.7h0M1125.4 442.9h0M789.3 492.7h0M1716.9 659.1h0M850.5 263.0h0M1354.5 629.9h0M1232.6 586.5h0M1674.7 711.2h0M1539.2 541.7h0M1310.3 380.1h0M1056.8 518.5h0M1293.9 800.8h0M885.4 382.2h0M1249.1 570.1h0M1256.9 500.3h0M1258.2 444.9h0M646.8 458.2h0M1316.8 622.8h0M1101.8 500.1h0M1369.9 700.3h0M881.8 273.8h0M1492.0 563.9h0M1433.1 390.2h0M1241.0 397.3h0M1232.1 702.9h0M1229.3 687.8h0M1550.0 681.7h0M1085.7 498.7h0M836.1 317.2h0M1388.1 477.9h0M1048.5 531.7h0M1592.2 693.5h0M1072.8 390.7h0M1256.3 851.9h0M1263.5 429.5h0M842.9 390.6h0M926.6 338.5h0M1488.7 513.5h0M1485.3 545.8h0M1078.2 613.8h0M996.0 1099.1h0M1056.9 1102.4h0M1290.2 452.8h0M1137.7 1204.8h0M828.5 244.9h0M1134.7 1125.4h0M1319.9 563.5h0M1041.3 521.2h0M959.8 274.2h0M1245.2 822.0h0M1293.9 779.9h0M1460.8 580.7h0M1230.7 567.6h0M1433.6 896.4h0M1319.9 480.7h0M1113.1 414.8h0M1212.1 804.3h0M1026.3 563.0h0M1246.2 532.3h0M1703.3 662.5h0M1119.3 339.6h0M1479.3 824.0h0M1494.9 530.9h0M843.2 231.8h0M1323.9 673.3h0M1388.8 660.0h0M1275.7 414.0h0M1207.5 588.9h0M1304.9 605.4h0M1483.2 529.8h0M1315.2 397.0h0M1025.3 334.8h0M1403.3 483.9h0M790.2 289.3h0M1209.5 494.0h0M1096.2 1108.6h0M1261.4 361.7h0M1269.6 447.9h0M1046.1 502.9h0M1139.1 447.2h0M1152.6 824.3h0M911.0 315.9h0M931.0 306.7h0M1312.7 672.0h0M1246.6 581.6h0M1540.8 704.5h0M1106.3 421.2h0M1194.7 777.2h0M1074.3 491.2h0M625.8 457.8h0M873.4 233.3h0M1200.0 667.6h0M970.2 290.4h0M1349.6 700.2h0M1513.0 458.0h0M769.5 292.1h0M1431.2 849.1h0M1082.2 342.9h0M1320.4 590.6h0M1193.9 760.1h0M635.2 376.7h0M1479.5 531.6h0M1240.5 417.1h0M1505.0 512.8h0M1055.9 549.5h0M1259.0 487.5h0M1320.5 687.8h0M1401.5 808.7h0M1301.3 397.5h0M1446.7 837.5h0M1117.3 1187.3h0M840.9 453.6h0M1111.5 1157.5h0M1111.2 466.6h0M1271.3 358.2h0M1397.0 769.1h0M815.7 446.8h0M939.8 235.0h0M1263.4 621.0h0M1332.6 528.8h0M1263.4 494.6h0M1549.4 736.2h0M1105.4 376.9h0M1672.1 695.4h0M880.2 270.1h0M1488.7 520.5h0M1078.8 450.4h0M1574.9 742.0h0M1228.8 469.1h0M1465.3 628.6h0M1136.7 345.4h0M1288.6 728.8h0M938.5 288.1h0M1442.5 470.4h0M1343.3 704.2h0M1333.0 620.0h0M1302.7 378.8h0M1707.0 619.1h0M1259.3 549.1h0M1021.6 1149.3h0M1076.8 495.6h0M1210.5 419.6h0M1193.2 359.0h0M1670.7 614.4h0M1127.3 407.8h0M1386.1 700.3h0M1360.6 600.0h0M1118.6 639.5h0M1501.8 908.3h0M927.2 320.0h0M1368.1 451.4h0M1438.7 669.3h0M1456.7 565.5h0M1142.0 646.8h0M878.8 424.8h0M1488.4 928.5h0M935.5 240.8h0M1038.4 294.0h0M1414.2 461.5h0M1477.2 848.3h0M1344.2 607.7h0M908.2 264.1h0M1576.7 656.0h0M1119.3 498.4h0M1490.2 569.2h0M1340.5 635.2h0M1371.9 681.7h0M1342.6 567.2h0M1286.5 468.2h0M1153.2 809.2h0M1140.4 644.0h0M1204.0 474.7h0M1295.1 424.0h0M1345.5 578.7h0M1455.3 545.8h0M1332.3 630.5h0M1301.6 635.3h0M857.6 311.3h0M1524.6 516.8h0M1168.5 674.9h0M1682.4 636.6h0M937.2 277.0h0M1032.4 1138.3h0M1110.6 1141.4h0M1173.2 341.1h0M1094.3 345.0h0M1161.8 546.1h0M1295.1 850.1h0M1380.3 711.1h0M1298.9 402.3h0M1202.9 706.3h0M1478.4 475.9h0M1226.3 579.9h0M1428.8 530.9h0M1482.7 807.4h0M1466.6 444.5h0M1091.1 412.2h0M1266.9 424.7h0M1478.6 539.3h0M1305.5 544.5h0M1236.5 690.7h0M1632.3 685.3h0M1205.0 451.1h0M1350.6 558.4h0M1224.3 455.5h0M1260.2 502.0h0M1397.0 611.2h0M1537.4 712.8h0M1236.8 358.9h0M1223.2 805.2h0M1453.1 487.1h0M812.7 491.8h0M1352.6 490.6h0M1581.9 734.9h0M813.3 457.1h0M877.6 244.2h0M1663.6 677.1h0M1121.6 1189.6h0M1159.5 783.4h0M1490.9 447.8h0M1003.9 1142.0h0M1315.5 762.6h0M883.0 328.1h0M1618.5 681.4h0M1550.8 739.4h0M1137.3 530.8h0M1391.5 685.9h0M795.4 237.8h0M1389.1 699.9h0M1259.0 793.1h0M1144.5 668.8h0M1143.2 357.4h0M1161.5 581.5h0M1430.4 842.5h0M1315.1 670.8h0M921.4 231.7h0M1109.8 442.7h0M1072.4 1149.6h0M1504.8 459.6h0M1411.0 547.4h0M1104.3 1193.8h0M1518.9 475.8h0M1152.3 379.7h0M1370.1 681.7h0M1329.1 576.0h0M1267.6 756.7h0M1660.6 702.0h0M1095.9 405.5h0M1100.8 347.8h0M1389.1 602.5h0M985.0 272.7h0M1532.9 512.4h0M1217.1 847.9h0M1532.7 729.4h0M810.3 248.7h0M1454.8 535.5h0M1174.8 542.4h0M1486.7 815.0h0M1181.9 381.3h0M1290.1 504.8h0M1514.4 826.3h0M1111.3 1164.6h0M1531.3 527.1h0M1616.2 638.6h0M1133.0 340.7h0M991.5 1135.4h0M1183.4 521.0h0M1281.3 532.0h0M884.3 229.7h0M1278.0 645.9h0M868.0 314.3h0M919.5 251.8h0M1158.0 750.1h0M1492.2 518.4h0M892.6 404.1h0M1156.8 803.3h0M1161.5 386.1h0M1368.6 774.8h0M1530.4 513.4h0M1474.2 849.1h0M1262.3 511.4h0M1326.8 583.9h0M1495.7 493.4h0M1061.0 1150.4h0M1224.6 611.5h0M1135.2 504.9h0M1109.6 530.1h0M1483.3 898.4h0M909.2 299.4h0M986.1 242.2h0M953.6 240.2h0M1392.6 706.6h0M1406.6 468.7h0M1195.3 450.7h0M1330.3 574.9h0M1393.5 552.8h0M1313.4 596.8h0M1218.2 649.6h0M1154.4 468.6h0M1075.8 420.5h0M1501.5 897.2h0M1489.1 896.6h0M1109.6 1108.1h0M857.1 392.1h0M1186.9 403.1h0M1076.0 368.3h0M786.3 285.9h0M985.5 310.2h0M1431.2 863.9h0M1366.9 534.8h0M1223.4 499.5h0M1363.9 459.1h0M817.5 427.9h0M1530.6 714.2h0M964.3 283.2h0M1154.2 572.1h0M1252.7 764.8h0M1411.9 377.9h0M1436.2 841.7h0M1257.0 518.5h0M1156.6 348.7h0M1386.4 466.9h0M1135.7 522.2h0M830.1 355.8h0M1503.9 563.4h0M1163.7 456.2h0M1380.3 750.0h0M1363.5 544.1h0M1563.3 710.2h0M1241.1 805.1h0M1647.2 714.8h0M842.4 273.0h0M1344.9 449.9h0M1614.8 705.7h0M1536.3 737.2h0M943.9 307.7h0M1243.3 362.3h0M1061.4 1120.8h0M1063.6 1141.9h0M1345.0 548.3h0M1253.0 448.8h0M1260.7 362.4h0M1150.3 540.8h0M1360.3 587.1h0M932.5 229.3h0M1463.7 606.2h0M1499.9 841.1h0M1260.6 504.0h0M888.8 302.1h0M997.3 1122.3h0M1374.8 658.9h0M1252.4 837.1h0M1618.3 692.2h0M666.9 420.1h0M1229.0 396.2h0M806.2 422.7h0M1006.4 1107.7h0M1228.2 434.3h0M1516.5 839.2h0M762.4 481.2h0M1132.2 546.4h0M1395.0 582.3h0M1422.3 384.4h0M1490.1 805.3h0M1354.4 605.7h0M1013.5 298.6h0M1129.9 662.1h0M828.8 495.8h0M1286.2 628.3h0M1661.6 680.2h0M884.6 322.0h0M1006.1 1111.3h0M1150.7 584.2h0M1450.6 899.3h0M1309.0 465.2h0M1371.4 528.6h0M1407.9 698.2h0M1191.1 807.9h0M1383.5 649.8h0M871.5 489.5h0M1233.8 344.9h0M1497.6 503.4h0M1276.9 744.6h0M1429.7 712.8h0M1243.9 480.6h0M1346.7 700.4h0M1172.7 334.0h0M1060.8 488.0h0M1319.3 773.6h0M1214.7 563.2h0M1336.3 472.6h0M1354.0 599.3h0M1240.8 487.6h0M1463.5 398.5h0M1418.8 703.8h0M1501.2 474.5h0M1046.3 539.3h0M1491.3 823.4h0M1222.1 393.1h0M1252.3 789.1h0M1263.4 756.4h0M1208.3 659.8h0M1226.5 596.3h0M1592.5 650.7h0M1104.3 1116.0h0M1486.8 835.9h0M1340.5 494.7h0M1303.8 490.2h0M1061.4 1148.6h0M1313.2 791.0h0M1549.6 678.0h0M858.9 278.0h0M865.0 270.1h0M866.2 404.4h0M1343.2 549.4h0M944.0 333.3h0M895.4 260.0h0M957.0 279.2h0M889.7 307.7h0M877.0 318.4h0M827.6 353.6h0M810.7 313.3h0M998.3 286.1h0M1254.0 590.2h0M1222.2 462.0h0M915.5 225.1h0M853.9 492.5h0M1581.2 726.0h0M1079.1 494.4h0M1456.1 512.1h0M1374.8 676.3h0M1153.6 591.3h0M1150.4 659.6h0M1106.7 445.1h0M1154.6 559.7h0M1234.9 593.5h0M1396.0 488.3h0M1640.3 692.6h0M1075.6 1155.7h0M1091.3 569.0h0M1589.6 734.7h0M1313.2 619.2h0M1483.6 572.8h0M1433.5 699.8h0M1256.6 463.2h0M1171.1 662.2h0M1389.5 574.6h0M1115.2 511.7h0M1130.2 660.2h0M817.5 436.3h0M1491.0 843.7h0M1123.1 1187.8h0M1423.6 499.7h0M1006.2 1111.4h0M1386.6 460.5h0M1099.9 357.5h0M1098.6 641.1h0M1458.5 422.5h0M1381.5 695.7h0M984.2 278.6h0M645.4 435.3h0M1444.4 847.2h0M1193.2 581.9h0M912.4 318.8h0M1282.1 793.4h0M1144.5 556.7h0M1471.4 807.8h0M1146.8 580.5h0M1386.7 470.7h0M1180.3 698.6h0M794.2 280.4h0M946.8 247.1h0M860.7 486.3h0M1229.1 431.6h0M1260.0 604.8h0M890.9 296.9h0M1195.1 817.0h0M1169.5 834.0h0M1368.0 626.3h0M1311.4 832.9h0M1036.7 1150.7h0M1319.0 748.7h0M858.6 371.7h0M1238.6 593.2h0M1386.2 760.8h0M1157.7 819.8h0M1033.0 506.1h0M800.2 454.7h0M1186.6 611.8h0M1106.9 518.8h0M1211.9 495.9h0M1701.1 644.4h0M844.4 284.5h0M1491.0 536.1h0M1525.7 716.3h0M1394.0 571.7h0M1535.5 538.1h0M1023.8 288.4h0M1525.9 560.4h0M1378.7 578.9h0M1043.2 504.9h0M1515.8 729.9h0M1230.5 828.7h0M1107.6 500.2h0M774.7 291.9h0M1409.9 709.2h0M1520.8 865.9h0M1347.6 437.0h0M1562.4 732.8h0M1435.0 590.8h0M870.2 379.4h0M879.0 274.8h0M1455.7 856.0h0M1377.7 500.4h0M956.2 231.8h0M970.4 1092.7h0M1142.1 547.1h0M1170.6 502.5h0M1244.7 531.9h0M1521.4 742.1h0M1394.8 827.7h0M877.0 324.0h0M841.1 300.9h0M1643.9 678.2h0M985.8 1140.9h0M1234.0 598.6h0M1686.4 605.1h0M1512.2 501.9h0M1068.1 360.1h0M1561.7 668.3h0M1137.1 603.6h0M1432.2 850.9h0M1482.0 516.6h0M1263.4 474.7h0M1314.2 434.2h0M1459.9 467.8h0M1393.0 534.9h0M1116.9 402.7h0M1012.7 552.0h0M1276.8 683.6h0M1444.3 835.4h0M1143.2 448.4h0M1306.4 636.5h0M868.6 285.8h0M815.9 427.9h0M873.9 245.2h0M1254.1 697.2h0M1377.1 702.1h0M1680.0 675.5h0M1040.7 507.1h0M1371.5 686.6h0M1518.9 505.2h0M1198.1 365.8h0M1361.3 457.2h0M1403.3 461.0h0M1273.6 481.5h0M1261.8 512.2h0M1276.1 479.4h0M1409.1 792.7h0M1297.7 374.0h0M1450.2 576.1h0M931.4 330.3h0M1138.9 460.4h0M869.8 231.3h0M1257.9 461.5h0M640.3 449.0h0M1393.5 742.4h0M1421.6 834.6h0M1371.2 715.1h0M1449.7 400.4h0M1667.4 683.3h0M1434.0 868.9h0M1398.4 754.7h0M908.1 257.6h0M1396.1 604.5h0M1132.5 501.6h0M1580.5 718.8h0M625.0 410.9h0M1525.4 564.0h0M1286.9 453.5h0M1326.5 559.0h0M1098.4 1137.8h0M1408.2 831.9h0M1380.1 699.0h0M1453.1 437.2h0M1186.7 413.8h0M1403.3 518.6h0M1512.3 586.1h0M1432.9 804.1h0M1677.9 688.2h0M880.0 388.8h0M856.0 397.8h0M1389.1 709.0h0M1311.1 641.7h0M983.5 257.7h0M1134.2 544.2h0M1117.4 426.0h0M1384.6 552.6h0M1452.4 608.7h0M1117.5 459.8h0M1234.8 817.5h0M1350.2 529.3h0M1362.3 561.9h0M1266.9 422.1h0M1536.1 490.9h0M1257.1 398.8h0M1114.6 369.6h0M835.6 496.8h0M1320.1 543.8h0M843.2 360.9h0M1313.8 436.9h0M914.9 331.2h0M1071.9 502.2h0M1647.0 630.0h0M1642.5 669.5h0M1266.8 846.6h0M1220.3 673.1h0M1387.5 509.3h0M1535.7 484.3h0M1391.9 497.6h0M1300.7 467.8h0M1625.2 724.2h0M1520.3 868.6h0M804.1 291.4h0M1422.8 872.2h0M908.3 248.5h0M890.4 299.3h0M1628.2 644.4h0M1508.4 868.3h0M1374.1 707.1h0M1263.9 386.9h0M803.5 286.8h0M761.0 277.2h0M1105.8 347.2h0M1262.7 488.8h0M1137.6 1199.1h0M1411.9 851.8h0M1478.2 604.8h0M1271.8 786.1h0M1450.1 885.9h0M1445.8 840.0h0M1402.1 512.9h0M1323.3 592.9h0M1526.3 726.9h0M1522.4 846.1h0M1244.4 586.9h0M1539.9 541.1h0M784.1 278.2h0M1080.9 1158.5h0M932.5 258.0h0M1420.4 806.2h0M1373.6 777.5h0M1168.1 369.2h0M1459.8 432.8h0M1685.3 610.1h0M1121.5 640.9h0M1506.4 577.5h0M1590.1 695.5h0M1492.1 602.3h0M1227.0 431.7h0M1507.5 477.3h0M898.9 302.1h0M1557.6 726.2h0M1388.0 609.1h0M1160.1 593.1h0M1511.0 535.4h0M840.7 459.8h0M1516.6 536.6h0M702.1 466.0h0M1107.0 1178.2h0M1469.6 919.0h0M1531.1 578.8h0M1081.2 412.1h0M1549.7 740.5h0M1241.5 814.7h0M1085.1 1155.7h0M940.3 313.9h0M1333.3 655.6h0M1183.8 651.7h0M1648.1 701.0h0M877.4 249.5h0M1406.3 813.8h0M788.3 502.9h0M1404.4 807.8h0M1361.0 605.2h0M1508.5 886.4h0M1368.6 548.9h0M1547.5 687.7h0M831.6 487.2h0M1388.9 627.7h0M1235.3 604.6h0M1622.7 705.3h0M1407.0 821.4h0M1025.2 527.4h0M1452.8 473.2h0M1385.1 601.1h0M846.9 279.7h0M927.9 239.4h0M798.9 475.2h0M1587.1 690.0h0M1443.6 826.7h0M1409.8 822.2h0M1622.9 662.2h0M618.7 389.0h0M1488.0 537.6h0M1172.3 579.1h0M1528.5 470.5h0M1213.4 405.0h0M1105.9 1159.2h0M1564.4 697.8h0M1625.7 699.0h0M1290.1 470.0h0M1195.2 661.7h0M1297.1 849.3h0M1314.7 513.9h0M890.0 397.8h0M1082.8 357.3h0M1488.9 597.3h0M1123.5 627.6h0M1230.3 585.4h0M805.5 436.0h0M1458.2 875.8h0M1458.8 893.2h0M1354.8 448.9h0M850.5 459.7h0M633.4 417.8h0M1110.9 389.0h0M1499.7 461.9h0M1195.7 644.1h0M1649.3 693.7h0M1488.6 462.4h0M1461.6 535.5h0M1425.1 490.4h0M1320.5 781.6h0M1242.1 507.1h0M1157.5 642.9h0M1136.5 432.8h0M1719.2 661.5h0M1263.2 695.0h0M842.9 284.3h0M1286.5 482.6h0M1116.6 418.6h0M1362.2 628.7h0M1394.0 718.6h0M1232.8 379.4h0M1508.8 847.9h0M1456.0 514.1h0M955.1 278.7h0M1474.1 515.5h0M1493.7 911.6h0M1207.8 841.0h0M1480.5 822.8h0M1217.0 656.4h0M1390.1 565.5h0M1457.7 901.1h0M1313.1 382.9h0M1431.9 394.9h0M1203.9 341.6h0M811.2 272.0h0M1071.6 1141.7h0M1084.2 1171.8h0M1323.6 400.0h0M1289.7 588.8h0M1325.0 611.5h0M1334.0 660.5h0M908.9 260.5h0M1317.9 430.4h0M1161.4 381.7h0M904.7 254.8h0M1292.8 642.7h0M1286.3 512.3h0M1338.6 567.7h0M1177.6 347.5h0M1254.6 607.0h0M883.5 279.5h0M1035.9 1132.0h0M1371.6 667.8h0M1217.4 440.4h0M1133.6 536.7h0M1126.8 523.9h0M1314.6 755.3h0M1300.9 568.7h0M1361.3 654.8h0M1255.1 436.9h0M1394.8 560.4h0M774.9 295.7h0M1175.1 557.2h0M1173.2 431.7h0M1131.6 617.6h0M1231.0 505.2h0M1273.4 418.3h0M936.7 256.0h0M667.4 458.4h0M1078.2 388.1h0M782.9 266.9h0M1477.0 899.0h0M1091.8 1190.4h0M1233.6 412.9h0M1123.9 561.9h0M1146.8 450.9h0M1466.0 478.3h0M1140.7 561.6h0M1191.3 424.9h0M1388.9 546.8h0M1460.5 412.4h0M1312.2 491.4h0M1283.5 399.2h0M1098.8 1100.8h0M1262.6 581.6h0M1197.0 777.4h0M1171.6 672.2h0M1382.0 775.4h0M1299.8 676.7h0M1220.4 412.9h0M1595.8 678.3h0M1181.7 838.4h0M645.5 873.0h0M858.3 322.8h0M1166.8 662.3h0M1224.5 593.4h0M1415.4 514.3h0M1362.1 544.6h0M1069.9 604.5h0M667.0 442.3h0M1296.0 563.4h0M1175.0 816.7h0M1461.9 470.2h0M1125.2 1150.2h0M1307.9 619.6h0M868.4 358.0h0M808.0 392.4h0M788.7 487.2h0M1192.1 640.5h0M1505.6 542.7h0M1060.9 1098.0h0M1530.7 461.8h0M1075.6 1125.6h0M1233.8 581.0h0M1092.5 1121.8h0M1520.9 520.3h0M1043.9 1141.2h0M1157.9 350.8h0M1670.0 653.0h0M990.1 1101.7h0M1449.1 898.3h0M811.4 237.1h0M1225.9 682.8h0M1211.4 830.7h0M1694.9 604.7h0M1330.3 575.7h0M840.6 271.6h0M1421.5 448.6h0M1071.8 494.3h0M1663.6 630.3h0M1298.3 786.0h0M1345.3 716.9h0M1535.0 488.4h0M834.5 308.7h0M1054.3 364.3h0M1180.4 478.2h0M1292.6 763.4h0M1378.2 709.5h0M1128.2 612.7h0M1256.8 345.3h0M1168.9 658.2h0M1191.2 399.5h0M1176.3 610.6h0M1469.0 801.4h0M1499.7 530.7h0M1458.1 907.6h0M1347.1 586.5h0M1002.4 1112.8h0M1307.0 474.2h0M788.8 271.9h0M1236.4 453.8h0M890.9 228.6h0M990.9 243.3h0M1536.3 514.8h0M819.8 297.1h0M1600.5 707.2h0M1343.1 455.4h0M1373.0 607.1h0M797.5 462.4h0M1034.4 298.4h0M987.9 1132.9h0M1182.9 796.4h0M1024.3 1162.9h0M1133.6 615.6h0M829.0 352.0h0M894.8 218.4h0M1507.8 563.2h0M1429.4 502.0h0M1087.7 366.0h0M1201.3 591.1h0M1495.7 441.4h0M907.6 253.6h0M900.0 328.4h0M1143.3 806.7h0M670.9 471.8h0M1275.8 409.8h0M1263.6 470.1h0M1239.4 841.0h0M1475.3 835.4h0M1409.3 703.8h0M1113.3 579.9h0M975.5 1090.0h0M1142.1 1177.4h0M970.7 308.7h0M1140.4 362.0h0M1482.5 527.8h0M1176.0 614.8h0M1687.5 650.2h0M1432.5 836.5h0M1239.4 397.6h0M1464.7 888.9h0M1201.6 788.4h0M1261.4 506.5h0M1229.9 458.1h0M1367.9 619.5h0M1451.6 859.1h0M872.4 332.4h0M1282.8 744.3h0M1362.3 499.6h0M1125.8 1169.1h0M1345.3 603.7h0M761.6 266.3h0M1415.3 387.7h0M1297.5 741.8h0M1578.2 688.6h0M1086.6 1108.0h0M1067.7 348.4h0M1586.2 716.4h0M1538.6 698.9h0M1460.4 858.6h0M1016.3 1121.8h0M1377.3 503.3h0M1315.1 713.4h0M1079.5 392.2h0M1458.2 888.3h0M1267.8 504.9h0M1512.9 526.4h0M1284.4 385.7h0M1173.3 365.6h0M1358.6 543.6h0M808.6 515.6h0M1361.0 613.3h0M1284.5 447.8h0M1364.2 544.4h0M1074.1 504.5h0M1191.7 337.5h0M1146.7 1179.9h0M1263.3 367.3h0M1471.0 867.0h0M1406.4 569.6h0M1149.6 594.1h0M1347.6 528.9h0M1240.3 553.0h0M1205.1 398.8h0M1467.2 401.3h0M1515.5 491.0h0M1102.8 576.3h0M1382.3 543.3h0M1330.6 553.9h0M1609.8 687.2h0M1512.8 823.6h0M1403.0 712.8h0M1473.5 812.9h0M1175.9 787.6h0M1315.3 471.3h0M1213.6 818.6h0M1232.3 576.5h0M672.0 469.9h0M1321.2 496.7h0M778.9 262.9h0M1324.7 672.1h0M935.7 237.4h0M1386.5 692.3h0M1202.1 582.2h0M1499.8 908.2h0M776.4 292.8h0M1460.1 494.3h0M1347.4 569.5h0M1214.3 376.0h0M1599.1 715.9h0M1648.5 693.7h0M1562.6 657.2h0M1136.6 497.4h0M1146.7 535.4h0M1280.8 376.0h0M944.6 299.7h0M1305.7 525.7h0M1325.8 630.9h0M1481.7 579.7h0M1210.5 591.5h0M1473.2 869.2h0M1269.8 501.9h0M1592.2 706.5h0M1372.6 692.9h0M1497.4 847.9h0M1328.2 624.8h0M1687.1 637.6h0M1421.2 689.4h0M1349.7 774.9h0M1521.5 898.5h0M1148.2 369.9h0M992.8 1138.4h0M1286.5 559.3h0M1142.3 603.1h0M1122.6 457.5h0M1444.0 396.2h0M1133.5 561.4h0M1454.7 802.5h0M1032.0 540.3h0M1485.3 586.4h0M1244.6 503.2h0M1221.3 834.1h0M1449.5 544.8h0M1473.9 552.7h0M1564.1 714.9h0M1376.9 449.8h0M1222.9 392.7h0M1059.8 368.2h0M1485.8 846.0h0M1269.6 417.8h0M1305.4 426.5h0M1674.8 621.2h0M1495.2 828.6h0M1451.5 568.9h0M834.3 376.7h0M1456.4 404.1h0M1074.7 548.9h0M1599.7 708.3h0M1161.0 577.8h0M1120.8 657.6h0M1251.4 827.5h0M1371.3 629.4h0M1261.2 504.2h0M1191.4 655.8h0M1087.8 614.7h0M1057.0 547.7h0M1363.8 698.0h0M1063.6 527.5h0M1449.8 613.9h0M1176.5 604.8h0M847.4 335.1h0M781.4 479.5h0M1382.4 536.2h0M1491.9 808.9h0M1157.5 393.8h0M1320.4 777.3h0M1420.2 497.0h0M1313.5 483.1h0M1357.5 717.1h0M1301.3 784.8h0M1039.2 520.2h0M1182.2 374.6h0M1527.6 541.6h0M1329.1 566.7h0M1356.4 501.8h0M1362.6 610.8h0M1182.2 525.8h0M1419.9 552.1h0M1356.0 567.6h0M1309.3 601.3h0M1264.5 514.5h0M1318.5 462.9h0M1363.1 769.2h0M1327.6 481.9h0M1086.7 1112.4h0M1094.6 500.4h0M1552.1 736.7h0M1461.9 490.1h0M1454.7 909.9h0M845.8 259.1h0M1330.0 484.6h0M1670.7 621.6h0M1353.0 549.3h0M1208.7 487.8h0M1272.0 671.6h0M1261.2 764.9h0M846.3 340.1h0M1062.2 488.2h0M1469.4 857.1h0M1177.6 653.9h0M1156.8 335.4h0M1362.6 541.0h0M1273.2 360.5h0M1248.9 602.1h0M975.0 1088.9h0M1263.5 825.1h0M1323.1 542.6h0M865.0 382.2h0M811.5 311.3h0M1630.3 618.3h0M1419.3 597.6h0M1339.4 781.5h0M1434.2 847.6h0M917.2 319.7h0M843.1 369.3h0M918.5 309.5h0M1305.2 593.2h0M1105.8 1103.7h0M965.4 1115.7h0M1402.3 779.7h0M1209.1 381.5h0M935.8 257.8h0M1427.2 378.0h0M1260.6 827.9h0M1291.9 764.5h0M1016.6 558.6h0M1317.9 594.7h0M916.3 336.1h0M1541.4 721.0h0M1358.0 670.7h0M1187.7 648.0h0M1516.3 702.7h0M1423.7 829.3h0M1220.9 677.9h0M1120.1 1211.0h0M1515.3 863.4h0M1075.8 1097.6h0M1342.9 548.0h0M1388.3 556.2h0M1412.6 804.8h0M973.7 1120.0h0M1174.4 612.7h0M1222.7 688.8h0M1017.2 332.1h0M1341.1 570.3h0M1051.0 564.7h0M1311.1 778.0h0M1470.0 818.4h0M1085.3 596.0h0M1267.2 816.2h0M1042.6 1102.8h0M1208.3 418.0h0M1214.9 586.5h0M1269.4 484.9h0M1092.0 423.2h0M1315.7 418.0h0M1264.5 829.2h0M1305.4 576.0h0M977.6 1133.0h0M1164.2 474.8h0M1241.7 503.3h0M1366.3 623.7h0M1365.5 460.8h0M1368.5 570.0h0M1070.7 365.9h0M919.8 255.5h0M1396.7 588.4h0M928.0 249.6h0M1165.7 587.1h0M1152.4 357.7h0M1107.9 1174.9h0M1301.0 500.0h0M1224.2 770.6h0M938.0 310.1h0M1466.9 906.9h0M1281.3 505.3h0M1491.9 433.7h0M824.6 446.4h0M1283.8 362.2h0M1204.6 412.9h0M1110.4 507.8h0M815.8 438.2h0M896.0 271.4h0M813.8 285.5h0M1454.0 889.4h0M1248.5 605.2h0M1176.4 630.6h0M1290.7 552.4h0M1319.8 573.4h0M1147.7 671.1h0M1376.5 728.0h0M1510.1 548.9h0M1086.4 391.8h0M1376.1 578.5h0M1336.8 733.3h0M1524.4 702.2h0M1349.8 746.6h0M1394.8 575.8h0M1467.6 914.4h0M1185.7 423.6h0M1712.7 674.5h0M1102.7 482.1h0M1106.6 1185.4h0M1147.4 468.5h0M1289.7 711.3h0M1178.1 420.6h0M1336.8 482.5h0M1262.0 486.5h0M1064.6 573.3h0M1383.2 504.4h0M1151.3 466.7h0M1466.1 833.5h0M1331.6 451.8h0M1580.4 707.9h0M1215.8 613.8h0M1044.4 1135.7h0M1354.1 543.7h0M1317.8 764.6h0M1407.4 827.0h0M1278.8 481.1h0M1385.3 631.4h0M891.8 320.6h0M1582.5 710.8h0M1035.5 1133.1h0M1210.8 781.4h0M1402.5 463.3h0M1319.4 510.0h0M1054.7 503.2h0M1348.2 720.2h0M631.5 399.5h0M1472.2 541.0h0M1088.5 405.1h0M1155.5 808.6h0M1432.8 895.2h0M1099.3 443.1h0M1562.3 745.8h0M1147.9 388.3h0M877.4 318.4h0M1117.3 386.1h0M1285.1 782.0h0M1379.9 677.0h0M1150.2 566.4h0M1475.6 862.4h0M1314.1 733.3h0M1342.8 561.4h0M1280.9 615.6h0M1171.3 366.4h0M1363.3 624.9h0M1278.9 777.4h0M1476.9 488.3h0M884.5 318.8h0M964.6 331.2h0M1293.0 450.9h0M1497.6 796.8h0M1468.4 512.3h0M1431.1 833.8h0M1193.9 351.4h0M1183.3 786.5h0M1192.8 794.1h0M917.6 240.6h0M1007.4 1161.0h0M1107.8 502.2h0M1292.1 721.1h0M1427.3 819.6h0M1664.6 641.3h0M1236.2 627.9h0M1412.8 768.0h0M1315.6 568.7h0M1261.6 398.0h0M1332.8 630.2h0M852.0 500.4h0M1358.1 496.8h0M1670.0 650.9h0M1417.9 392.6h0M1201.4 793.6h0M1300.5 681.0h0M785.1 485.4h0M850.4 306.0h0M1234.5 669.1h0M1146.5 335.0h0M1372.9 479.0h0M1460.1 847.0h0M1001.7 1150.7h0M1455.3 536.2h0M1465.9 481.6h0M1353.0 491.0h0M843.7 461.6h0M1549.3 741.3h0M903.4 297.6h0M1126.1 387.4h0M1183.0 584.3h0M1443.7 831.8h0M1340.8 482.4h0M1154.7 777.2h0M1067.2 1120.3h0M1210.3 549.6h0M1411.8 847.2h0M1537.1 495.5h0M1310.0 789.9h0M988.3 249.2h0M1331.3 797.1h0M860.1 473.6h0M1522.1 728.2h0M946.0 233.9h0M815.6 356.3h0M1324.6 765.8h0M913.0 336.6h0M1500.3 462.8h0M1425.8 829.4h0M1089.8 1196.5h0M1021.6 1126.3h0M1217.1 821.7h0M1211.6 540.0h0M628.7 386.9h0M1143.6 410.8h0M1499.7 558.4h0M894.2 218.0h0M1387.4 785.3h0M1289.4 469.2h0M826.8 285.1h0M1472.3 833.0h0M1168.8 681.6h0M872.2 358.9h0M1209.2 798.7h0M1345.1 570.7h0M986.6 246.1h0M1236.6 413.5h0M1438.7 885.7h0M994.7 286.8h0M1184.8 666.4h0M1066.9 490.3h0M1452.8 908.8h0M1454.5 902.5h0M1530.1 485.7h0M1176.3 562.6h0M1214.4 630.6h0M1528.6 511.8h0M1585.5 682.3h0M1045.2 494.6h0M1321.1 464.9h0M1059.0 494.7h0M820.1 449.2h0M1085.3 488.8h0M1341.5 729.5h0M1236.8 583.3h0M1507.0 519.5h0M1332.1 480.7h0M1351.6 540.3h0M1223.8 776.4h0M619.4 384.2h0M1266.3 502.7h0M1329.6 588.9h0M889.8 306.0h0M813.0 491.9h0M1402.9 558.1h0M1372.1 601.9h0M1169.5 677.6h0M1494.0 551.2h0M1310.9 414.5h0M804.9 260.3h0M1469.9 442.3h0M1518.2 538.3h0M1075.6 354.5h0M1234.2 366.1h0M822.5 518.7h0M1306.4 529.1h0M1043.2 575.6h0M1520.8 848.0h0M1118.1 386.5h0M1432.1 843.5h0M1165.0 454.7h0M1139.8 1131.6h0M1331.1 489.8h0M1197.3 383.6h0M817.3 284.9h0M922.7 244.4h0M1108.5 496.6h0M1654.6 688.2h0M1022.0 1091.4h0M1460.9 872.1h0M1199.8 845.3h0M1325.1 659.9h0M1357.3 547.2h0M1378.7 567.3h0M1251.2 360.8h0M1343.6 549.1h0M879.8 249.1h0M1294.2 556.1h0M1224.7 345.8h0M1308.4 780.3h0M1677.7 587.8h0M1070.9 1118.6h0M1192.6 540.5h0M1425.6 395.9h0M990.9 312.1h0M1618.8 655.1h0M1364.3 452.2h0M793.9 443.4h0M1045.6 1161.2h0M1398.7 479.7h0M1299.8 612.9h0M883.4 392.2h0M1338.5 540.9h0M1337.6 421.2h0M1101.7 1159.2h0M1467.9 847.8h0M786.3 486.7h0M853.1 389.4h0M1260.5 492.1h0M1447.8 906.7h0M1031.7 1106.9h0M1514.9 829.4h0M1230.4 459.5h0M1271.9 375.5h0M1167.3 528.0h0M1124.3 489.2h0M1457.4 414.2h0M1150.0 540.8h0M1163.5 532.8h0M1431.9 442.9h0M1698.9 677.3h0M1253.1 452.9h0M1279.8 709.1h0M1174.8 687.6h0M1458.4 533.1h0M1111.8 421.6h0M1103.1 408.3h0M1376.3 651.0h0M1090.8 510.7h0M1235.9 395.2h0M1511.1 896.0h0M1207.2 631.0h0M1297.2 500.9h0M1361.4 608.6h0M1342.6 425.2h0M1370.9 508.6h0M1330.1 593.0h0M648.0 397.6h0M1460.1 912.6h0M1362.0 542.0h0M1593.4 735.6h0M1135.7 364.6h0M1256.9 582.4h0M1075.7 484.5h0M1384.1 441.9h0M1478.0 461.1h0M1092.5 505.9h0M1171.2 363.9h0M1386.4 558.5h0M915.2 286.9h0M1468.1 844.1h0M1426.4 841.3h0M1356.0 519.4h0M1186.6 342.9h0M1066.1 1163.2h0M823.1 481.1h0M1475.0 461.0h0M1034.3 1165.0h0M1606.1 672.8h0M1162.8 545.7h0M1514.9 842.8h0M1349.8 719.5h0M1143.4 375.0h0M1069.6 602.2h0M874.5 330.9h0M1422.1 621.9h0M1133.6 634.3h0M1209.4 451.7h0M1154.0 545.8h0M1273.8 781.6h0M1380.8 744.7h0M1640.0 607.8h0M1346.9 564.0h0M1678.3 624.7h0M1331.1 681.6h0M1275.6 603.0h0M1361.4 763.3h0M804.4 246.1h0M1125.1 1125.9h0M1630.6 693.7h0M1204.8 591.1h0M1224.1 676.3h0M1176.3 573.7h0M1350.3 444.0h0M1436.0 901.2h0M1582.5 673.7h0M1364.8 756.8h0M834.5 463.5h0M1149.4 446.6h0M1382.9 835.1h0M1431.6 875.4h0M1711.7 679.0h0M1496.6 738.9h0M1490.0 554.1h0M665.6 376.7h0M1247.8 756.3h0M1220.1 830.2h0M1457.5 529.6h0M1408.4 544.6h0M1251.7 494.7h0M1410.8 725.3h0M1015.2 1103.6h0M641.2 415.4h0M1516.9 882.0h0M1127.3 1105.9h0M946.4 244.9h0M1386.5 514.8h0M947.0 288.0h0M1204.8 542.5h0M1699.9 683.4h0M1620.1 690.9h0M1298.9 496.4h0M1376.7 661.3h0M1263.5 515.1h0M1577.2 706.3h0M667.9 392.6h0M1109.7 1182.5h0M1166.4 759.3h0M864.8 280.6h0M1506.0 501.3h0M1120.1 1204.1h0M1109.5 1113.9h0M830.8 299.8h0M871.5 276.3h0M917.7 317.5h0M1361.7 602.2h0M783.6 302.1h0M845.9 329.0h0M1306.4 631.3h0M1422.8 700.1h0M1036.8 537.1h0M1348.2 562.3h0M1346.3 642.1h0M1210.8 507.8h0M1185.0 419.4h0M1209.8 655.8h0M1155.7 541.2h0M1507.5 883.2h0M1130.5 664.2h0M1152.6 807.5h0M1357.7 565.5h0M1231.9 486.9h0M1358.6 593.8h0M758.8 450.8h0M1505.6 825.3h0M1103.5 501.0h0M989.4 1087.9h0M845.2 320.1h0M1436.6 861.0h0M1438.9 821.5h0M1256.1 357.5h0M1063.2 574.2h0M1260.0 779.6h0M789.5 311.9h0M1078.7 415.2h0M1019.4 1137.9h0M1378.4 671.9h0M1400.0 485.0h0M832.0 368.8h0M1258.9 395.1h0M812.0 275.7h0M1507.1 547.6h0M1605.5 736.7h0M829.8 254.7h0M1190.3 701.7h0M879.7 280.2h0M1366.2 697.1h0M1403.8 439.7h0M1379.0 602.7h0M1101.3 404.4h0M1439.6 888.1h0M1399.1 501.9h0M1360.0 618.4h0M897.2 264.8h0M1514.4 859.8h0M873.1 329.5h0M1015.6 1140.2h0M1464.8 490.5h0M1377.0 684.1h0M911.5 323.7h0M933.4 262.9h0M1407.3 842.7h0M1266.2 432.0h0M1054.9 1172.5h0M863.2 283.1h0M1450.7 402.3h0M798.5 244.2h0M860.5 240.5h0M1469.4 454.8h0M1433.2 685.8h0M1272.0 485.5h0M827.0 283.1h0M1402.3 830.6h0M1321.2 549.7h0M1424.1 854.0h0M1044.2 536.2h0M1254.7 793.1h0M842.8 344.2h0M1236.5 408.5h0M1102.1 619.3h0M1458.1 536.5h0M1240.9 405.1h0M1496.1 732.2h0M968.8 236.5h0M1680.5 583.9h0M843.9 240.7h0M859.5 355.2h0M1343.9 577.6h0M1269.0 502.0h0M1381.2 792.2h0M1294.9 477.8h0M890.5 303.1h0M1375.5 557.6h0M1229.7 708.2h0M1676.3 701.1h0M792.5 472.2h0M1199.5 429.3h0M1346.0 655.9h0M1243.5 382.3h0M1429.1 845.4h0M1309.7 406.2h0M1358.4 604.3h0M1456.1 416.3h0M1104.3 553.7h0M1107.5 1161.0h0M827.2 460.8h0M831.4 483.1h0M642.3 425.3h0M1293.7 782.3h0M836.6 359.2h0M1188.2 445.8h0M1065.1 481.6h0M965.6 250.3h0M1334.0 428.2h0M1124.4 539.7h0M1258.9 761.4h0M1199.4 829.6h0M807.4 485.4h0M975.4 273.4h0M1249.9 829.2h0M1251.9 398.4h0M1267.3 528.9h0M1457.5 855.6h0M617.6 387.2h0M795.5 296.4h0M1076.0 1199.1h0M1487.5 535.4h0M1420.1 730.9h0M771.6 470.0h0M1703.6 596.4h0M1100.0 555.6h0M1241.9 433.6h0M970.8 274.8h0M1681.5 678.5h0M1089.8 1195.3h0M870.4 297.8h0M1366.3 785.1h0M1069.5 512.9h0M1156.6 590.9h0M1040.1 1140.5h0M1140.1 424.5h0M1291.4 607.6h0M1204.7 832.8h0M1624.2 696.2h0M1219.8 352.4h0M1411.8 594.6h0M1331.8 501.4h0M1101.1 350.4h0M1597.9 666.6h0M915.4 287.0h0M926.7 320.8h0M1354.0 543.9h0M1150.7 1115.1h0M1464.8 833.8h0M1324.8 536.5h0M882.9 251.8h0M618.3 401.5h0M1696.0 688.9h0M830.3 321.0h0M875.1 351.5h0M983.8 299.2h0M1353.8 624.1h0M1394.2 536.2h0M1153.4 667.6h0M809.4 318.8h0M1251.4 583.7h0M814.1 478.3h0M1438.3 837.1h0M945.1 296.4h0M1321.9 734.0h0M1517.4 731.5h0M1379.1 691.6h0M1623.1 656.6h0M1509.2 908.2h0M1420.0 526.6h0M878.6 372.0h0M1373.6 589.4h0M1525.2 851.5h0M1195.1 371.9h0M1150.2 806.7h0M1134.2 518.8h0M1229.5 569.1h0M1636.5 674.3h0M1317.0 422.6h0M1018.7 540.7h0M1630.9 707.8h0M1169.1 838.6h0M1390.1 693.0h0M789.2 292.2h0M1183.1 639.3h0M1344.1 537.5h0M943.6 268.1h0M1526.7 521.2h0M1307.7 498.3h0M1340.0 467.7h0M1380.9 633.1h0M1475.3 561.6h0M1368.0 672.1h0M1517.3 473.5h0M1361.0 638.4h0M1508.7 828.1h0M1422.8 480.3h0M1504.6 496.1h0M1084.2 623.6h0M852.4 312.5h0M1430.2 821.4h0M1413.7 740.2h0M1459.9 509.2h0M1198.5 541.4h0M1106.7 453.9h0M1620.6 695.1h0M809.6 471.8h0M1316.1 777.8h0M832.4 261.0h0M1180.2 391.9h0M1510.6 589.4h0M1123.4 1213.2h0M830.4 497.2h0M1204.9 421.4h0M1091.2 419.7h0M1175.7 594.1h0M683.6 470.8h0M866.4 314.6h0M1232.9 372.3h0M1261.9 428.2h0M871.8 385.7h0M1340.4 553.2h0M1118.4 380.4h0M1202.2 354.0h0M1121.1 611.5h0M1313.7 460.2h0M874.1 312.8h0M1157.7 781.4h0M888.4 254.7h0M1269.5 806.3h0M1234.3 588.6h0M1322.5 673.3h0M1357.6 500.6h0M1249.6 462.4h0M1370.6 553.7h0M1580.6 722.6h0M1499.8 833.8h0M1264.8 574.0h0M1433.1 592.1h0M1256.8 376.7h0M1360.3 574.7h0M800.3 297.8h0M1476.6 463.5h0M1446.2 819.0h0M1265.0 747.0h0M1215.6 385.4h0M1210.3 343.8h0M889.5 248.8h0M828.7 374.9h0M1095.6 488.2h0M1257.5 519.5h0M1078.4 349.5h0M1234.8 601.5h0M1165.8 798.8h0M1140.0 444.2h0M1441.7 813.4h0M1169.5 601.6h0M883.6 306.4h0M913.8 331.5h0M1470.4 505.7h0M1027.6 1109.4h0M1278.9 457.9h0M1132.0 569.2h0M1172.9 651.7h0M699.5 469.6h0M1248.7 691.5h0M1485.9 832.6h0M1188.6 772.7h0M1316.0 503.7h0M1177.1 732.1h0M1504.3 435.7h0M1119.5 1128.3h0M1509.0 540.4h0M1525.4 499.3h0M1707.0 612.7h0M1459.4 510.4h0M1200.5 616.3h0M1517.1 488.4h0M1698.7 637.2h0M985.0 1134.1h0M1058.0 500.9h0M1041.7 1163.0h0M1096.0 560.7h0M1273.4 476.6h0M1057.4 1150.7h0M858.7 501.0h0M1486.7 839.2h0M799.8 282.2h0M1162.5 330.9h0M1046.6 1109.1h0M1056.0 521.3h0M1464.0 461.1h0M797.0 472.7h0M1027.6 577.4h0M1249.1 586.5h0M1326.6 541.5h0M1367.5 597.8h0M864.9 223.7h0M1303.8 851.4h0M1346.9 565.2h0M1237.6 575.5h0M1113.8 377.0h0M1452.1 423.6h0M1270.4 717.5h0M1088.5 1187.3h0M1405.0 701.5h0M1132.5 458.2h0M1263.1 712.0h0M630.0 416.5h0M985.0 1125.1h0M1399.9 750.4h0M1270.5 376.2h0M1267.0 756.0h0M1080.0 483.6h0M1102.3 1101.3h0M1079.6 361.2h0M1474.3 834.5h0M1308.1 428.4h0M1467.0 399.6h0M1453.7 554.5h0M1481.0 529.0h0M1187.0 431.2h0M1160.8 526.3h0M1351.1 564.6h0M1471.9 844.1h0M1230.9 626.0h0M1312.9 421.4h0M1083.8 581.9h0M1302.9 831.4h0M1340.8 525.6h0M1593.9 654.1h0M1412.8 840.5h0M1226.0 515.6h0M1466.6 397.1h0M880.0 404.1h0M1134.8 556.4h0M1088.7 559.6h0M1075.3 1147.2h0M1068.5 1102.3h0M1227.4 594.4h0M1488.8 914.4h0M634.1 416.3h0M1057.4 557.3h0M838.5 468.2h0M1391.7 558.6h0M1077.7 361.9h0M1299.2 393.3h0M1347.9 558.1h0M1194.0 679.6h0M1319.1 510.0h0M1502.5 445.3h0M1131.0 543.5h0M992.2 1086.9h0M1120.3 350.5h0M1080.9 525.0h0M1501.5 474.8h0M1371.7 783.8h0M1379.0 612.3h0M1105.0 1188.2h0M1521.2 886.8h0M1521.6 508.3h0M1019.7 1131.1h0M1278.2 508.5h0M1151.9 340.3h0M1451.2 878.5h0M1269.8 742.5h0M1330.1 490.1h0M1136.6 610.4h0M1225.7 386.7h0M924.0 255.7h0M1279.9 815.9h0M1324.2 547.6h0M1031.5 577.0h0M1355.3 556.6h0M1303.3 473.2h0M1382.1 523.3h0M840.9 229.8h0M1398.2 725.7h0M772.0 269.4h0M1098.8 642.0h0M1273.2 605.2h0M1519.8 708.7h0M1444.9 899.8h0M1304.3 502.4h0M1704.5 651.5h0M1524.7 453.1h0M1181.4 424.3h0M1338.6 546.9h0M1652.2 620.7h0M1101.5 534.1h0M1320.0 839.9h0M1300.1 386.9h0M1540.7 504.7h0M934.3 318.0h0M1489.5 810.2h0M1374.2 613.5h0M1268.1 776.3h0M1108.2 408.3h0M1446.7 479.1h0M1309.1 557.2h0M1062.2 550.8h0M1011.6 1137.7h0M1268.4 776.9h0M696.0 471.4h0M1478.3 886.3h0M1469.6 738.4h0M1255.1 343.9h0M1175.3 563.8h0M1498.6 916.5h0M1463.5 607.9h0M1187.3 410.9h0M1456.3 867.6h0M1406.4 702.4h0M1424.7 833.5h0M1349.8 560.9h0M1358.0 569.7h0M1349.6 467.3h0M1228.1 365.3h0M1237.3 372.2h0M1455.6 796.6h0M923.6 288.4h0M817.7 457.0h0M1492.5 497.0h0M1472.1 849.6h0M1345.7 701.2h0M1470.9 482.6h0M869.2 324.1h0M1363.9 551.6h0M1148.0 352.5h0M1166.4 365.0h0M1412.9 837.8h0M1527.5 689.1h0M1425.2 681.0h0M1459.1 805.7h0M1262.6 507.8h0" stroke="#020206"/>
<path d="M1153.1 597.3h0M840.2 352.0h0M896.8 241.2h0M1448.6 809.0h0M1397.5 485.4h0M1254.9 562.9h0M897.9 260.9h0M1571.4 745.3h0M1643.2 631.2h0M945.0 271.7h0M1630.0 657.8h0M853.5 381.5h0M969.8 1103.4h0M940.0 229.9h0M1491.5 901.6h0M1705.0 685.6h0M1472.5 795.0h0M1416.1 494.8h0M1374.2 494.1h0M1074.3 605.9h0M1072.5 1115.5h0M1147.7 427.3h0M791.1 258.1h0M825.0 276.6h0M1249.3 825.9h0M1481.8 516.8h0M1533.1 493.7h0M680.8 472.6h0M842.2 463.8h0M1268.5 438.0h0M1466.6 599.4h0M1244.3 512.4h0M921.2 299.6h0M1397.9 599.4h0M1537.9 513.7h0M892.4 233.6h0M855.6 510.6h0M1155.9 814.7h0M1387.7 526.5h0M1322.3 692.9h0M1532.2 558.0h0M1124.8 519.5h0M791.4 436.1h0M808.9 247.1h0M1297.6 623.7h0M1439.0 847.6h0M874.4 311.9h0M844.4 316.0h0M902.1 294.6h0M1202.9 547.5h0M1174.4 438.3h0M680.8 391.7h0M905.1 293.6h0M1425.8 701.9h0M979.2 1107.9h0M1399.3 528.4h0M1342.4 485.7h0M1517.2 862.5h0M1236.0 383.3h0M1124.2 1101.3h0M1007.5 1115.5h0M1173.4 595.7h0M809.7 294.8h0M1134.5 662.5h0M979.1 248.5h0M1335.1 800.8h0M888.9 265.4h0M1273.4 497.7h0M1272.4 786.1h0M1352.8 557.8h0M1444.3 418.7h0M1507.0 880.1h0M1195.4 798.2h0M1130.6 593.8h0M858.6 491.2h0M664.4 459.9h0M1299.9 389.0h0M846.3 245.8h0M1034.0 573.5h0M837.3 351.8h0M891.9 309.3h0M1404.5 589.7h0M1198.2 840.8h0M1180.7 617.8h0M1299.5 456.7h0M616.3 395.3h0M1599.6 642.4h0M1504.2 880.8h0M1422.2 836.6h0M1331.7 444.9h0M854.0 303.0h0M1426.5 620.1h0M1303.6 782.7h0M1329.2 545.1h0M791.2 275.3h0M1204.7 555.7h0M1067.2 1169.8h0M807.7 487.5h0M1206.4 584.1h0M1311.7 736.7h0M863.7 230.6h0M1517.4 449.9h0M1350.6 717.7h0M1363.2 559.3h0M1595.0 687.5h0M773.7 299.0h0M1485.2 840.2h0M1281.3 781.3h0M824.0 450.8h0M1283.7 588.5h0M1707.3 671.0h0M1492.6 925.4h0M1258.3 364.7h0M1264.5 770.6h0M1226.4 369.3h0M1435.4 892.7h0M861.7 290.9h0M1688.1 608.1h0M790.4 455.9h0M1325.3 786.2h0M1624.0 718.0h0M1526.4 863.5h0M1381.4 457.7h0M1491.4 849.6h0M1149.2 667.7h0M1517.2 515.0h0M1341.6 478.9h0M1237.8 479.7h0M892.0 277.6h0M839.5 233.3h0M1136.2 1179.3h0M1459.2 490.0h0M1098.9 584.7h0M1343.5 492.0h0M927.8 270.3h0M1259.4 524.5h0M1388.7 690.0h0M890.2 223.3h0M1274.4 620.2h0M808.7 282.0h0M1173.0 521.2h0M1147.7 423.9h0M1611.8 711.9h0M1398.7 811.1h0M1039.2 1130.0h0M1326.8 845.6h0M655.3 445.7h0M791.6 248.6h0M799.4 283.1h0M862.2 395.4h0M768.4 341.3h0M1704.4 647.1h0M950.0 271.9h0M843.1 303.1h0M1589.6 678.1h0M1028.4 1090.8h0M1266.3 500.7h0M1142.9 630.1h0M1463.5 900.0h0M1688.5 609.2h0M1525.8 524.5h0M1094.9 369.2h0M1265.0 470.8h0M1548.5 716.7h0M1392.5 713.2h0M852.6 503.5h0M843.3 243.4h0M944.4 302.5h0M1079.8 1167.2h0M1063.6 1101.2h0M1482.7 825.8h0M1093.1 1114.9h0M804.1 231.9h0M842.2 499.9h0M807.6 516.0h0M1500.2 580.9h0M995.6 1103.1h0M1175.5 595.9h0M1677.9 663.6h0M1454.6 795.2h0M1258.3 755.6h0M1213.3 611.1h0M1194.2 513.6h0M1424.8 566.6h0M1253.7 522.4h0M1363.0 684.8h0M847.3 500.5h0M1220.0 623.4h0M1103.5 1126.9h0M1614.8 714.3h0M1665.2 645.2h0M1428.0 885.4h0M768.4 480.0h0M1489.2 899.2h0M866.1 303.1h0M1138.4 1110.7h0M1213.0 687.7h0M817.5 353.9h0M1313.3 620.2h0M1700.9 681.5h0M914.0 278.1h0M900.0 298.1h0M934.7 240.9h0M1352.4 473.7h0M1583.1 713.2h0M886.4 387.3h0M1522.5 832.4h0M1384.3 691.5h0M1150.9 488.3h0M1672.4 688.5h0M1278.4 613.8h0M1365.8 635.5h0M1356.9 592.6h0M1085.8 395.2h0M1526.4 564.7h0M1345.0 845.0h0M1072.6 406.8h0M1513.8 859.0h0M1219.8 693.0h0M1277.0 700.5h0M1428.0 874.8h0M1238.9 490.6h0M842.6 310.2h0M1607.3 715.4h0M1382.7 608.5h0M1494.4 589.8h0M1666.1 703.3h0M1444.3 400.6h0M1268.5 553.5h0M1359.3 533.8h0M865.2 356.7h0M1480.1 528.1h0M1276.2 531.8h0M1496.7 499.3h0M799.1 253.3h0M839.5 468.1h0M1154.3 597.1h0M1517.1 518.1h0M1459.9 814.9h0M1231.8 370.0h0M1194.3 596.4h0M1409.0 806.8h0M1225.7 350.8h0M998.9 1122.5h0M1712.2 669.4h0M1522.8 883.8h0M944.4 278.0h0M1431.6 435.2h0M1185.9 771.0h0M1078.2 597.4h0M856.9 223.3h0M975.8 314.8h0M1201.1 581.8h0M1091.7 1135.3h0M1691.9 623.5h0M1489.1 475.9h0M1103.4 502.7h0M1404.8 705.1h0M1342.5 579.8h0M834.2 516.0h0M1668.9 633.2h0M1256.2 456.3h0M1071.7 586.2h0M1417.6 903.0h0M1382.8 726.2h0M824.6 292.1h0M837.1 478.2h0M1189.0 594.9h0M1338.7 489.7h0M646.8 458.0h0M1119.5 565.0h0M1333.2 798.2h0M1028.7 513.3h0M1174.6 834.2h0M1496.1 605.8h0M1328.7 542.5h0M834.2 297.8h0M898.3 222.4h0M1520.3 868.5h0M857.8 288.7h0M1234.9 694.2h0M1185.2 576.8h0M1552.0 745.2h0M1499.6 587.4h0M862.8 391.0h0M1211.6 638.5h0M887.7 259.1h0M1713.6 671.4h0M1104.1 552.6h0M1517.7 447.5h0M975.4 236.7h0M1385.8 605.7h0M1119.1 638.3h0M1238.5 359.3h0M1325.0 581.5h0M785.2 463.0h0M920.7 275.3h0M1277.1 510.8h0M1456.0 553.5h0M862.2 301.2h0M870.0 356.0h0M1069.8 1156.7h0M1032.4 533.0h0M845.1 388.9h0M818.4 520.5h0M1174.8 440.9h0M1559.4 733.1h0M1132.8 442.9h0M1293.9 714.5h0M821.3 255.7h0M1097.0 1198.6h0M859.7 341.9h0M1527.4 713.2h0M1214.2 388.8h0M1320.3 662.4h0M1072.8 403.2h0M1411.3 837.1h0M1191.4 362.5h0M1187.2 803.4h0M1185.6 812.2h0M946.5 272.3h0M1194.3 644.9h0M793.9 278.1h0M1345.1 843.6h0M1140.3 1192.4h0M803.2 471.0h0M1219.0 662.1h0M1608.6 726.4h0M1121.0 641.1h0M870.2 276.9h0M1600.4 686.3h0M938.5 284.3h0M804.5 505.8h0M1401.2 470.6h0M871.9 260.8h0M1255.2 570.6h0M843.5 234.9h0M841.1 223.9h0M903.2 310.6h0M824.4 466.3h0M1115.6 568.0h0M1111.9 639.9h0M1523.9 728.5h0M824.9 234.3h0M762.2 274.0h0M1493.2 931.3h0M1385.7 685.9h0M784.4 444.6h0M1351.2 490.8h0M1550.4 729.9h0M1675.4 698.6h0M1456.8 842.7h0M1502.4 739.2h0M1347.1 458.7h0M1543.4 688.4h0M1259.1 415.0h0M1373.3 518.5h0M1296.0 704.7h0M1333.0 645.0h0M1202.2 767.6h0M1177.9 554.6h0M848.8 274.7h0M1274.1 513.3h0M1185.7 693.3h0M795.5 248.9h0M1141.3 1122.5h0M1314.8 563.7h0M1368.8 526.0h0M1008.8 1137.7h0M1485.2 900.3h0M1238.7 834.4h0M1191.6 611.3h0M1502.1 459.8h0M812.4 230.2h0M843.9 301.9h0M1243.0 692.3h0M1185.7 807.6h0M1582.8 652.6h0M1523.3 567.1h0M1067.0 342.0h0M1469.8 845.6h0M838.6 495.1h0M1148.1 500.6h0M1163.5 759.0h0M889.4 315.7h0M1161.5 398.6h0M1314.1 809.5h0M1396.0 495.1h0M1178.2 495.9h0M1406.6 470.9h0M1117.0 658.2h0M1687.1 665.8h0M1278.4 457.9h0M1400.0 714.5h0M1276.6 568.4h0M1691.4 620.1h0M1700.9 652.2h0M1194.9 349.2h0M1317.5 524.9h0M814.0 382.8h0M1173.5 632.2h0M1608.4 691.7h0M1323.2 436.7h0M874.1 335.4h0M1441.4 807.8h0M1525.6 474.5h0M1271.5 607.7h0M1391.1 526.8h0M1206.4 682.7h0M771.5 274.0h0M881.7 271.0h0M1107.4 542.5h0M807.1 511.8h0M801.0 514.3h0M831.4 317.0h0M1602.3 687.6h0M1122.0 1212.6h0M636.2 413.0h0M1475.3 828.8h0M1073.1 588.3h0M676.9 393.9h0M1274.9 735.0h0M1394.2 594.6h0M1479.9 872.5h0M1476.1 406.6h0M1175.1 370.1h0M1639.7 647.5h0M1364.7 602.1h0M1127.2 634.9h0M1443.4 821.3h0M1513.8 447.9h0M1203.0 370.0h0M1159.4 630.1h0M631.4 449.0h0M1190.4 400.9h0M1537.1 509.6h0M1678.6 588.5h0M1194.5 797.6h0M941.3 243.8h0M1359.3 514.6h0M1058.5 1116.3h0M1541.6 712.7h0M1361.8 751.3h0M1142.3 586.3h0M1324.9 847.9h0M1342.4 752.0h0M1534.8 563.7h0M1370.2 546.4h0M853.0 366.5h0M1337.2 572.1h0M837.3 262.5h0M819.7 300.9h0M942.0 233.3h0M793.3 310.6h0M858.3 257.4h0M951.7 250.9h0M918.2 250.2h0M790.1 449.7h0M1035.6 1168.5h0M1500.2 735.4h0M1225.3 457.5h0M864.6 490.6h0M892.0 258.6h0M1077.7 343.2h0M1070.1 1176.9h0M1406.0 455.2h0M1444.3 521.8h0M1265.3 503.3h0M1213.6 797.9h0M1375.1 551.3h0M1108.2 609.2h0M1169.2 595.3h0M1140.8 597.2h0M1261.3 789.7h0M1150.4 780.9h0M1570.0 729.7h0M1518.1 502.3h0M1539.7 496.8h0M1650.0 628.7h0M1324.9 670.4h0M1240.4 388.2h0M630.5 442.8h0M1049.1 1148.6h0M1076.1 1163.1h0M1583.4 737.9h0M1414.7 548.9h0M1038.5 561.2h0M1269.3 398.6h0M1008.1 1151.1h0M1159.0 712.2h0M1152.0 531.7h0M1280.2 642.6h0M1200.5 819.0h0M1205.6 584.2h0M852.7 465.5h0M1424.3 694.8h0M1468.4 817.1h0M1098.0 352.4h0M1454.5 872.7h0M778.9 260.9h0M870.7 243.5h0M1355.9 490.3h0M1296.6 497.5h0M1487.5 485.1h0M1484.0 490.9h0M1329.6 492.0h0M1381.7 735.0h0M1025.1 573.9h0M847.2 330.0h0M887.3 511.6h0M1393.4 740.3h0M1484.4 888.3h0M1633.6 665.3h0M1278.6 590.2h0M1194.0 584.2h0M1241.5 423.2h0M1379.6 775.2h0M767.7 289.6h0M1259.8 513.5h0M1190.9 547.7h0M1502.6 569.0h0M1537.9 536.1h0M938.3 249.8h0M1487.4 535.1h0M905.5 303.8h0M1336.6 612.9h0M1487.9 501.5h0M1425.9 889.0h0M915.7 324.7h0M1489.7 522.7h0M1230.3 627.8h0M1517.2 884.2h0M647.0 441.1h0M816.6 236.6h0M776.2 257.8h0M1453.8 708.4h0M1217.1 416.0h0M1353.6 614.5h0M867.8 272.6h0M1316.8 440.6h0M832.1 283.8h0M1297.2 564.8h0M959.6 257.0h0M1127.4 1112.3h0M1213.0 424.9h0M1277.9 769.9h0M1358.4 551.8h0M1114.0 417.9h0M798.5 299.4h0M956.2 265.5h0M1103.3 516.3h0M1160.5 394.1h0M971.0 1101.3h0M1382.9 839.8h0M1538.1 702.0h0M804.2 507.8h0M871.4 237.9h0M646.4 405.5h0M1669.3 666.4h0M1106.7 1140.0h0M1308.8 492.1h0M1458.5 830.9h0M1132.6 801.1h0M682.3 475.1h0M1395.7 677.3h0M1206.5 373.8h0M1049.0 566.8h0M1515.6 743.1h0M860.8 382.2h0M1400.5 469.4h0M1419.5 843.6h0M1695.0 630.7h0M1531.5 475.9h0M1537.9 550.2h0M1046.7 539.1h0M1200.0 456.1h0M1369.5 583.0h0M1621.6 712.7h0M928.1 274.6h0M1509.5 492.5h0M776.7 451.4h0M1621.7 692.5h0M927.1 296.9h0M1649.4 632.8h0M1318.1 578.3h0M1185.0 666.5h0M1202.4 581.8h0M1370.1 682.7h0M1186.5 351.4h0M1226.0 588.6h0M1536.6 507.9h0M931.5 237.4h0M1170.1 595.4h0M1210.0 856.4h0M1361.4 655.5h0M1199.4 595.0h0M1511.3 509.6h0M1057.9 1108.9h0M820.4 430.8h0M1596.2 738.6h0M1520.4 895.3h0M1687.9 604.3h0M1308.1 474.7h0M1096.8 410.5h0M1194.2 835.6h0M1673.3 630.9h0M1196.9 820.7h0M1433.6 834.6h0M1076.4 1102.9h0M1229.5 686.2h0M919.7 279.6h0M1201.6 356.7h0M1445.7 870.1h0M864.8 244.1h0M1504.1 705.1h0M1624.6 663.7h0M1357.0 648.9h0M1276.6 606.9h0M1607.8 691.4h0M890.0 262.9h0M1614.9 682.8h0M868.4 333.8h0M803.4 254.3h0M1163.7 417.7h0M1173.8 367.1h0M1194.8 690.0h0M929.4 295.7h0M807.4 361.3h0M1147.7 414.8h0M1534.6 688.8h0M1475.4 537.5h0M838.4 500.1h0M1305.6 766.1h0M1267.2 514.7h0M1242.6 550.1h0M1375.7 527.6h0M1091.3 363.0h0M1377.4 498.4h0M850.1 273.7h0M1305.3 579.4h0M1425.8 870.3h0M830.7 291.9h0M1491.5 806.3h0M1708.9 684.6h0M821.0 308.6h0M953.2 238.0h0M837.0 345.5h0M972.5 332.9h0M1649.8 700.0h0M1204.4 816.9h0M1283.0 755.2h0M1244.5 813.9h0M957.6 260.8h0M1509.4 740.9h0M1072.5 601.7h0M760.5 346.3h0M1690.1 609.2h0M789.9 281.7h0M842.3 341.8h0M1292.4 417.1h0M1111.7 1152.0h0M1141.6 341.6h0M926.6 253.7h0M697.6 472.6h0M1141.1 619.8h0M1198.4 598.0h0M1359.0 795.4h0M1235.6 496.8h0M891.7 247.9h0M820.9 238.3h0M1466.9 482.6h0M1399.9 746.8h0M1378.5 630.5h0M1486.4 899.5h0M870.1 310.6h0M1102.2 376.9h0M842.4 487.3h0M1336.5 798.4h0M1440.1 812.4h0M1071.0 377.8h0M999.9 1107.0h0M1542.4 526.3h0M1106.5 1207.7h0M763.8 269.4h0M1202.6 583.6h0M1451.7 791.5h0M1071.5 544.7h0M1698.1 683.1h0M1244.2 684.6h0M858.0 315.5h0M864.4 253.1h0M850.6 323.0h0M1069.2 1102.6h0M826.3 443.5h0M1345.4 843.4h0M954.3 231.8h0M1458.3 587.3h0M1191.8 834.6h0M1205.8 377.1h0M824.2 501.6h0M768.2 277.5h0M1068.6 361.9h0M871.1 348.4h0M1104.8 564.1h0M852.4 319.9h0M1602.1 636.5h0M1385.8 507.1h0M1438.4 399.9h0M1111.2 366.7h0M1188.4 484.5h0M1150.9 781.2h0M1123.7 1158.5h0M1278.7 850.0h0M1576.1 708.4h0M1149.6 1122.3h0M1175.0 613.1h0M1573.9 714.8h0M860.0 376.0h0M1144.7 1114.2h0M1553.2 676.5h0M848.4 265.1h0M1311.5 749.5h0M775.2 440.5h0M955.8 249.6h0M1362.1 563.5h0M1437.8 820.9h0M1221.6 712.9h0M1155.5 658.1h0M1691.3 643.1h0M895.8 256.9h0M1708.3 672.7h0M1323.5 516.2h0M1000.7 1108.2h0M1609.0 704.1h0M852.5 339.2h0M1026.0 544.7h0M1315.6 423.8h0M1199.4 442.8h0M1177.3 579.9h0M814.9 230.2h0M1615.3 670.5h0M639.0 376.8h0M1071.0 595.3h0M1513.3 859.8h0M821.3 248.4h0M1448.4 796.8h0M1207.3 622.3h0M1351.3 516.4h0M1336.7 508.2h0M1423.0 892.7h0M1466.5 523.1h0M649.4 383.0h0M1097.6 1202.9h0M1257.9 517.5h0M1033.9 571.7h0M1089.5 1164.9h0M876.5 257.2h0M1151.6 589.0h0M1241.9 682.4h0M1561.1 676.3h0M1160.4 595.1h0M1089.2 1138.7h0M1000.4 1158.7h0M1616.7 683.9h0M1070.6 354.5h0M1206.9 793.0h0M983.7 319.1h0M807.4 351.5h0M1086.6 1171.7h0M1678.0 659.3h0M1187.0 628.5h0M781.3 444.2h0M1264.3 700.4h0M684.2 474.9h0M1240.7 404.2h0M795.3 310.5h0M1279.9 850.2h0M1358.2 641.1h0M1341.3 593.4h0M1114.9 1205.9h0M938.3 304.6h0M1036.7 520.7h0M1480.3 910.6h0M1466.2 845.4h0M1071.7 1125.2h0M859.4 467.3h0M1245.3 794.7h0M1416.5 543.4h0M1661.4 657.9h0M1698.3 633.8h0M1056.3 1138.7h0M1218.3 374.5h0M823.5 245.4h0M1642.2 652.1h0M1283.1 459.2h0M1123.0 455.0h0M888.5 398.2h0M807.5 227.3h0M1367.4 598.4h0" stroke="#8a2a86"/>
<path d="M1207.6 360.8h0M849.7 247.3h0M922.5 267.7h0M1659.5 652.9h0M941.7 293.0h0M1176.4 637.5h0M1343.7 570.5h0M1350.6 500.2h0M1312.8 576.0h0M850.3 270.5h0M1293.0 572.4h0M1328.7 798.6h0M1320.5 608.7h0M1228.0 419.3h0M876.9 323.0h0M969.5 1098.4h0M1290.3 601.4h0M1165.8 789.8h0M1494.3 904.2h0M867.1 326.6h0M1275.9 399.7h0M906.8 278.1h0M1207.4 551.9h0M1680.6 646.8h0M878.0 353.5h0M1380.4 466.4h0M1329.7 846.4h0M1265.6 561.4h0M1124.3 561.3h0M1366.4 616.8h0M1262.9 366.0h0M861.9 361.2h0M1387.7 528.6h0M1338.9 845.1h0M1348.4 561.8h0M974.0 257.5h0M1287.0 738.5h0M1094.3 495.3h0M1361.8 511.6h0M904.4 301.8h0M1251.4 512.2h0M1479.6 429.2h0M1501.2 733.4h0M695.8 476.1h0M1276.3 454.3h0M1533.6 551.1h0M1412.9 535.8h0M1310.8 511.2h0M1497.2 837.1h0M793.4 256.2h0M1094.7 580.3h0M1300.2 543.2h0M923.2 242.1h0M1373.9 541.2h0M1511.5 532.7h0M1350.7 596.5h0M1316.5 571.0h0M1161.8 588.8h0M1151.0 1126.0h0M1269.3 489.7h0M1179.3 438.6h0M1238.1 389.5h0M1085.8 1130.2h0M1471.3 842.0h0M772.0 484.8h0M789.5 297.9h0M683.2 481.2h0M1393.7 789.4h0M1357.9 547.1h0M1156.6 604.4h0M1185.1 356.6h0M854.6 305.9h0M817.2 352.1h0M1251.7 384.4h0M1267.9 426.6h0M1079.2 514.0h0M1217.8 364.7h0M1296.9 368.9h0M1185.7 542.7h0M1463.9 824.9h0M989.6 239.4h0M789.9 264.0h0M1301.0 505.5h0M852.5 297.9h0M909.1 219.0h0M1057.9 1149.1h0M1206.8 394.9h0" stroke="#e34f66"/>
<path d="M1225.4 608.0h0M848.4 265.9h0M1424.2 828.2h0" stroke="#fd9b6b"/>
<path d="M1084.5 621.5h0M1172.2 393.7h0M1219.7 454.2h0M1480.3 423.3h0M994.8 1128.9h0M1390.4 759.5h0M1519.2 684.2h0M1180.7 599.4h0M1111.1 574.8h0M1207.1 363.7h0M1448.8 595.7h0M1276.9 806.9h0M892.0 230.1h0M1348.3 560.6h0M1135.9 502.4h0M1349.8 484.6h0M858.8 386.8h0M852.8 259.3h0M1505.3 885.3h0M885.4 327.3h0M1055.1 1136.3h0M866.3 331.1h0M1384.0 784.2h0M1319.3 494.8h0M1380.3 665.5h0M1199.8 630.4h0M959.4 240.7h0M1252.8 436.3h0M1260.0 449.7h0M1553.4 727.0h0M1708.7 670.2h0M1702.1 657.1h0M825.5 506.5h0M1226.2 669.7h0M1337.7 486.9h0M1466.5 597.5h0M843.7 273.6h0M1363.4 736.4h0M1369.0 554.4h0M1445.2 821.7h0M977.7 283.2h0M1319.2 547.2h0M1204.3 418.7h0M1363.8 626.4h0M889.9 295.3h0M1242.2 696.1h0M1413.4 542.1h0M1672.6 690.3h0M1185.2 773.8h0M823.5 242.7h0M655.0 381.6h0M1574.2 707.9h0M1058.7 1156.0h0M1174.9 802.7h0M1108.8 604.7h0M828.8 368.4h0M1095.5 633.3h0M1201.1 417.1h0M1532.6 746.4h0M1230.2 620.2h0M1310.4 756.6h0M1158.7 805.4h0M1110.9 1126.8h0M683.8 388.9h0M1167.8 760.2h0M882.0 306.6h0M1166.1 831.7h0M1274.6 520.7h0M1593.7 642.4h0M1200.4 798.7h0M923.3 290.2h0M1260.8 528.4h0M982.2 245.0h0M1146.1 811.3h0M1350.6 543.4h0M1052.7 1120.1h0M1332.7 615.6h0M1423.8 839.1h0M1405.4 599.3h0M1012.5 1117.7h0M1342.7 543.9h0M1434.7 891.6h0M1388.6 707.1h0M1347.2 486.4h0M1298.6 621.7h0M1157.4 814.1h0M1312.1 763.1h0M1463.4 826.7h0M1169.0 370.5h0M1223.1 514.6h0M1642.4 605.1h0M1521.2 712.9h0M1395.0 608.2h0M915.9 320.0h0M1206.0 705.6h0M1699.4 678.5h0M1545.4 704.6h0M1331.7 522.0h0M1441.1 837.5h0M1025.1 544.8h0M1265.2 390.9h0M1280.6 367.7h0M1039.4 1155.5h0M1525.3 517.1h0M1365.5 620.1h0M1118.0 487.4h0M1366.8 667.0h0M1511.6 861.0h0M791.9 257.2h0M808.9 286.5h0M1214.8 413.8h0M1262.3 611.0h0M1117.1 598.7h0M1322.6 465.9h0M1472.2 465.6h0M1346.8 567.7h0M1362.3 461.5h0M1386.8 584.7h0M1174.8 492.7h0M1338.1 708.2h0M1311.3 567.7h0M1379.6 688.6h0M776.8 510.8h0M1288.6 426.3h0M779.2 259.6h0M1068.6 1168.6h0M1121.9 492.0h0M1397.8 724.5h0M1275.8 493.8h0M1454.7 543.8h0M1405.6 483.1h0M1232.4 577.1h0M869.9 302.9h0M1523.9 571.6h0M1208.4 383.1h0M1674.4 671.0h0M1519.4 477.6h0M1037.3 1133.9h0M1458.4 494.1h0M1069.8 519.8h0M1258.9 407.1h0M1402.9 479.6h0M1691.0 606.4h0M1152.7 336.5h0M855.0 295.5h0M1470.3 561.0h0M1189.0 668.1h0M977.2 1140.9h0M1377.2 608.7h0M1287.6 533.0h0M1152.0 600.3h0M818.0 466.5h0M1107.4 1209.4h0M1218.4 811.4h0M1101.4 1210.9h0M1154.5 523.8h0M1382.3 689.7h0M1083.9 428.7h0M1159.2 622.9h0M1357.0 550.6h0M1222.7 814.5h0M1425.9 858.1h0M883.3 330.9h0M1638.4 606.4h0M1497.7 605.8h0M982.7 313.4h0M1249.5 617.4h0M1415.5 513.6h0M1247.0 415.2h0M1177.3 820.1h0M817.5 299.5h0M1422.0 526.2h0M1447.6 388.1h0M860.0 307.0h0M1410.9 823.7h0M903.4 285.0h0M1434.6 470.2h0M1313.5 843.3h0M1481.9 471.3h0M896.2 266.7h0M1337.9 560.5h0M1485.6 521.3h0M1261.1 423.4h0M1486.3 463.1h0M1099.9 377.5h0M793.4 261.1h0M1342.2 551.1h0M1205.4 804.9h0M955.2 236.2h0M1184.2 827.8h0M1353.2 725.5h0M1300.7 381.6h0M1337.3 727.1h0M1378.3 689.5h0M1089.7 541.9h0M1194.5 614.1h0M765.2 291.6h0M1488.8 915.7h0M1280.6 522.4h0M1460.5 511.7h0M1168.4 525.1h0M919.1 329.0h0M1417.1 575.3h0M1380.0 512.7h0M1136.3 608.3h0M1681.3 697.2h0M1698.6 585.6h0M1470.9 878.1h0M1174.3 572.3h0M1700.5 631.3h0M1375.0 455.8h0M841.9 322.3h0M1225.7 650.1h0M1632.1 677.5h0M1500.9 563.3h0M1462.4 825.1h0M1226.0 580.2h0M1154.7 616.9h0M930.7 229.3h0M1268.1 471.3h0M1362.3 580.4h0M1403.7 476.5h0M771.8 280.9h0M1149.4 605.7h0M1277.0 776.6h0M1298.2 514.3h0M1412.1 724.9h0M1206.3 823.3h0M1264.4 458.1h0M825.9 244.9h0M1657.4 609.5h0M1280.2 373.8h0M1283.0 414.1h0M1200.6 650.4h0M780.7 284.0h0M1156.5 819.1h0M1122.2 553.6h0M1313.1 740.9h0M1232.3 705.3h0M1284.2 516.4h0M1701.0 674.4h0M646.8 376.0h0M1124.2 1179.2h0M1479.8 588.0h0M1417.6 527.4h0M1082.7 1157.3h0M978.2 284.7h0M1412.7 794.9h0M1309.2 575.4h0M1487.3 608.2h0M1074.7 571.6h0M1508.7 832.4h0M1386.0 536.4h0M1141.6 532.0h0M1069.3 485.6h0M1215.8 789.7h0M1343.3 558.3h0M1537.3 489.1h0M1150.0 577.6h0M639.4 400.2h0M1520.4 713.4h0M1360.2 649.8h0M1077.9 410.6h0M1697.1 645.8h0M1442.8 523.6h0M661.9 392.1h0M1198.2 572.3h0M1322.1 424.9h0M1495.1 920.4h0M1137.4 498.9h0M776.8 274.8h0M1379.1 519.2h0M1264.8 494.7h0M815.0 443.8h0M1636.9 672.8h0M869.7 383.6h0M1208.7 665.0h0M1485.0 888.8h0M1345.6 610.1h0M1091.7 347.6h0M1449.1 892.2h0M1477.9 869.0h0M864.4 439.2h0M1184.3 639.4h0M914.6 320.3h0M931.8 309.0h0M1369.3 581.4h0M1336.4 490.5h0M1278.2 621.2h0M1100.1 1209.6h0M1091.9 604.1h0M852.3 487.3h0M1350.6 728.2h0M1263.3 480.8h0M631.7 409.5h0M616.9 382.6h0M1128.1 451.4h0M1384.7 722.2h0M1158.6 720.3h0M1578.6 654.9h0M1498.7 728.6h0M1209.8 445.0h0M1309.5 786.0h0M1429.3 552.4h0M1485.9 511.6h0M1608.5 667.7h0M1175.2 400.5h0M983.0 317.3h0M655.2 441.4h0M820.6 369.6h0M1056.7 485.3h0M1357.9 513.0h0M1676.6 706.4h0M1188.9 605.2h0M1590.1 732.6h0M1283.5 395.5h0M1347.6 706.8h0M775.8 291.1h0M1015.7 1095.9h0M1143.5 605.1h0M1049.9 535.2h0M1360.9 512.5h0M1391.1 447.5h0M1416.7 796.7h0M1194.2 697.0h0M1590.9 706.3h0M1416.4 826.2h0M819.2 466.4h0M1227.2 564.3h0M1505.0 834.7h0M982.8 246.8h0M1269.5 610.5h0M938.6 299.1h0M977.3 1101.0h0M1016.9 1101.7h0M1212.2 793.4h0M1171.5 564.4h0M1289.7 577.1h0M1096.1 604.0h0M778.0 331.2h0M1273.0 422.6h0M1264.2 846.9h0M1224.1 641.5h0M1408.3 623.3h0M875.6 341.1h0M1255.1 832.8h0M1202.6 686.3h0M1099.5 515.7h0M1295.1 762.1h0M1168.1 788.6h0M1511.6 501.7h0M1382.5 611.3h0M1179.5 794.8h0M1493.3 609.2h0M1322.5 664.4h0M1407.4 621.7h0M1101.3 619.0h0M1469.4 407.7h0M1130.1 513.7h0M1294.9 789.8h0M921.4 283.4h0M1316.5 588.5h0M959.3 235.2h0M1483.9 570.0h0M871.4 363.0h0M1215.4 367.3h0M999.5 1154.7h0M1365.5 599.2h0M1447.9 481.7h0M1261.2 550.4h0M1423.3 387.2h0M668.0 461.0h0M1302.4 488.8h0M1495.9 740.9h0M1377.9 609.3h0M1126.6 1117.4h0M1426.3 388.1h0M912.7 240.6h0M1176.7 534.6h0M1482.0 444.9h0M1492.9 843.0h0M1110.8 369.9h0M1064.4 554.7h0M1374.3 783.8h0M1362.7 610.3h0M1123.5 642.5h0M1205.0 362.1h0M1308.6 832.1h0M1134.7 1119.3h0M899.7 339.0h0M1234.7 451.0h0M1368.0 439.5h0M1366.7 565.7h0M1498.7 491.7h0M1351.6 564.0h0M1137.2 504.1h0M1118.8 415.1h0M648.5 425.5h0M1495.9 909.8h0M1461.2 400.9h0M1094.3 1149.7h0M1149.7 350.4h0M1221.1 376.3h0M1369.7 663.6h0M1471.2 450.0h0M929.4 280.1h0M1390.8 500.6h0M1269.9 486.7h0M1653.6 717.0h0M1185.7 336.3h0M1380.1 694.0h0M1160.4 823.6h0M1220.9 580.3h0M1175.9 695.9h0M1320.2 559.6h0M1578.0 705.4h0M1170.7 442.5h0M1487.5 420.2h0M1365.8 458.5h0M859.3 497.7h0M1285.1 459.2h0M1412.9 704.2h0M818.2 458.6h0M1330.4 610.7h0M817.0 284.3h0M1466.9 602.2h0M1313.2 505.6h0M1609.3 722.7h0M1309.1 524.8h0M1367.1 555.4h0M1314.5 553.9h0M1434.7 887.5h0M1026.4 567.1h0M1150.3 1114.8h0M1149.9 352.9h0M1183.1 431.9h0M1345.3 608.0h0M872.8 416.4h0M880.1 217.9h0M1659.2 709.4h0M1159.2 790.0h0M1286.6 492.3h0M1364.9 546.6h0M803.8 311.7h0M880.7 278.7h0M1372.4 500.8h0M1502.8 445.3h0M1435.2 817.0h0M1275.8 746.5h0M1113.4 614.6h0M837.9 382.9h0M1280.3 775.6h0M1289.4 545.4h0M1473.2 876.6h0M1273.5 816.7h0M933.6 246.7h0M1465.9 588.1h0M1343.6 443.5h0M1309.4 490.6h0M1359.8 604.6h0M1392.1 668.3h0M1508.0 540.8h0M1482.5 557.7h0M1471.8 822.4h0M1191.1 385.4h0M1386.4 617.4h0M1300.2 758.7h0M1246.2 520.8h0M1360.2 556.2h0M1007.6 1150.0h0M1513.3 535.4h0M1284.3 546.8h0M1279.2 405.5h0M1216.5 775.7h0M1131.4 1199.6h0M1678.3 681.0h0M1572.1 732.2h0M1414.9 827.9h0M1057.9 541.8h0M1484.6 433.4h0M1531.0 489.6h0M1184.0 388.4h0M1361.3 560.5h0M1384.4 517.7h0M1211.8 706.4h0M1196.5 387.2h0M1353.0 596.2h0M1074.6 1129.7h0M1157.2 769.9h0M1649.2 683.3h0M1439.0 900.8h0M1421.6 524.6h0M1239.2 416.2h0M1371.3 692.9h0M1508.5 887.6h0M959.6 279.7h0M1214.0 649.9h0M1377.4 784.2h0M1544.9 748.5h0M873.1 224.3h0M1173.7 623.4h0M1190.2 648.7h0M1455.8 532.8h0M1145.4 667.8h0M1426.7 387.3h0M1254.1 572.6h0M1496.8 742.1h0M1538.1 727.9h0M1355.7 590.6h0M1095.6 1173.9h0M1122.1 446.4h0M1401.9 555.3h0M1080.6 399.2h0M1333.9 575.9h0M1121.4 1170.0h0M1325.2 549.9h0M1493.3 457.1h0M1318.7 487.0h0M1124.7 1169.0h0M1111.0 401.0h0M1153.3 672.6h0M1127.4 1118.2h0M1027.6 577.6h0M1149.8 1119.2h0M849.4 256.0h0M1220.3 781.7h0M1539.1 558.1h0M1200.4 700.6h0M1058.5 1098.2h0M1521.1 711.1h0M1678.6 605.0h0M1344.0 568.4h0M1242.0 602.2h0M1131.7 405.6h0M1345.4 488.8h0M1106.1 1200.9h0M1472.8 868.1h0M1162.0 577.4h0M891.7 258.8h0M1333.9 526.4h0M1404.9 508.5h0M1163.8 614.9h0M1432.0 834.6h0M1430.9 427.2h0M1257.5 517.4h0M1246.6 821.1h0M1494.9 863.9h0M1180.3 360.7h0M1123.6 435.5h0M1296.8 712.2h0M1469.3 922.0h0M1498.2 836.4h0M1267.7 577.7h0M1178.7 658.7h0M1208.8 592.2h0M1199.1 625.4h0M1397.6 618.2h0M1474.6 510.4h0M1079.9 1103.6h0M1318.4 753.5h0M1126.6 1104.8h0M1644.9 640.4h0M1334.9 551.8h0M1317.7 471.1h0M1156.4 830.1h0M877.0 503.6h0M1135.0 334.9h0M1180.6 670.7h0M1355.2 441.4h0M1123.4 1106.2h0M1364.5 547.8h0M803.1 288.8h0M1034.9 355.2h0M1388.1 488.6h0M994.1 277.9h0M1696.4 698.1h0M1156.4 600.2h0M1600.8 681.3h0M1207.5 377.9h0M841.8 239.4h0M1479.9 808.3h0M1262.4 459.8h0M1108.8 588.0h0M1492.3 461.8h0M950.6 230.6h0M1450.0 890.5h0M1381.5 616.7h0M1244.1 699.3h0M1691.9 674.6h0M1148.0 339.6h0M1444.9 906.6h0M1172.7 381.4h0M1278.9 780.0h0M1076.6 1135.4h0M1108.9 510.1h0M864.8 265.8h0M1047.4 1132.3h0M1331.2 543.8h0M1255.1 353.8h0M1354.5 539.7h0M1104.6 1168.7h0M1510.6 443.8h0M1108.1 474.1h0M1458.3 426.0h0M1554.1 711.4h0M1368.9 741.2h0M1461.5 862.0h0M1251.5 547.3h0M1506.7 516.4h0M1311.6 596.6h0M1323.8 461.7h0M1430.3 890.7h0M1165.5 833.6h0M1194.2 830.8h0M783.3 438.7h0M1526.4 879.3h0M1059.3 583.5h0M1337.5 762.7h0M1228.0 626.6h0M1077.1 444.6h0M1118.9 400.8h0M1141.7 540.7h0M1374.1 698.2h0M1476.6 847.5h0M1265.2 760.8h0M1270.8 367.2h0M1199.6 598.2h0M798.1 512.7h0M1155.2 548.3h0M1129.1 559.6h0M1377.0 705.4h0M1378.6 739.9h0M1253.5 502.7h0M762.6 287.4h0M1480.0 840.4h0M865.2 322.4h0M1101.7 1100.3h0M1272.0 460.1h0M1171.5 462.5h0M728.8 441.6h0M774.6 453.7h0M1492.0 452.3h0M1254.4 593.5h0M810.0 466.6h0M1232.7 411.3h0M1316.8 575.8h0M1678.1 615.2h0M1277.0 378.0h0M1347.7 641.4h0M1485.3 518.1h0M1096.1 616.6h0M1362.5 711.2h0M1336.9 611.2h0M1092.6 395.2h0M1155.1 662.9h0M1538.2 561.8h0M1164.8 363.1h0M1527.0 543.0h0M1341.9 539.6h0M1681.9 595.9h0M647.4 394.3h0M834.5 245.6h0M1112.9 602.2h0M1186.5 400.7h0M1319.2 534.5h0M1102.8 422.2h0M1105.3 391.3h0M830.9 286.8h0M822.0 236.4h0M957.5 288.6h0M1171.5 537.8h0M1403.3 720.3h0M822.1 261.2h0M1073.8 355.1h0M1119.3 1114.8h0M1293.9 729.8h0M1365.1 626.9h0M1569.7 712.6h0M1131.1 365.0h0M1500.2 495.3h0M1387.5 690.3h0M1376.3 636.9h0M1186.7 651.7h0M1241.3 420.4h0M1596.6 699.7h0M1365.9 595.0h0M1512.8 563.0h0M1224.7 534.3h0M1041.3 1149.2h0M1522.4 832.4h0M1042.8 1153.2h0M661.9 418.2h0M1057.9 1144.0h0M1462.4 574.6h0M1616.5 666.1h0M1579.4 723.9h0M1366.2 539.6h0M1151.8 833.3h0M1003.1 282.1h0M1247.7 600.1h0M1692.3 621.4h0M1103.0 1139.8h0M825.0 505.3h0M1604.1 707.6h0M1110.0 1208.4h0M1238.7 701.2h0M1313.1 747.3h0M1395.6 702.1h0M1170.3 800.1h0M888.6 322.2h0M980.1 1137.1h0M1689.8 627.0h0M1511.2 465.9h0M1321.6 636.6h0M1254.6 516.7h0M1661.0 628.7h0M794.3 486.0h0M1248.5 410.5h0M1429.7 509.4h0M801.1 513.1h0M679.0 388.3h0M1537.1 502.6h0M1161.6 644.9h0M1584.1 728.7h0M1148.0 831.2h0M1272.8 777.7h0M1204.5 606.6h0M1142.9 347.9h0M1586.9 650.9h0M1253.0 778.0h0M1161.8 556.7h0M1329.2 418.1h0M614.3 381.5h0M1169.6 638.5h0M1339.7 551.2h0M1333.0 548.0h0M1212.8 391.2h0M1035.3 530.1h0M922.1 324.9h0M1289.1 474.3h0M779.7 271.4h0M1489.4 609.3h0M1514.4 699.6h0M1503.9 545.6h0M1285.8 510.4h0M1170.0 364.6h0M1418.3 865.2h0M1343.5 795.2h0M1319.2 452.2h0M1156.7 778.1h0M1525.1 466.1h0M1000.5 1133.4h0M1366.2 598.8h0M1146.8 551.6h0M1268.6 732.1h0M836.5 346.6h0M1243.3 471.6h0M1160.1 510.7h0M1411.8 533.7h0M1451.5 504.3h0M872.9 344.6h0M1482.1 911.0h0M1525.4 562.9h0M941.5 286.8h0M1359.3 556.1h0M1497.7 545.7h0M1428.4 513.7h0M1320.7 771.0h0M1280.7 433.8h0M1182.6 609.0h0M1306.1 497.3h0M1210.8 504.2h0M1466.2 608.0h0M1152.1 458.9h0M1352.2 540.5h0M1566.1 732.8h0M1047.0 510.8h0M1536.3 538.6h0M1270.9 508.2h0M1330.3 543.8h0M1081.9 381.9h0M1200.8 678.0h0M1198.1 351.8h0M1437.9 488.5h0M1456.6 594.9h0M1592.1 661.5h0M919.6 223.6h0M1137.8 423.4h0M914.4 310.5h0M911.4 252.7h0M1134.1 610.2h0M1490.6 807.4h0M1171.1 785.1h0M1218.1 536.0h0M1466.0 591.0h0M1563.6 654.3h0M1079.3 351.5h0M1066.7 564.7h0M1529.4 741.9h0M1566.8 740.0h0M1224.5 381.1h0M815.6 472.9h0M1517.8 552.3h0M915.3 247.8h0M1118.1 1147.4h0M1445.6 764.8h0M1329.5 799.6h0M1268.1 504.3h0M1170.9 669.3h0M772.2 476.2h0M1159.9 450.4h0M1278.3 731.4h0M790.4 247.2h0M1297.9 852.4h0M1479.6 817.3h0M1073.4 493.2h0M1085.0 546.7h0M938.7 276.7h0M1474.9 509.6h0M1111.5 653.2h0M1374.8 525.6h0M947.9 237.2h0M1216.0 699.9h0M1177.5 777.1h0M1034.6 1157.6h0M1072.3 407.6h0M1535.0 477.4h0M854.0 478.7h0M1447.2 908.1h0M1258.2 407.8h0M1187.4 694.1h0M937.6 266.3h0M1563.1 690.6h0M852.4 511.1h0M1276.8 551.3h0M1304.9 846.2h0M1265.4 449.1h0M959.9 1112.0h0M848.1 260.6h0M815.6 260.7h0M1400.0 475.8h0M1338.1 678.5h0M955.2 293.0h0M617.6 399.5h0M1397.9 577.1h0M1605.0 695.7h0M1314.6 531.8h0M775.5 282.1h0M1427.4 491.6h0M1216.7 650.0h0M1407.0 467.3h0M1493.5 831.7h0M979.4 304.5h0M1148.9 549.0h0M837.0 225.0h0M860.8 469.4h0M1371.5 704.0h0M1079.2 348.7h0M1717.2 674.2h0M1671.8 652.2h0M1288.4 674.5h0M1269.2 521.5h0M1147.0 532.5h0M1342.7 572.7h0M1211.5 546.3h0M1309.9 585.5h0M880.9 251.9h0M1454.4 873.6h0M1073.2 549.5h0M1699.1 671.0h0M656.3 418.7h0M1344.5 604.9h0M1211.1 382.2h0M1465.4 404.2h0M1475.8 546.0h0M1363.5 788.8h0M1345.1 625.1h0M1388.7 619.1h0M1345.5 643.0h0M1208.4 547.6h0M1097.9 523.3h0M1036.4 1176.1h0M1155.1 463.0h0M857.7 280.6h0M1206.1 764.7h0M1493.1 524.1h0M1666.2 611.7h0M881.3 384.3h0M1352.3 564.3h0M1160.9 591.9h0M1396.2 733.2h0M1299.9 431.4h0M1304.3 580.1h0M1411.2 467.6h0M1213.5 827.5h0M1355.8 714.4h0M1396.7 693.6h0M1200.9 654.2h0M1143.7 341.2h0M1139.8 582.2h0M1153.5 672.1h0M872.4 503.9h0M920.5 332.8h0M1152.8 657.1h0M1258.3 564.7h0M1109.5 486.4h0M1256.7 499.7h0M1088.9 608.5h0M1333.3 490.6h0M1440.0 819.7h0M1648.9 710.9h0M1701.4 622.5h0M1389.4 754.5h0M986.5 1128.5h0M1453.4 916.8h0M1330.0 778.2h0M1075.0 371.6h0M1533.8 510.0h0M1137.8 494.9h0M1296.2 450.1h0M1387.1 704.7h0M1678.8 595.1h0M1375.6 631.7h0M852.1 400.0h0M1177.9 694.6h0M1364.4 543.8h0M1176.2 586.3h0M1049.3 1152.5h0M1114.2 1182.5h0M1537.9 494.4h0M1346.8 597.1h0M1095.3 1208.7h0M1178.7 667.0h0M1378.8 483.8h0M923.7 331.4h0M1149.2 803.7h0M1379.4 693.3h0M1459.9 915.1h0M1351.7 633.0h0M1297.6 800.3h0M1031.0 554.7h0M1153.1 347.2h0M1437.6 857.3h0M998.7 324.6h0M1267.8 474.7h0M1309.7 479.2h0M1178.0 611.9h0M1507.9 829.1h0M1475.6 905.4h0M1043.5 542.1h0M1466.7 805.2h0M1208.3 608.9h0M1346.5 645.6h0M1353.0 504.6h0M1286.3 612.5h0M1541.0 744.9h0M851.5 275.1h0M810.3 500.7h0M1326.7 572.8h0M898.3 260.1h0M1156.1 550.5h0M1139.5 351.9h0M1398.3 753.4h0M837.8 514.9h0M857.6 306.3h0M1323.0 526.8h0M1220.6 453.5h0M1349.3 552.1h0M645.5 453.2h0M624.0 458.2h0M866.7 293.3h0M1505.2 553.5h0M1056.5 511.0h0M1150.2 790.7h0M1177.0 687.5h0M1150.5 812.2h0M1318.3 413.6h0M1352.7 607.2h0M1139.7 432.7h0M1139.2 402.9h0M1592.1 677.8h0M1471.4 483.4h0M1353.8 571.5h0M1169.8 543.5h0M1475.1 889.6h0M979.0 1103.3h0M1147.8 460.5h0M1005.1 292.5h0M1461.3 399.6h0M1129.8 1177.9h0M804.1 254.2h0M881.3 270.2h0M1452.4 873.9h0M765.3 457.7h0M1577.5 735.0h0M647.7 398.5h0M1352.5 779.0h0M1481.5 799.7h0M1179.6 471.9h0M1492.1 448.5h0M1326.8 584.7h0M1336.1 569.1h0M1255.0 775.4h0M1164.8 590.9h0M1375.5 467.4h0M1488.8 830.8h0M1661.9 695.5h0M1346.3 498.0h0M1420.6 468.3h0M1164.8 464.8h0M1228.6 706.5h0M815.5 268.3h0M845.0 270.3h0M686.0 469.0h0M1197.2 349.3h0M1328.9 728.9h0M1244.4 342.7h0M1383.3 664.9h0M1407.1 464.8h0M1071.8 1121.1h0M1145.7 618.9h0M1304.0 794.7h0M1285.5 455.8h0M1078.4 388.7h0M1129.5 1134.7h0M1369.4 528.5h0M1172.6 603.9h0M1089.9 1167.5h0M1428.1 539.8h0M1185.8 361.0h0M1345.4 529.8h0M1380.9 613.5h0M1471.7 476.7h0M1191.0 756.7h0M1382.7 660.9h0M1386.9 755.8h0M892.7 259.2h0M1209.3 477.5h0M1109.7 402.8h0M1521.3 467.9h0M930.9 335.8h0M805.9 232.6h0M1086.4 495.9h0M829.6 374.0h0M1348.7 614.6h0M1050.9 575.4h0M1127.5 425.5h0M1334.2 520.0h0M1588.5 711.1h0M1168.5 803.9h0M796.9 259.4h0M1345.0 613.8h0M1059.4 561.7h0M1346.9 492.6h0M1463.9 568.4h0M873.1 485.7h0M670.7 393.3h0M1489.3 494.7h0M981.3 238.9h0M1279.6 361.1h0M1428.3 875.3h0M1296.9 686.0h0M1333.3 442.0h0M1137.1 654.7h0M1120.5 1136.9h0M1376.2 552.6h0M1054.3 1166.9h0M803.5 512.2h0M1136.4 620.4h0M1490.5 907.5h0M1310.9 537.2h0M1182.6 674.5h0M1184.2 675.4h0M836.9 245.8h0M1123.6 552.7h0M1302.8 381.2h0M1361.1 571.4h0M959.9 321.3h0M1213.3 420.9h0M1461.2 858.9h0M1311.7 643.0h0M1448.0 869.0h0M1388.5 567.9h0M1342.8 730.1h0M1491.1 810.5h0M1198.4 572.5h0M1113.8 397.8h0M631.3 418.4h0M887.1 387.7h0M1146.1 584.8h0M1089.5 493.9h0M1157.8 831.9h0M1357.9 843.2h0M884.8 393.5h0M1500.0 594.8h0M1482.0 518.6h0M953.8 238.7h0M1175.5 783.7h0M1301.6 382.0h0M1429.6 792.8h0M1318.2 844.1h0M829.7 309.0h0M1146.5 407.4h0M825.3 470.7h0M827.5 372.8h0M1348.0 457.8h0M1367.5 704.6h0M1177.9 837.2h0M1190.5 578.4h0M1483.1 900.4h0M1392.0 824.4h0M797.2 269.2h0M1121.2 1210.5h0M1011.4 1101.0h0M1103.7 497.2h0M846.3 457.3h0M1077.0 518.7h0M1338.8 537.0h0M1207.0 665.9h0M1689.7 606.2h0M1699.2 600.6h0M1031.2 527.4h0M1304.0 503.0h0M1082.7 1124.9h0M798.8 243.1h0M1181.3 475.0h0M1259.9 488.4h0M1071.2 1179.9h0M1117.9 642.6h0M1272.9 481.9h0M1464.0 433.1h0M1422.2 490.0h0M1068.0 492.3h0M1365.1 566.8h0M1257.1 614.7h0M1509.8 451.2h0M1067.5 539.2h0M1124.8 410.3h0M1459.0 576.2h0M900.5 322.4h0M1218.6 713.2h0M1270.2 813.9h0M1279.8 449.9h0M1351.1 648.1h0M1189.9 762.0h0M1159.6 373.4h0M1332.7 572.4h0M811.4 454.8h0M779.2 479.4h0M1253.2 617.4h0M1630.1 680.7h0M1146.8 539.1h0M1509.7 836.2h0M1270.5 475.3h0M1116.3 632.3h0M1304.2 454.8h0M1434.6 564.9h0M1030.1 1132.7h0M1191.1 499.9h0M827.4 352.1h0M1216.9 600.5h0M1105.7 401.4h0M1679.1 711.0h0M1271.2 504.0h0M877.3 308.1h0M887.0 394.8h0M1687.3 683.2h0M1392.3 562.5h0M1458.6 601.8h0M793.0 444.8h0M1158.5 472.7h0M1464.1 480.6h0M1333.6 550.2h0M1068.7 357.1h0M1398.0 563.9h0M1375.4 521.6h0M1123.8 429.5h0M1604.6 728.8h0M1088.2 373.0h0M1437.4 672.7h0M1496.1 823.5h0M863.1 490.5h0M1637.9 673.2h0M1311.5 507.6h0M1486.7 589.6h0M1597.8 724.1h0M1463.1 798.5h0M1291.5 768.3h0M1313.1 662.9h0M1442.0 884.2h0M1500.3 839.6h0M1043.2 1146.8h0M1180.0 437.7h0M843.0 507.0h0M1514.9 859.5h0M1091.4 526.8h0M1497.7 830.7h0M1403.6 576.1h0M1496.0 813.9h0M1159.1 548.7h0M1084.3 539.9h0M1085.7 587.7h0M1463.1 823.9h0M1116.5 380.7h0M1483.8 920.2h0M827.7 480.5h0M1346.4 595.6h0M1135.1 550.2h0M1368.5 528.2h0M1436.6 880.1h0M1493.1 918.2h0M1268.0 738.8h0M1215.4 624.9h0M1264.6 514.6h0M917.7 234.2h0M1281.8 427.6h0M1306.1 572.9h0M782.9 288.4h0M1126.9 345.1h0M1390.5 722.1h0M1365.0 603.6h0M1329.4 675.0h0M1248.3 345.3h0M1499.0 822.5h0M1022.7 1148.8h0M849.2 275.4h0M1346.2 452.7h0M1557.0 710.3h0M1395.9 451.6h0M1267.3 793.0h0M1181.7 796.3h0M1294.9 553.6h0M1415.5 571.8h0M815.2 461.6h0M1489.4 418.1h0M1443.2 804.2h0M996.3 1121.6h0M1349.6 532.4h0M1097.9 429.0h0M1202.0 702.1h0M1206.1 583.4h0M1171.1 534.0h0M1373.4 598.0h0M1353.3 538.0h0M1490.8 602.6h0M984.2 1112.3h0M1196.4 365.6h0M1442.7 896.8h0M1350.2 459.1h0M1407.9 848.3h0M817.7 309.6h0M1124.0 627.2h0M857.5 512.5h0M1083.4 376.8h0M1384.5 443.0h0M1227.8 647.7h0M973.5 1115.0h0M1147.4 547.9h0M1472.0 483.2h0M988.1 1116.9h0M1494.4 899.5h0M1362.4 558.8h0M1558.8 713.4h0M1124.1 1170.1h0M869.7 310.8h0M1661.2 601.2h0M1067.0 432.3h0M1327.6 548.5h0M834.6 239.2h0M1357.1 507.8h0M1347.6 583.9h0M1177.6 361.6h0M1340.0 607.9h0M1078.5 510.4h0M1154.0 609.3h0M1403.3 572.1h0M1164.1 823.6h0M627.8 416.4h0M1412.0 821.0h0M1280.2 585.8h0M1697.1 660.7h0M814.9 317.8h0M1119.9 1101.2h0M812.2 517.9h0M832.7 237.7h0M1249.3 513.7h0M1377.7 520.7h0M877.6 239.0h0M1488.8 925.1h0M1140.1 377.8h0M1237.1 833.1h0M1658.6 683.9h0M1257.4 378.0h0M920.5 316.1h0M1380.7 664.0h0M812.2 493.1h0M1262.8 428.8h0M1237.6 372.3h0M1382.4 615.4h0M1466.3 898.0h0M1286.5 686.9h0M1472.7 431.9h0M1110.1 531.5h0M1457.1 796.2h0M1086.0 1117.0h0M1058.7 1178.5h0M1601.4 730.3h0M1271.1 845.3h0M1108.6 377.2h0M1131.5 524.8h0M965.6 1100.6h0M1288.4 850.9h0M1324.4 513.4h0M633.0 388.4h0M637.0 400.1h0M1382.3 789.9h0M1443.9 408.8h0M1546.5 739.4h0M1172.9 672.4h0M1244.5 382.4h0M1263.9 492.5h0M646.7 399.1h0M1181.1 418.9h0M1338.6 502.5h0M1142.2 1176.4h0M1265.1 502.7h0M1701.5 653.9h0M1481.6 494.0h0M1080.6 1170.2h0M1305.6 536.5h0M1522.7 726.7h0M1310.7 481.4h0M1345.3 551.9h0M1695.0 659.6h0M1324.7 440.9h0M1357.0 500.4h0M1277.5 660.4h0M1423.4 523.4h0M1277.9 466.0h0M1370.9 667.1h0M1465.0 825.9h0M1149.3 598.4h0M1369.1 628.7h0M1282.6 570.2h0M1227.2 802.3h0M1360.0 566.2h0M1283.0 375.7h0M1171.1 612.5h0M1350.3 555.0h0M1013.6 543.9h0M1304.7 452.2h0M1108.2 593.4h0M1264.1 698.8h0M1154.1 483.4h0M1255.8 796.1h0M1352.2 463.6h0M1385.4 557.4h0M1274.8 518.1h0M1250.9 706.6h0M1473.1 401.3h0M1458.8 897.5h0M1476.1 879.9h0M1125.1 537.5h0M1488.9 924.4h0M1484.7 825.4h0M1083.8 435.5h0M1141.8 381.1h0M772.0 300.5h0M1094.0 484.4h0M1212.4 589.0h0M1399.3 789.5h0M1369.1 578.0h0M1184.0 631.0h0M1425.6 776.0h0M988.6 241.8h0M1287.6 757.2h0M1309.0 552.3h0M1188.3 538.4h0M1208.3 660.4h0M1474.1 869.5h0M1435.4 879.8h0M1374.4 695.6h0M1154.5 802.1h0M1162.8 369.5h0M1161.9 779.3h0M1356.0 740.7h0M1446.2 887.6h0M1102.6 1172.1h0M1336.5 509.8h0M1148.5 410.4h0M864.0 274.0h0M1011.5 1091.1h0M1089.6 418.6h0M1452.2 868.2h0M1243.8 620.4h0M1129.3 621.2h0M1565.0 732.2h0M1475.7 848.1h0M1329.1 682.0h0M1495.3 898.5h0M1094.5 397.0h0M1125.3 548.6h0M1656.5 686.8h0M1149.5 635.6h0M1187.0 441.4h0M1473.9 617.3h0M1433.6 685.5h0M1170.4 562.4h0M1205.8 557.4h0M1251.7 491.1h0M1668.4 670.5h0M644.0 387.6h0M1582.2 661.7h0M1270.2 698.2h0M1226.7 627.9h0M788.8 284.1h0M1375.0 605.4h0M1373.3 721.9h0M1386.0 619.4h0M1125.2 617.2h0M1519.2 687.6h0M1510.1 559.6h0M1181.8 604.4h0M1317.7 759.6h0M853.5 322.1h0M1288.8 537.8h0M1311.5 777.5h0M1263.8 503.8h0M1206.7 587.3h0M910.3 321.5h0M1528.4 485.9h0M1403.5 823.8h0M1366.6 615.6h0M1315.4 843.6h0M1058.8 1105.2h0M1341.7 733.9h0M1253.8 684.8h0M1360.9 613.9h0M1307.3 468.0h0M1087.3 372.2h0M815.6 275.3h0M1571.6 668.2h0M1509.9 555.4h0M938.8 319.7h0M1494.2 546.3h0M1130.7 423.2h0M1266.8 849.6h0M806.0 251.4h0M1680.3 687.4h0M1485.6 913.6h0M1314.5 467.4h0M1129.4 664.0h0M1408.9 849.9h0M1305.7 749.6h0M1166.2 530.2h0M1247.0 576.2h0M1270.8 467.1h0M1096.2 1105.2h0M1431.8 866.6h0M1267.7 716.8h0M1060.2 364.6h0M1261.7 738.8h0M1272.7 722.1h0M1283.9 479.3h0M1174.2 812.4h0M1415.0 827.2h0M1320.6 630.5h0M1299.8 454.5h0M1635.9 629.0h0M1349.4 463.2h0M1358.9 543.4h0M1331.9 590.8h0M1430.4 758.4h0M1634.3 664.8h0M1400.3 505.2h0M1093.6 358.9h0M964.7 320.3h0M1253.9 659.2h0M1081.0 1146.5h0M810.0 263.8h0M989.3 316.7h0M1184.5 439.8h0M1458.8 803.3h0M1475.0 516.2h0M1132.0 1183.4h0M1287.3 365.9h0M642.3 397.3h0M825.3 281.9h0M1529.7 699.0h0M1149.6 614.1h0M1465.6 450.4h0M1129.3 493.7h0M1322.5 476.6h0M868.9 493.2h0M1332.5 676.6h0M1192.2 833.6h0M1329.3 529.4h0M1348.1 564.7h0M1546.9 724.4h0M1234.0 347.7h0M1018.4 289.1h0M1121.7 546.7h0M1262.9 848.6h0M1589.3 727.2h0M1438.5 856.8h0M1344.4 796.8h0M1430.6 814.2h0M1373.7 609.3h0M1688.0 704.2h0M1269.4 427.3h0M1184.7 447.0h0M1045.8 534.2h0M1255.8 573.1h0M1131.7 593.5h0M1400.0 468.7h0M1284.1 708.7h0M1407.3 785.1h0M901.9 229.0h0M1076.5 374.9h0M1058.7 579.7h0M1490.6 610.4h0M1408.0 582.3h0M1189.4 495.7h0M648.8 440.9h0M1266.6 844.1h0M1353.1 553.3h0M1218.5 454.8h0M1477.1 887.9h0M1349.7 519.5h0M1488.5 606.7h0M782.2 439.0h0M1435.3 830.9h0M1173.6 810.3h0M1051.4 1146.7h0M1160.3 649.6h0M949.4 263.8h0M1088.8 492.3h0M1339.6 710.6h0M1341.5 581.0h0M1491.5 909.5h0M1219.0 690.1h0M878.9 222.0h0M1450.6 854.0h0M1069.0 420.1h0M1124.7 494.2h0M842.5 511.4h0M1380.7 466.5h0M1070.5 1130.6h0M896.8 324.6h0M1645.0 624.4h0M639.7 416.3h0M875.7 505.9h0M1283.7 712.7h0M1150.9 792.9h0M1512.5 487.8h0M1131.3 546.9h0M1580.1 713.0h0M1223.6 852.1h0M1507.4 852.4h0M1496.7 830.6h0M1691.4 685.6h0M1118.4 1169.9h0M1233.1 819.2h0M1220.2 475.1h0M895.5 265.2h0M1154.5 331.6h0M1391.0 833.5h0M1145.6 1184.2h0M631.0 388.3h0M888.4 295.3h0M1244.2 683.0h0M1151.0 450.9h0M1398.0 830.6h0M1604.9 688.0h0M1678.1 709.7h0M1518.3 498.6h0M1159.2 464.1h0M1292.3 751.5h0M1645.0 631.5h0M1262.7 512.0h0M1450.8 841.7h0M1470.1 472.0h0M1287.2 517.0h0M1297.3 571.0h0M1409.5 557.2h0M998.8 278.0h0M820.1 437.6h0M1507.8 828.8h0M829.6 523.7h0M1093.5 1162.8h0M1239.6 455.1h0M1506.9 852.6h0M1389.2 767.2h0M1428.7 839.0h0M811.1 471.2h0M1395.9 515.9h0M1045.7 496.6h0M1200.1 797.2h0M1270.7 432.0h0M903.0 310.0h0M1264.4 762.8h0M865.7 348.1h0M1041.8 1099.4h0M1245.3 399.9h0M1569.1 723.0h0M1153.1 520.7h0M1491.0 836.2h0M811.8 305.6h0M1213.2 677.5h0M1248.1 451.8h0M1102.1 602.3h0M1250.6 815.4h0M1336.7 649.4h0M1450.0 809.4h0M1197.0 444.7h0M1433.7 689.6h0M1479.0 594.1h0M1275.3 400.9h0M1339.0 434.5h0M1373.7 470.3h0M1268.7 417.5h0M1313.4 619.7h0M1330.9 523.3h0M1484.6 923.7h0M1427.0 909.7h0M1269.2 531.9h0M1293.9 780.5h0M1338.2 461.0h0M900.8 285.7h0M1145.4 575.5h0M1157.8 817.8h0M1161.9 345.8h0M1220.4 673.6h0M1430.5 884.2h0M1204.3 442.1h0M1251.0 480.3h0M1333.9 482.6h0M1285.1 608.1h0M1064.5 1165.9h0M799.4 233.4h0M1313.3 721.7h0M816.6 477.9h0M1452.1 894.6h0M1098.0 1198.2h0M1135.5 341.0h0M1637.9 665.3h0M1358.6 476.3h0M1157.4 598.1h0M832.8 265.6h0M1182.2 623.1h0M1420.7 823.4h0M857.5 365.7h0M1390.0 520.2h0M1120.1 1158.1h0M1346.5 488.4h0M1372.0 622.0h0M1226.4 454.7h0M1499.2 496.8h0M1603.6 682.3h0M1479.6 556.9h0M1285.8 735.2h0M1464.0 419.5h0M1238.3 425.6h0M1462.4 796.5h0M1171.5 651.9h0M1702.9 600.0h0M1198.5 638.3h0M1174.6 452.8h0M1316.6 842.5h0M1149.4 833.5h0M1336.0 506.2h0M1153.4 410.3h0M1495.0 492.0h0M1120.0 353.9h0M1393.0 543.1h0M1521.7 859.3h0M913.1 337.6h0M1162.3 769.7h0M666.2 456.8h0M1091.9 641.4h0M1177.0 616.3h0M1276.4 795.1h0M1535.2 737.1h0M1505.0 889.3h0M1358.0 583.6h0M1262.8 435.2h0M1158.0 832.5h0M1358.7 518.1h0M1508.3 890.7h0M1079.8 579.6h0M1323.9 694.4h0M1094.1 1163.1h0M1163.7 609.0h0M1146.2 611.2h0M1493.4 538.5h0M1094.4 507.6h0M1196.9 435.8h0M1617.4 729.3h0M1204.0 449.5h0M1606.3 686.0h0M839.0 227.3h0M1410.6 719.5h0M1384.4 708.9h0M1571.8 706.3h0M1133.0 374.2h0M1178.2 450.0h0M1043.2 519.7h0M1513.7 863.3h0M1130.0 609.0h0M1056.8 559.7h0M1341.9 629.1h0M865.1 482.0h0M824.8 394.8h0M1295.0 750.8h0M1354.1 558.4h0M1110.6 1122.3h0M1205.9 687.5h0M1542.8 514.1h0M1249.1 408.7h0M1385.9 836.5h0M1381.6 789.1h0M1299.2 611.3h0M982.9 270.1h0M1267.2 846.6h0M1138.9 398.7h0M1114.1 1135.2h0M1110.5 498.1h0M802.2 248.8h0M1091.8 1135.8h0M876.4 248.3h0M1183.2 619.2h0M1080.1 1157.8h0M1151.2 403.1h0M1240.6 581.5h0M1218.8 447.9h0M1368.1 473.9h0M1011.4 1162.1h0M1651.8 630.0h0M1481.7 526.7h0M1036.0 297.1h0M1198.7 560.8h0M835.4 312.4h0M1198.4 804.2h0M1228.7 817.4h0M1255.1 502.1h0M972.1 286.4h0M1268.8 471.2h0M1521.4 585.6h0M835.7 347.1h0M1083.4 501.6h0M1504.2 476.0h0M1277.1 354.3h0M1309.8 470.1h0M1091.4 403.6h0M1100.4 560.1h0M1232.1 376.2h0M811.0 304.6h0M1133.8 342.0h0M1019.5 556.1h0M1328.3 769.0h0M1266.4 417.6h0M1160.2 418.1h0M1611.5 656.4h0M1583.9 724.5h0M1323.4 750.5h0M859.1 331.8h0M1153.0 814.1h0M1268.1 835.2h0M1066.9 345.8h0M1516.6 466.7h0M1073.5 380.8h0M1417.8 570.0h0M1381.0 634.0h0M1638.3 717.5h0M1359.3 731.2h0M855.2 372.6h0M1192.4 385.0h0M1006.3 1132.9h0M1323.5 517.4h0M1122.5 498.4h0M1333.5 494.7h0M1411.5 726.4h0M1041.3 541.3h0M1344.6 567.0h0M885.9 328.7h0M1087.5 1194.1h0M1216.5 382.6h0M1376.9 762.1h0M1136.7 359.8h0M1382.3 632.1h0M1171.1 768.9h0M1432.5 399.1h0M1456.5 401.6h0M871.8 497.5h0M1661.6 673.6h0M1403.4 832.8h0M1134.4 1197.0h0M1671.4 650.7h0M1299.9 741.2h0M1322.8 554.3h0M1157.9 760.6h0M1333.3 499.1h0M1417.6 589.5h0M1490.5 910.5h0M1318.0 783.6h0M1444.4 843.6h0M1244.0 451.7h0M978.3 325.5h0M1331.5 465.4h0M1555.2 699.6h0M1064.5 343.9h0M1454.5 505.0h0M1040.6 1163.0h0M865.5 379.2h0M1094.9 1107.4h0M1544.9 523.6h0M1170.8 644.8h0M858.4 401.5h0M1128.7 420.4h0M1192.0 387.7h0M866.6 227.6h0M1096.1 493.9h0M1391.7 706.3h0M1010.0 552.9h0M1138.1 582.7h0M1218.9 818.4h0M1265.2 594.2h0M1264.0 474.9h0M1149.7 460.0h0M970.4 1104.2h0M1274.8 746.2h0M1390.5 624.8h0M1353.6 842.1h0M1411.8 484.0h0M935.2 244.1h0M1313.4 790.5h0M1325.8 416.3h0M1138.8 607.8h0M1105.8 566.7h0M897.0 260.7h0M1478.7 863.7h0M1303.1 423.1h0M1183.2 663.6h0M1088.0 534.4h0M766.5 283.4h0M1512.6 465.5h0M1237.2 559.9h0M1452.5 582.5h0M1143.2 395.5h0M1201.6 387.3h0M634.3 419.4h0M859.5 338.8h0M1598.7 649.0h0M1580.1 701.3h0M880.0 220.1h0M1451.9 883.9h0M1322.4 467.7h0M1105.8 624.8h0M1327.3 555.0h0M1436.3 466.4h0M1219.0 565.2h0M1347.5 548.2h0M1455.6 517.7h0M912.9 265.4h0M1154.0 1113.2h0M898.2 244.1h0M1133.4 1130.0h0M1409.3 552.3h0M1501.0 725.2h0M1091.8 1163.8h0M1509.9 488.8h0M1493.5 585.7h0M1333.3 511.7h0M1469.4 899.7h0M950.5 287.6h0M820.4 437.1h0M1387.1 642.2h0M1108.6 579.2h0M1227.8 495.3h0M1272.6 788.1h0M1271.9 719.0h0M1389.3 831.1h0M1164.8 765.8h0M824.5 508.5h0M1430.7 853.2h0M1306.6 465.7h0M1268.5 585.6h0M1098.8 508.0h0M1172.3 603.8h0M1415.3 860.0h0M638.5 387.4h0M1179.9 639.4h0M1194.0 346.4h0M1090.6 612.0h0M1174.4 505.2h0M1182.6 616.2h0M1354.1 501.5h0M1408.7 806.9h0M816.7 456.3h0M1100.5 509.9h0M1076.0 413.8h0M1260.0 721.9h0M1329.0 685.7h0M831.6 470.2h0M1154.8 777.3h0M953.1 247.3h0M1255.0 704.1h0M1417.6 479.1h0M1358.6 671.5h0M1392.4 758.5h0M965.4 301.8h0M1409.4 573.0h0M1073.7 511.7h0M1629.0 700.7h0M1308.0 545.5h0M979.3 264.9h0M1662.4 693.5h0M1216.9 678.0h0M1200.7 605.1h0M1700.9 690.5h0M1338.6 639.2h0M1342.9 544.6h0M1337.7 708.8h0M1402.7 588.1h0M762.4 283.8h0M1329.2 845.5h0M1118.0 428.0h0M1327.3 803.0h0M1141.5 507.1h0M1661.1 684.5h0M1479.6 458.1h0M868.1 485.0h0M1458.6 820.5h0M1328.3 618.7h0M1524.4 725.1h0M1122.5 354.2h0M1210.2 778.1h0M1385.7 768.5h0M1279.6 613.7h0M1237.1 822.3h0M840.8 478.7h0M1385.3 681.7h0M1367.3 446.5h0M1121.1 371.5h0M1164.7 655.9h0M1461.0 630.2h0M1272.1 454.5h0M1135.3 436.9h0M767.7 290.2h0M1303.3 511.7h0M1274.1 697.4h0M1215.8 361.0h0M1189.9 578.4h0M1156.5 827.7h0M983.6 263.4h0M687.7 391.6h0M1269.7 772.7h0M1504.3 594.4h0M1489.2 919.7h0M1116.9 612.3h0M1006.0 303.0h0M1317.1 387.9h0M1204.5 805.3h0M1033.2 531.6h0M876.0 281.3h0M689.1 388.8h0M1220.3 668.5h0M1136.4 1128.0h0M1382.8 718.5h0M1275.0 584.9h0M1541.2 742.7h0M777.0 297.5h0M1339.8 845.9h0M981.4 304.8h0M1564.2 689.9h0M1527.7 570.7h0M650.8 424.6h0M1502.5 827.4h0M1354.1 459.2h0M1177.5 695.2h0M1198.5 413.0h0M1338.7 546.2h0M1504.4 842.4h0M1682.4 583.3h0M1287.1 666.2h0M811.3 273.7h0M771.0 268.7h0M1367.0 615.2h0M1509.0 552.9h0M1451.5 815.2h0M1439.0 892.4h0M1312.7 540.8h0M1445.0 899.5h0M1052.4 529.1h0M1416.9 716.9h0M1417.7 519.3h0M1346.7 573.5h0M1476.8 821.2h0M1434.6 831.4h0M1433.7 689.3h0M1230.8 357.6h0M934.4 322.2h0M635.0 373.3h0M1288.4 409.8h0M1272.8 500.2h0M853.3 384.7h0M1498.8 428.1h0M928.7 302.2h0M953.8 253.3h0M1383.0 654.0h0M1504.0 541.8h0M1251.4 662.3h0M1186.5 628.8h0M823.0 441.8h0M1283.1 780.2h0M1384.2 548.1h0M1213.3 587.6h0M1203.3 569.6h0M1523.9 502.3h0M1341.2 466.2h0M1148.0 1187.1h0M1371.4 614.3h0M1258.9 455.1h0M1329.4 576.4h0M1699.6 631.9h0M872.7 363.8h0M1119.8 632.6h0M1385.8 439.9h0M1258.0 817.8h0M1413.5 696.3h0M1107.9 434.5h0M1188.3 779.4h0M1378.8 512.5h0M1522.4 514.2h0M1284.3 502.3h0M1644.0 660.1h0M1262.2 617.9h0M1287.3 387.8h0M1168.4 429.2h0M1000.6 296.6h0M1345.6 705.4h0M1291.9 505.7h0M1454.1 842.1h0M1210.6 818.6h0M1210.7 522.5h0M1190.7 390.6h0M1110.4 422.0h0M1076.9 425.5h0M1350.1 437.3h0M1110.6 352.4h0M1039.9 543.1h0M1282.0 561.9h0M1319.7 496.9h0M1368.6 624.0h0M1646.0 704.1h0M1315.5 492.7h0M1492.1 741.3h0M1512.7 711.2h0M1697.9 693.5h0M815.1 248.8h0M1256.5 715.2h0M1681.9 675.2h0M732.4 440.0h0M1213.3 683.3h0M1254.1 490.4h0M1460.3 853.0h0M1185.2 449.2h0M1427.5 868.6h0M839.1 387.1h0M1661.3 658.7h0M1276.7 731.7h0M1500.8 442.4h0M962.0 276.6h0M1477.9 854.8h0M1028.6 514.8h0M1238.3 597.5h0M802.9 499.2h0M1402.1 591.4h0M1491.9 430.3h0M1245.3 821.6h0M1383.5 766.1h0M1275.3 590.2h0M1164.0 598.0h0M788.6 489.9h0M1499.5 738.0h0M1523.4 555.8h0M1299.1 366.8h0M1122.9 574.6h0M1426.5 511.5h0M1302.0 782.8h0M1665.4 650.7h0M1477.9 918.7h0M802.3 255.3h0M1392.5 523.9h0M987.8 1141.9h0M1333.4 558.3h0M1076.8 469.8h0M1530.3 548.5h0M1072.7 376.2h0M911.2 292.6h0M808.0 464.1h0M861.7 470.0h0M1426.2 788.8h0M1221.8 417.4h0M1310.0 595.6h0M1337.0 797.4h0M1024.3 531.9h0M1558.0 730.5h0M809.6 510.8h0M1492.9 936.1h0M1438.0 679.3h0M1066.9 603.6h0M973.7 1095.7h0M1203.2 557.0h0M778.8 285.5h0M1024.4 1151.0h0M1278.7 805.2h0M1173.7 761.9h0M875.8 381.9h0M1196.1 589.0h0M1625.6 707.3h0M1469.4 847.8h0M1349.9 483.0h0M1288.8 394.7h0M791.4 473.1h0M1431.4 515.2h0M1153.2 404.2h0M1233.6 696.7h0M1080.4 502.1h0M1353.3 621.2h0M831.1 510.0h0M1496.9 833.2h0M1256.4 621.7h0M1287.4 535.7h0M864.8 340.1h0M1366.2 535.1h0M1249.1 519.1h0M1279.9 357.7h0M1271.8 564.1h0M1406.4 537.1h0M1301.3 580.9h0M1141.0 806.3h0M1097.2 1160.4h0M1122.0 1115.4h0M1259.6 763.6h0M1088.2 1136.4h0M1139.0 1191.0h0M1375.7 555.5h0M1296.7 477.0h0M1699.7 677.2h0M1255.3 434.5h0M1273.0 810.2h0M1377.6 554.1h0M1118.6 605.3h0M1305.2 381.9h0M1535.8 733.3h0M1275.4 380.0h0M1414.9 806.1h0M1254.3 435.2h0M1212.5 607.1h0M1328.8 592.8h0M1262.1 403.3h0M1167.3 831.7h0M1227.2 803.6h0M1385.0 484.4h0M1092.1 590.0h0M1485.0 924.5h0M1685.4 669.3h0M1197.7 502.3h0M1093.8 1158.7h0M1481.4 898.4h0M1316.5 532.1h0M1501.1 571.7h0M1367.6 552.3h0M1090.2 565.4h0M1463.1 891.8h0M1158.1 461.2h0M1376.3 697.1h0M1006.1 244.3h0M1161.6 361.4h0M1138.8 560.5h0M1412.3 577.9h0M1450.6 507.4h0M1427.9 806.5h0M1128.8 530.8h0M1197.4 637.4h0M916.6 224.4h0M1429.5 538.6h0M1046.6 507.8h0M841.5 266.7h0M1177.3 558.4h0M1283.0 537.4h0M1151.4 587.8h0M1208.7 695.3h0M1105.2 484.2h0M858.8 370.6h0M1626.4 710.1h0M1351.1 461.0h0M1118.7 487.1h0M1409.0 544.1h0M1358.9 539.2h0M1380.1 468.2h0M1346.0 625.3h0M1070.1 500.7h0M1073.2 495.4h0M1233.1 806.6h0M1157.1 601.5h0M1192.8 502.5h0M1398.6 533.1h0M1344.9 713.1h0M1506.9 748.9h0M1358.0 477.6h0M696.6 433.8h0M1205.3 599.0h0M1435.5 548.0h0M1674.9 658.6h0M944.9 333.3h0M832.3 379.3h0M1584.9 668.7h0M1384.4 622.4h0M1450.4 887.6h0M1469.8 848.0h0M1297.2 658.5h0M1328.7 644.2h0M1576.1 742.8h0M1317.9 769.6h0M1690.3 648.1h0M1468.1 462.8h0M1264.1 364.7h0M1333.0 569.2h0M1175.3 683.0h0M1111.7 1130.1h0M1341.9 755.9h0M1182.5 797.6h0M1206.1 558.7h0M1365.0 443.0h0M1258.5 625.9h0M1315.2 435.9h0M823.2 302.3h0M1293.1 767.1h0M814.1 438.4h0M1462.3 479.0h0M1378.4 654.7h0M1207.8 589.6h0M1382.6 715.2h0M1396.5 662.1h0M628.7 388.0h0M1190.3 559.2h0M1451.1 889.8h0M1179.8 769.3h0M1209.6 434.7h0M1241.1 575.6h0M1201.0 366.6h0M1388.1 618.3h0M1062.0 1112.1h0M1422.1 474.0h0M1213.5 355.4h0M1340.0 650.5h0M1220.9 378.2h0M1688.7 673.2h0M859.3 285.4h0M1461.5 830.9h0M842.3 487.9h0M1182.6 620.7h0M1322.0 572.0h0M1689.2 626.1h0M1124.2 601.4h0M845.1 341.0h0M634.4 382.6h0M804.7 457.4h0M1087.4 488.3h0M1331.9 590.8h0M1438.4 617.3h0M782.4 271.9h0M1413.1 453.4h0M1193.1 770.9h0M1141.7 568.0h0M1164.3 334.5h0M770.7 476.1h0M1449.9 838.1h0M1442.0 579.6h0M1211.4 787.5h0M1499.3 544.9h0M1172.3 624.4h0M1051.4 378.6h0M1502.3 504.9h0M1320.6 769.6h0M902.7 262.3h0M1348.5 499.3h0M1453.9 917.3h0M1110.1 544.9h0M1230.4 671.9h0M1591.5 657.5h0M1696.0 694.5h0M1362.1 569.9h0M1474.4 859.9h0M1156.6 660.1h0M845.3 388.4h0M897.5 327.0h0M836.5 368.4h0M1244.6 835.7h0M1546.4 528.5h0M1173.6 673.4h0M1354.3 488.3h0M1158.6 602.0h0M886.1 398.8h0M1186.4 505.3h0M799.3 478.9h0M1572.5 663.0h0M1322.1 831.4h0M860.7 298.0h0M894.8 269.3h0M1354.1 597.7h0M1399.7 693.1h0M1284.8 415.2h0M1467.4 508.3h0M1444.2 392.5h0M1364.6 567.5h0M1170.0 690.7h0M850.4 279.7h0M1069.1 384.7h0M1389.2 693.1h0M1167.0 434.8h0M870.0 323.0h0M774.7 477.8h0M1289.3 375.3h0M1167.5 619.6h0M1287.5 438.6h0M1365.7 608.1h0M1495.0 504.4h0M1105.9 1124.1h0M1150.3 462.5h0M1703.6 602.4h0M1119.3 413.5h0M1535.1 546.6h0M1288.3 709.4h0M768.2 268.7h0M1343.8 601.7h0M1567.5 711.1h0M1180.2 453.7h0M1481.3 922.7h0M898.4 317.3h0M1399.8 586.6h0M1141.9 334.4h0M1331.4 647.7h0M1253.4 743.7h0M1537.8 746.5h0M1521.0 846.5h0M1016.5 1109.5h0M1450.6 905.9h0M914.4 296.6h0M1496.0 812.1h0M1492.1 833.4h0M1154.1 390.5h0M1177.1 343.5h0M811.1 273.9h0M1193.7 424.9h0M1349.7 529.0h0M1447.6 442.8h0M1240.2 684.6h0M1507.3 891.1h0M1306.7 569.6h0M1238.5 812.4h0M1510.2 489.2h0M1348.6 530.2h0M1026.4 532.9h0M876.2 292.8h0M1107.6 1216.6h0M1234.0 370.2h0M1081.0 458.2h0M1640.9 711.9h0M1211.1 608.1h0M888.1 271.4h0M1290.6 581.7h0M1333.1 661.3h0M1672.7 685.8h0M1280.6 366.5h0M1194.2 776.3h0M1086.6 494.4h0M1123.5 1185.1h0M915.9 292.3h0M1127.1 660.0h0M1162.5 583.7h0M929.2 311.9h0M1272.5 796.0h0M1378.0 486.5h0M1393.9 513.9h0M1449.6 872.3h0M844.2 492.1h0M1366.6 553.3h0M1036.9 519.9h0M1396.8 752.8h0M646.8 444.6h0M1511.7 492.6h0M1256.6 377.2h0M1371.0 687.1h0M1673.7 702.1h0M1389.6 773.8h0M1345.9 522.9h0M818.0 360.8h0M762.0 288.4h0M1292.1 573.4h0M1182.3 440.8h0M1521.1 461.4h0M1372.8 468.7h0M1162.9 455.8h0M1071.4 513.1h0M1285.6 589.6h0M991.5 1110.3h0M1216.0 612.3h0M1346.9 796.2h0M1167.0 828.4h0M1435.5 507.2h0M865.4 478.3h0M885.9 299.1h0M850.6 276.6h0M820.1 515.8h0M1660.6 700.1h0M847.8 294.7h0M822.9 227.9h0M1395.3 518.1h0M1119.9 582.6h0M1360.1 585.2h0M1317.2 463.4h0M1225.0 517.7h0M1598.3 724.7h0M830.7 517.6h0M1234.4 356.0h0M1333.2 426.2h0M1382.0 716.1h0M1376.4 628.4h0M1405.1 597.3h0M1524.8 468.5h0M859.9 511.6h0M1362.7 630.5h0M1248.8 381.3h0M1493.5 738.6h0M1465.1 803.8h0M1046.4 526.2h0M889.9 337.7h0M1611.8 693.1h0M1161.6 531.8h0M1446.9 589.1h0M1166.6 802.6h0M1704.6 641.3h0M1297.3 377.4h0M1390.2 830.1h0M1420.9 820.2h0M1298.9 744.5h0M1164.1 462.6h0M1484.4 436.1h0M1644.9 630.0h0M1063.7 1141.6h0M1058.2 551.2h0M1066.6 1167.4h0M1261.9 484.1h0M1424.8 799.0h0M1265.5 755.5h0M1012.9 1161.5h0M859.9 504.1h0M1405.4 593.4h0M1146.7 543.8h0M1392.8 439.5h0M860.3 331.3h0M1103.5 498.2h0M1039.4 1161.9h0M909.8 260.0h0M1142.5 591.3h0M1392.1 768.8h0M1459.1 594.3h0M1169.2 767.7h0M1121.5 1172.9h0M1573.9 713.5h0M847.5 473.8h0M1217.5 831.6h0M1171.5 756.2h0M1343.6 478.4h0M1254.9 498.7h0M810.9 240.7h0M943.7 323.1h0M1387.9 673.9h0M936.0 262.2h0M1295.7 376.1h0M1356.3 656.9h0M1485.6 543.1h0M672.3 411.2h0M1473.1 491.0h0M1530.4 489.0h0M1425.7 838.5h0M1428.8 862.8h0M1453.6 581.7h0M1607.0 632.9h0M1366.4 577.8h0M1554.3 675.6h0M1144.7 403.9h0M1381.2 744.4h0M1387.5 551.2h0M1404.4 480.0h0M1336.9 560.9h0M1344.4 573.5h0M640.4 395.9h0M1484.6 493.2h0M1058.6 554.6h0M1125.9 1182.7h0M1078.0 616.5h0M911.9 292.0h0M1150.8 659.9h0M1340.5 535.9h0M1065.3 1181.2h0M1204.8 538.1h0M697.4 474.7h0M849.0 260.3h0M860.3 239.8h0M1440.5 830.1h0M677.2 487.2h0M1135.6 444.4h0M1105.7 438.2h0M1266.6 847.8h0M848.5 310.6h0M1370.0 607.1h0M1446.5 867.4h0M1344.6 598.9h0M1141.3 448.8h0M1421.0 827.7h0M1356.9 456.1h0M636.8 418.0h0M1539.5 721.7h0M1117.3 1188.9h0M1057.5 538.9h0M1258.8 429.9h0M967.1 267.1h0M1232.0 358.4h0M1292.9 764.3h0M1438.8 468.3h0M820.6 346.7h0M1092.7 359.1h0M1349.7 592.4h0M1098.9 1196.8h0M1504.6 454.0h0M1308.1 746.1h0M1086.2 1155.2h0M1705.7 660.5h0M864.0 332.5h0M962.4 255.4h0M1149.4 460.7h0M1071.7 525.2h0M1584.3 731.8h0M1200.8 793.3h0M1337.4 479.0h0M1378.2 572.3h0M1479.2 440.4h0M955.3 251.0h0M1443.0 858.0h0M875.9 366.1h0M1417.4 515.5h0M1065.9 380.7h0M1060.8 1106.8h0M1207.8 582.0h0M1514.6 825.4h0M1199.5 623.9h0M755.2 477.6h0M1638.3 686.1h0M979.3 247.7h0M1205.8 766.4h0M818.6 506.3h0M1123.4 598.3h0M1631.2 714.5h0M1298.4 458.3h0M1389.0 472.2h0M909.7 265.3h0M963.0 277.8h0M1263.9 373.1h0M1423.9 795.3h0M764.1 290.7h0M1047.6 1106.0h0M1257.5 481.8h0M1184.7 579.5h0M1149.4 543.5h0M1270.2 449.4h0M1274.4 711.3h0M787.8 468.3h0M1200.9 360.4h0M1205.6 449.3h0M1102.2 1110.1h0M1445.7 895.7h0M1644.8 613.8h0M641.9 381.5h0M847.6 476.9h0M1067.0 382.8h0M1079.4 521.6h0M1510.3 871.1h0M1532.1 710.6h0M852.2 283.9h0M1150.6 622.4h0M949.0 290.8h0M1492.6 495.5h0M1494.1 841.1h0M1562.4 747.3h0M1183.3 796.3h0M1466.2 507.4h0M1479.2 576.7h0M1485.1 808.0h0M1469.3 415.4h0M1469.9 803.0h0M631.7 384.7h0M1222.8 687.5h0M1142.3 474.2h0M1301.5 579.8h0M1388.6 710.2h0M1705.0 601.9h0M1232.2 704.9h0M1375.1 643.4h0M1408.3 530.6h0M676.0 398.3h0M1366.6 560.3h0M1459.8 813.6h0M1375.1 565.8h0M1310.6 738.0h0M1035.8 1171.6h0M1272.5 531.1h0M1134.0 497.1h0M1251.6 623.3h0M1177.1 624.8h0M994.5 1153.8h0M1287.2 579.7h0M1409.9 853.7h0M1270.2 611.2h0M1677.1 611.4h0M1652.8 631.6h0M1118.3 1158.3h0M1358.9 455.1h0M1208.2 374.9h0M1264.5 471.7h0M1365.9 576.9h0M1227.6 783.2h0M996.5 1130.4h0M1281.9 420.5h0M1350.8 549.2h0M628.5 399.2h0M1403.2 784.8h0M1183.1 766.4h0M1196.6 411.3h0M1145.4 369.9h0M1124.9 365.5h0M634.8 457.7h0M1457.4 522.7h0M1329.0 680.8h0M1467.0 858.5h0M768.9 337.2h0M1166.1 766.9h0M1368.4 577.0h0M897.8 311.9h0M884.5 337.3h0M1231.7 489.2h0M901.7 259.2h0M1352.1 565.7h0M1365.9 603.2h0M1271.2 354.3h0M804.5 298.1h0M1699.8 626.1h0M884.9 324.7h0M911.5 287.4h0M676.4 414.9h0M1101.7 363.2h0M1322.6 602.3h0M997.6 245.1h0M1347.1 595.4h0M1639.4 609.8h0M1162.7 765.7h0M1360.0 835.7h0M1451.6 812.6h0M1129.3 507.9h0M1205.9 603.3h0M1333.8 577.5h0M1126.6 428.0h0M1387.1 529.0h0M1120.6 488.8h0M1497.8 819.2h0M1084.5 402.4h0M1649.8 705.5h0M1379.2 528.1h0M1344.8 562.4h0M1504.9 882.4h0M1466.3 606.0h0M848.2 387.3h0M625.7 402.5h0M1462.6 844.9h0M1428.4 856.6h0M1503.8 581.4h0M1266.4 354.5h0M1346.6 574.4h0M1174.8 681.4h0M1119.3 513.3h0M1094.8 386.5h0M1095.8 605.3h0M1347.8 483.6h0M1217.7 390.4h0M1362.8 591.1h0M1609.5 673.8h0M1154.1 408.1h0M1287.6 553.2h0M1647.6 688.5h0M1312.9 552.1h0M1364.0 447.5h0M932.5 257.8h0M1261.7 789.8h0M1376.5 446.8h0M927.8 292.2h0M1253.2 585.5h0M1494.0 937.2h0M1227.7 346.9h0M1445.2 881.6h0M1230.8 387.3h0M1243.2 476.9h0M1165.0 601.9h0M1432.5 808.2h0M1086.9 371.7h0M1076.6 350.0h0M1392.8 673.8h0M1114.5 587.0h0M1521.5 569.9h0M1111.5 1213.7h0M1039.4 1103.2h0M1474.9 835.5h0M1410.1 608.7h0M1098.5 513.7h0M946.8 235.8h0M1372.7 678.2h0M1415.7 594.3h0M1391.2 660.9h0M1266.1 807.0h0M891.4 312.3h0M1051.6 1178.4h0M1322.5 562.6h0M1197.6 598.3h0M1481.5 520.0h0M781.6 487.9h0M888.6 403.6h0M1131.0 380.4h0M1306.8 534.9h0M1061.5 1154.0h0M1134.0 516.9h0M1478.3 907.7h0M1582.9 719.9h0M1262.3 759.9h0M1422.1 827.7h0M1224.9 776.6h0M917.2 326.1h0M1516.2 872.0h0M1464.7 579.4h0M1417.8 686.2h0M1448.5 902.4h0M1294.2 603.4h0M1242.7 453.9h0M1223.7 706.0h0M1401.5 701.5h0M896.6 258.7h0M1473.3 585.4h0M1431.7 686.5h0M1462.4 469.8h0M655.3 414.2h0M836.4 314.7h0M1342.3 483.2h0M1432.6 810.0h0M1120.2 415.6h0M1643.0 644.0h0M1004.7 1127.4h0M1195.7 770.4h0M1479.8 566.1h0M1455.1 802.3h0M1407.9 815.4h0M1528.6 534.4h0M1655.7 620.6h0M1271.6 402.2h0M1414.3 469.6h0M794.5 310.9h0M1468.6 900.4h0M1145.2 647.8h0M1339.7 694.8h0M787.4 499.9h0M1138.9 404.6h0M1345.3 576.8h0M794.2 280.8h0M1184.9 645.3h0M1399.2 514.1h0M1163.7 818.5h0M1354.6 478.7h0M1396.3 499.6h0M1347.1 472.0h0M1300.7 444.4h0M937.5 227.4h0M1443.4 858.0h0M1171.6 363.3h0M1288.8 780.5h0M1381.7 451.4h0M1151.3 411.6h0M1435.2 780.8h0M1495.5 487.1h0M768.8 263.9h0M1345.0 545.2h0M1232.2 804.3h0M1073.8 378.1h0M1404.0 569.6h0M1073.9 1109.5h0M795.3 310.4h0M1346.1 566.6h0M1341.5 538.3h0M1118.8 570.6h0M1682.8 691.2h0M973.3 287.8h0M1208.2 458.8h0M1329.4 658.5h0M1092.8 561.2h0M1340.4 653.1h0M881.8 327.5h0M1297.0 581.8h0M1489.8 822.2h0M1428.5 545.7h0M1472.3 606.6h0M1345.4 549.5h0M774.6 473.2h0M1201.1 845.7h0M881.1 331.7h0M1531.5 506.3h0M822.7 515.0h0M1278.5 406.3h0M1249.1 574.5h0M1469.1 463.7h0M1467.9 835.8h0M837.7 239.8h0M744.4 451.2h0M1037.9 1129.2h0M816.5 490.5h0M1317.5 425.1h0M1230.6 535.3h0M1127.0 573.5h0M1499.9 894.9h0M1190.6 701.5h0M834.5 515.3h0M1360.0 549.3h0M1457.8 844.3h0M1404.8 823.6h0M1442.0 455.7h0M632.6 386.0h0M1233.7 770.2h0M1186.9 357.0h0M1254.2 362.8h0M1193.1 834.0h0M1128.1 1131.3h0M774.3 477.5h0M1191.8 575.7h0M1314.5 408.3h0M1304.6 418.0h0M1066.3 412.1h0M1257.6 741.7h0M1279.7 434.3h0M1271.6 724.4h0M916.7 262.2h0M842.8 243.8h0M884.0 304.6h0M1379.8 774.6h0M824.0 480.5h0M805.5 515.2h0M1332.2 511.8h0M943.3 258.4h0M1352.4 601.6h0M1365.4 594.1h0M867.9 380.7h0M905.0 291.7h0M1148.1 440.5h0M1269.9 741.1h0M849.8 380.0h0M1088.5 343.5h0M1341.8 505.9h0M1313.9 585.0h0M1294.0 804.0h0M1401.5 774.8h0M957.9 298.7h0M1469.2 891.0h0M1475.8 888.2h0M1200.7 784.9h0M691.9 384.0h0M1065.6 1175.3h0M1457.4 505.2h0M1357.6 500.2h0M1469.8 603.2h0M1298.1 849.9h0M1531.1 563.1h0M1317.0 772.3h0M1405.8 834.4h0M1128.1 368.8h0M892.1 309.1h0M1347.0 558.6h0M1418.5 830.0h0M1264.1 705.2h0M889.1 293.3h0M1705.8 667.3h0M1341.8 612.1h0M1199.5 694.4h0M1663.5 671.0h0M1063.9 1171.3h0M997.1 1141.8h0M1184.6 642.5h0M1346.3 492.5h0M1121.2 396.9h0M1333.2 550.2h0M1093.2 1198.0h0M1304.6 407.0h0M1375.9 778.8h0M1311.6 677.7h0M1251.0 594.3h0M1316.7 437.0h0M1423.9 390.4h0M1695.2 614.9h0M1662.3 607.9h0M983.9 1093.3h0M870.5 481.9h0M1344.7 584.3h0M1540.7 519.6h0M1353.6 576.9h0M1320.7 494.3h0M1096.9 586.3h0M1335.4 567.5h0M1120.5 572.3h0M1244.2 609.1h0M1489.7 897.4h0M1236.5 499.5h0M858.5 313.5h0M1104.1 358.4h0M1496.4 837.1h0M1475.0 614.1h0M1214.1 550.1h0M1467.0 852.9h0M1194.4 759.4h0M1213.5 595.5h0M1437.7 903.2h0M1218.9 604.2h0M1060.8 537.4h0M1211.2 375.0h0M1074.3 502.9h0M1182.8 404.2h0M1368.5 646.5h0M1355.4 566.1h0M1481.2 521.9h0M1364.6 558.0h0M984.6 256.6h0M1344.3 797.7h0M1056.0 1149.7h0M1215.7 434.1h0M1527.3 557.9h0M1222.5 554.5h0M1172.9 375.4h0M1020.3 285.3h0M1125.4 1187.7h0M1304.9 734.1h0M1329.4 544.4h0M1436.8 835.1h0M1492.6 844.9h0M942.1 306.1h0M900.3 271.0h0M798.3 289.6h0M1473.4 892.5h0M1508.5 469.1h0M1001.2 299.9h0M1543.2 733.6h0M1393.2 761.8h0M1350.9 768.8h0M1049.3 545.8h0M1228.9 370.0h0M905.1 248.4h0M1256.4 495.5h0M1464.0 507.4h0M1541.4 529.5h0M1289.6 779.1h0M997.3 278.3h0M810.6 501.2h0M940.1 329.6h0M1108.1 444.5h0M1349.1 561.1h0M837.6 235.7h0M1497.2 899.1h0M1309.3 678.6h0M1287.1 804.1h0M1027.1 1129.8h0M1320.7 461.1h0M1131.1 1187.8h0M1411.4 818.1h0M1461.6 915.8h0M1643.1 684.4h0M1619.0 704.8h0M910.3 238.6h0M1019.6 543.3h0M1401.3 649.6h0M1404.2 710.9h0M1314.0 413.5h0M1160.3 454.7h0M1334.9 511.6h0M1094.1 602.7h0M1156.9 672.8h0M1670.9 700.4h0M1304.7 503.3h0M1411.4 811.3h0M1465.1 825.4h0M1164.5 772.0h0M1371.8 452.2h0M1489.6 768.0h0M1492.1 913.4h0M1324.8 487.9h0M1195.0 829.1h0M1519.7 491.7h0M1003.7 1099.3h0M1111.3 1131.8h0M1405.2 776.1h0M1211.0 681.4h0M1081.8 421.0h0M1662.7 633.2h0M1170.2 760.0h0M1238.5 834.5h0M1438.4 507.0h0M628.5 382.2h0M1440.4 814.0h0M841.7 359.9h0M1140.7 658.1h0M1121.5 587.3h0M680.4 418.0h0M1104.3 1156.3h0M1094.8 567.9h0M812.7 237.5h0M1482.6 573.8h0M1137.0 423.8h0M1064.5 1152.0h0M1270.5 558.3h0M1185.5 598.2h0M1466.8 496.9h0M1178.6 630.4h0M1624.1 684.9h0M1118.2 601.7h0M1318.7 570.4h0M1358.6 561.4h0M1261.6 449.1h0M1432.6 576.1h0M1147.0 549.1h0M711.9 464.1h0M1031.0 302.5h0M1100.6 1212.2h0M1119.6 618.2h0M1218.8 649.5h0M1457.9 877.1h0M1323.7 397.9h0M1349.7 677.7h0M1380.5 651.0h0M851.8 255.0h0M1122.4 431.4h0M1664.9 603.7h0M1215.0 797.1h0M1446.6 892.8h0M1175.5 596.6h0M652.3 432.5h0M1072.5 389.4h0M1494.3 925.0h0M1478.7 856.3h0M1407.5 846.9h0M1255.8 369.1h0M1433.0 885.7h0M1318.7 400.6h0M1213.5 436.2h0M1178.4 461.2h0M1561.7 691.4h0M880.0 267.3h0M1072.9 494.0h0M1525.5 553.6h0M1240.8 423.7h0M1458.9 476.8h0M1188.1 585.3h0M836.7 224.0h0M1385.0 576.5h0M1045.6 1133.6h0M1280.6 404.1h0M1387.6 481.8h0M1432.2 406.3h0M1381.7 694.3h0M1180.0 333.4h0M989.4 1151.8h0M1522.0 500.2h0M1353.5 552.3h0M850.6 327.6h0M1488.7 894.4h0M1310.1 526.2h0M1486.6 808.3h0M1078.2 497.5h0M1452.8 900.0h0M1200.2 412.0h0M1234.4 826.0h0M1045.1 498.3h0M808.5 491.8h0M1055.6 1097.3h0M1029.9 530.7h0M1138.8 532.5h0M1099.6 363.2h0M1459.0 584.1h0M1206.1 821.9h0M1488.2 813.1h0M1095.8 1210.0h0M906.8 298.5h0M1705.2 598.1h0M806.0 491.6h0M1364.4 619.3h0M913.6 315.0h0M1122.9 410.3h0M1127.0 444.4h0M1251.0 517.9h0M1311.0 388.0h0M1444.7 395.3h0M1215.1 714.3h0M1339.8 498.2h0M1471.0 881.0h0M1527.7 535.2h0M1405.3 657.3h0M1499.3 512.3h0M1050.8 1119.9h0M1346.0 553.2h0M1298.6 601.3h0M1396.5 601.8h0M1146.0 562.5h0M1408.5 552.6h0M1561.8 741.3h0M801.4 511.1h0M1608.6 735.5h0M1619.8 719.8h0M1134.7 555.8h0M1290.8 393.8h0M1356.2 763.6h0M679.7 414.6h0M1241.2 540.9h0M928.9 309.5h0M803.3 301.6h0M1227.6 592.5h0M1193.8 808.3h0M1672.5 671.3h0M1363.9 569.6h0M816.5 494.2h0M1506.9 508.7h0M1355.9 613.8h0M1332.9 770.0h0M624.8 386.5h0M1090.0 574.1h0M1280.7 407.7h0M1463.2 502.9h0M1309.2 473.1h0M1128.3 629.7h0M1614.8 686.4h0M1351.1 557.9h0M1161.9 721.6h0M816.1 228.5h0M1137.3 602.6h0M1447.4 815.1h0M1450.4 590.9h0M632.7 375.7h0M1087.0 1204.0h0M1429.8 516.1h0M1129.8 664.5h0M1442.0 841.5h0M1374.0 666.1h0M1241.7 683.2h0M1414.1 830.6h0M1361.6 547.0h0M1074.6 394.0h0M1276.3 582.4h0M1384.3 596.3h0M1291.0 450.6h0M1100.0 514.7h0M1265.7 613.7h0M932.4 265.8h0M1437.4 830.7h0M1246.9 686.3h0M1186.0 675.9h0M1514.5 571.8h0M1179.9 768.8h0M1346.7 624.8h0M1567.3 695.1h0M1601.3 690.5h0M1476.0 913.5h0M1464.7 870.1h0M1690.5 621.0h0M1311.1 608.0h0M953.6 329.6h0M1367.9 659.1h0M1392.4 643.4h0M1223.8 344.6h0M1712.0 642.6h0M961.9 298.1h0M1249.6 691.5h0M1090.6 605.6h0M1282.7 551.0h0M1254.1 601.2h0M1394.4 594.4h0M1468.9 842.1h0M871.1 238.4h0M1154.2 624.2h0M1147.8 550.5h0M1410.4 772.5h0M912.4 337.2h0M1517.3 886.1h0M1339.3 478.4h0M1421.5 835.9h0M1044.1 539.3h0M1350.0 571.0h0M1096.8 1148.9h0M1275.3 607.1h0M1469.5 909.6h0M1716.8 649.9h0M1276.5 555.2h0M1282.2 719.9h0M1050.5 324.0h0M1043.2 1104.7h0M847.0 486.5h0M1551.8 705.5h0M961.6 1107.9h0M1143.2 827.1h0M1307.0 576.3h0M898.8 304.6h0M1401.5 835.0h0M1114.5 601.3h0M1101.2 493.4h0M1438.3 433.1h0M629.0 411.9h0M1144.4 417.9h0M1340.9 466.1h0M1209.3 778.7h0M1411.4 555.9h0M1343.4 548.3h0M1364.8 564.1h0M1114.8 492.1h0M1260.6 762.3h0M840.3 263.0h0M869.5 364.9h0M1202.2 815.2h0M1263.0 527.3h0M1029.5 1097.1h0M1302.7 558.8h0M973.2 1113.9h0M1459.0 472.9h0M1356.9 644.6h0M1232.8 394.3h0M1130.3 528.4h0M1341.0 575.3h0M1117.7 428.1h0M1465.1 870.0h0M1267.8 520.1h0M1165.0 540.7h0M1174.1 672.2h0M1163.6 695.7h0M1249.9 364.1h0M1690.5 703.5h0M1070.1 416.3h0M1311.6 556.2h0M1072.5 547.8h0M1065.1 535.6h0M1256.7 350.6h0M764.1 284.0h0M1103.2 1157.2h0M1418.2 731.7h0M1157.4 795.7h0M1117.6 377.5h0M1254.6 780.4h0M1645.7 702.5h0M908.2 246.9h0M1350.5 542.6h0M1383.5 615.1h0M1652.1 683.8h0" stroke="#020206"/>
<path d="M1153.9 633.2h0M1203.4 701.7h0M1459.5 504.8h0M1065.6 431.9h0M872.9 323.1h0M1188.3 572.7h0M1114.7 483.8h0M1016.5 1135.2h0M1270.0 458.8h0M1258.6 796.2h0M1254.4 628.0h0M1172.4 608.1h0M1016.5 1132.9h0M1468.4 526.9h0M1333.2 482.0h0M1046.3 1160.2h0M938.4 246.7h0M1160.2 618.1h0M997.1 1106.9h0M1258.0 491.6h0M1649.5 690.5h0M1346.2 566.1h0M1207.4 796.8h0M1073.1 607.4h0M1352.1 507.5h0M970.8 1099.4h0M829.8 368.5h0M1649.9 690.1h0M1300.8 417.7h0M1120.5 551.4h0M1115.4 555.8h0M1260.7 582.9h0M1520.5 524.4h0M1051.6 501.8h0M872.1 404.4h0M818.9 315.7h0M1167.0 393.9h0M1641.3 722.4h0M806.9 249.4h0M1283.3 560.3h0M811.5 490.6h0M1097.9 543.8h0M1205.1 632.7h0M1297.3 738.9h0M1423.6 693.5h0M947.9 256.5h0M643.8 457.5h0M1695.7 587.0h0M1186.3 773.6h0M990.8 1106.5h0M889.9 225.7h0M1534.4 501.2h0M1317.3 397.5h0M1661.0 588.6h0M1533.9 480.7h0M876.5 252.5h0M1282.9 735.2h0M1173.5 346.5h0M1069.1 423.9h0M1263.1 459.0h0M779.4 292.6h0M1320.2 570.2h0M1151.4 331.9h0M1667.6 648.8h0M1159.6 463.3h0M944.1 251.2h0M1226.2 488.5h0M976.7 1096.5h0M1534.0 523.9h0M1604.7 725.7h0M1197.6 418.7h0M1333.0 538.9h0M1002.6 1133.5h0M1068.4 541.0h0M1144.1 574.9h0M1339.5 567.4h0M1125.9 601.0h0M1422.9 796.9h0M838.5 234.1h0M1168.6 331.3h0M1356.0 696.9h0M1129.9 515.2h0M708.6 460.2h0M908.1 233.7h0M1144.3 1169.4h0M997.2 287.1h0M1683.4 651.1h0M850.4 471.0h0M637.1 410.6h0M1308.4 460.7h0M1491.3 839.4h0M1616.1 713.0h0M1691.7 644.9h0M863.0 303.7h0M1173.4 386.8h0M804.4 230.5h0M1130.9 495.9h0M1156.1 597.0h0M1252.1 812.2h0M1330.9 552.7h0M1512.6 516.4h0M1340.8 846.0h0M884.8 225.6h0M1405.4 740.1h0M1186.5 399.9h0M1133.6 1182.1h0M776.0 264.7h0M1014.0 1140.7h0M1053.7 1104.0h0M1246.0 623.5h0M880.3 257.5h0M1558.9 698.3h0M1635.8 688.8h0M1119.4 427.6h0M784.4 274.4h0M1217.7 561.7h0M1657.7 715.7h0M1622.5 633.1h0M1539.3 515.0h0M1080.4 1157.6h0M789.1 297.7h0M1083.7 1095.5h0M1477.6 912.6h0M1271.5 461.6h0M1188.2 611.2h0M861.7 304.6h0M877.6 239.6h0M1264.9 463.8h0M1500.4 585.7h0M1531.6 478.9h0M1460.8 617.8h0M1106.0 1156.3h0M1251.4 569.7h0M1652.0 681.5h0M1272.7 393.4h0M1080.1 495.5h0M1083.0 605.3h0M935.8 256.0h0M1113.1 497.5h0M822.1 353.9h0M1080.9 1113.3h0M1259.2 819.9h0M1704.7 635.0h0M862.2 303.5h0M1596.1 731.8h0M1114.5 1166.3h0M930.2 224.7h0M934.2 228.8h0M1228.3 779.3h0M849.7 320.7h0M1087.4 1133.1h0M1127.3 1124.9h0M1362.2 479.1h0M1263.6 695.7h0M1713.9 677.5h0M1139.7 630.8h0M1286.6 465.3h0M1219.1 632.4h0M1532.8 508.0h0M848.3 282.3h0M1395.9 565.2h0M805.7 247.1h0M1390.1 460.6h0M1099.6 559.5h0M793.7 279.8h0M1090.1 1174.7h0M1506.5 905.4h0M1517.6 707.4h0M1338.3 470.8h0M1489.5 899.7h0M1515.6 861.2h0M1282.0 570.8h0M758.6 269.5h0M675.7 475.9h0M1092.3 385.6h0M1449.9 881.9h0M1407.2 470.0h0M1131.5 597.6h0M1154.6 526.5h0M713.2 454.8h0M1326.9 666.7h0M1623.3 724.6h0M856.3 491.0h0M1373.7 576.9h0M1291.9 772.9h0M1152.8 639.4h0M1374.9 436.9h0M1510.3 739.4h0M1136.0 563.0h0M819.4 482.4h0M1126.2 580.4h0M1002.9 302.9h0M1231.2 425.2h0M1471.5 843.8h0M1514.1 483.2h0M1349.8 795.6h0M1317.0 487.6h0M1095.2 1209.6h0M1313.4 487.8h0M1171.9 357.0h0M977.8 1103.8h0M871.9 238.6h0M1505.8 596.6h0M859.5 375.6h0M1131.2 561.4h0M1373.1 737.2h0M1156.9 388.7h0M1403.3 740.3h0M1301.4 534.6h0M1104.2 1151.0h0M786.6 260.1h0M1590.4 711.9h0M1334.7 745.1h0M935.3 327.8h0M888.5 265.0h0M1408.6 829.6h0M1464.1 830.9h0M842.5 234.1h0M817.9 508.6h0M958.8 245.1h0M1699.3 603.6h0M1391.6 553.9h0M1111.5 1107.3h0M896.9 226.7h0M1177.3 642.1h0M1077.4 586.6h0M1355.7 556.7h0M1113.9 641.7h0M793.7 240.7h0M967.3 269.5h0M1438.1 867.9h0M1364.3 842.8h0M1508.0 905.5h0M1257.6 476.1h0M817.8 512.9h0M819.1 488.3h0M1367.6 611.5h0M1164.5 824.0h0M1280.7 535.0h0M1160.6 592.3h0M1142.9 394.3h0M1425.6 699.6h0M1516.0 592.3h0M1397.9 571.8h0M1271.7 501.5h0M1346.8 676.1h0M1655.7 686.6h0M1228.9 665.3h0M872.6 311.4h0M1176.3 785.6h0M1267.9 596.4h0M1125.9 491.1h0M774.7 285.9h0M1510.1 752.3h0M1364.0 515.3h0M897.9 285.7h0M1284.4 418.9h0M1511.9 447.3h0M1510.9 846.6h0M1263.1 817.0h0M809.5 285.3h0M1099.9 527.2h0M1483.8 894.7h0M691.0 473.1h0M1690.5 629.6h0M808.7 440.7h0M1160.8 597.6h0M1174.4 447.2h0M1138.9 516.9h0M1135.5 575.8h0M1347.7 531.4h0M1407.9 385.9h0M1147.4 415.4h0M1030.4 1147.6h0M1601.0 702.6h0M796.9 238.6h0M1532.0 470.2h0M1295.9 512.5h0M1067.8 501.2h0M1461.2 881.3h0M1195.4 402.4h0M1132.7 1130.4h0M1084.8 625.2h0M779.8 444.2h0M1373.2 658.1h0M953.9 272.8h0M1585.8 717.6h0M851.3 352.5h0M1083.0 352.3h0M869.5 320.5h0M968.8 272.1h0M876.3 384.5h0M1518.5 456.7h0M1456.4 624.7h0M1286.9 579.4h0M850.9 462.5h0M1194.3 378.3h0M1501.7 904.0h0M1372.8 779.8h0M1107.7 531.9h0M919.2 267.1h0M966.7 327.5h0M1174.1 387.5h0M1155.7 654.9h0M1598.1 657.2h0M1265.1 462.4h0M1677.2 678.4h0M1333.8 692.3h0M646.9 382.0h0M1206.8 423.2h0M912.1 253.3h0M1493.9 903.0h0M1607.0 688.7h0M1156.3 519.8h0M1204.1 851.3h0M1569.9 690.9h0M1270.7 516.6h0M1287.4 576.3h0M1646.6 705.3h0M1442.4 818.8h0M1646.0 710.9h0M1478.6 417.5h0M1380.7 682.2h0M1294.0 750.1h0M1276.3 748.5h0M1083.5 1111.6h0M853.5 267.2h0M898.3 248.4h0M1038.1 1165.3h0M1241.5 809.6h0M1182.5 675.9h0M856.7 304.4h0M1413.0 712.0h0M1203.8 554.8h0M870.9 291.8h0M1261.7 403.6h0M1440.1 394.4h0M1371.5 512.3h0M1340.7 846.4h0M1553.6 744.3h0M835.4 496.8h0M1103.5 408.0h0M888.4 400.2h0M870.3 498.7h0M1216.1 686.8h0M943.4 286.0h0M1259.5 748.8h0M889.7 269.5h0M900.4 299.8h0M1320.2 554.8h0M1176.9 581.0h0M1327.0 440.1h0M1190.2 434.1h0M1526.2 746.7h0M1516.5 860.7h0M1023.4 1137.2h0M1279.7 517.4h0M1233.8 417.3h0M979.3 242.0h0M1403.8 378.4h0M1168.2 451.7h0M1561.7 679.7h0M1522.3 744.4h0M1385.9 772.5h0M691.8 383.1h0M666.8 461.9h0M868.3 398.9h0M1493.7 512.3h0M1514.0 465.8h0M1698.1 648.9h0M1354.1 696.3h0M1213.8 585.5h0M808.8 288.6h0M913.8 247.1h0M931.6 283.3h0M1443.0 404.0h0M717.5 369.6h0M1170.0 597.9h0M953.2 257.5h0M829.4 450.9h0M1692.9 637.0h0M1248.3 507.6h0M1302.3 565.5h0M1147.9 583.3h0M1312.7 556.2h0M839.8 282.4h0M1260.7 394.1h0M1148.6 664.7h0M1333.1 677.0h0M1161.7 674.6h0M839.2 375.7h0M1085.5 342.2h0M992.1 1126.8h0M1282.7 486.2h0M1175.4 622.4h0M1329.3 610.6h0M1203.3 358.5h0M1237.1 599.0h0M1329.4 541.9h0M1104.4 1196.2h0M1664.1 679.9h0M1527.2 555.6h0M1044.7 1118.7h0M1692.5 697.1h0M789.7 296.9h0M1195.1 564.5h0M911.8 251.2h0M993.1 1107.7h0M1615.0 657.0h0M1011.7 1138.4h0M1275.1 596.8h0M1260.6 494.2h0M1297.7 773.7h0M1118.2 1158.1h0M919.8 294.7h0M1471.0 820.4h0M1247.1 604.1h0M1167.7 472.9h0M1089.7 1127.0h0M866.9 304.1h0M1289.4 527.5h0M1148.8 553.2h0M1512.6 442.6h0M1558.6 719.2h0M1026.7 520.6h0M1678.5 622.1h0M703.2 468.6h0M1365.8 548.4h0M1182.1 594.0h0M1361.9 796.2h0M1223.9 382.0h0M1194.6 596.6h0M854.1 284.3h0M1149.3 532.1h0M774.3 449.8h0M1229.1 681.7h0M944.8 256.4h0M823.1 246.0h0M1189.4 604.0h0M1700.1 690.3h0M1151.4 413.8h0M1163.4 559.2h0M1552.9 739.4h0M1296.9 476.1h0M1428.8 838.9h0M843.9 279.1h0M1663.1 697.4h0M1199.1 695.9h0M1332.6 460.2h0M1668.8 640.0h0M1261.1 516.3h0M1090.9 498.0h0M1684.2 636.6h0M1107.2 644.8h0M1207.4 819.5h0M661.8 456.2h0M1531.2 560.5h0M1369.3 601.8h0M1654.7 711.5h0M1434.5 872.9h0M1024.3 294.8h0M1387.0 564.9h0M908.0 238.8h0M1238.8 805.6h0M1363.3 621.5h0M817.7 295.2h0M1271.0 791.3h0M980.0 1132.4h0M1540.2 736.9h0M1247.7 408.7h0M1537.7 496.2h0M891.2 223.3h0M1479.9 507.7h0M833.5 317.2h0M831.5 250.0h0M783.6 298.4h0M1559.2 685.7h0M1353.5 538.6h0M1107.9 402.3h0M1359.4 737.4h0M1224.9 405.9h0M1337.0 532.5h0M1242.8 702.1h0M1222.7 474.4h0M1052.2 1182.5h0M1193.0 666.0h0M1456.4 419.7h0M1201.9 792.3h0M1355.3 567.7h0M979.7 1097.2h0M1033.1 567.9h0M1474.2 534.3h0M1078.1 412.3h0M956.2 258.9h0M802.3 303.7h0M1579.9 723.6h0M1098.0 532.5h0M1675.0 605.7h0M1199.0 388.2h0M1300.0 534.5h0M1274.7 469.9h0M1404.4 510.2h0M806.7 248.8h0M1309.4 516.1h0M1380.9 536.8h0M1483.5 829.4h0M1358.0 557.8h0M816.1 267.8h0M1135.0 632.2h0M678.6 415.1h0M1523.2 837.9h0M818.8 245.0h0M797.3 424.4h0M1139.9 650.7h0M802.5 287.5h0M1650.8 694.9h0M1542.9 733.7h0M863.4 269.3h0M1144.9 629.5h0M1205.8 849.2h0M1371.4 475.6h0M1178.2 766.6h0M1246.3 838.6h0M1318.3 405.9h0M939.6 229.7h0M1496.5 431.3h0M1182.0 588.8h0M1164.2 826.4h0M1467.1 868.4h0M1683.4 637.7h0M973.3 320.7h0M1242.3 474.1h0M825.9 265.5h0M1137.0 590.2h0M1287.8 385.8h0M1374.0 546.3h0M1239.1 824.9h0M1186.4 365.0h0M1251.4 599.2h0M1492.8 929.0h0M1468.1 440.9h0M836.0 448.9h0M850.6 237.1h0M992.4 1138.9h0M660.8 436.2h0M1195.2 362.4h0M1685.7 597.9h0M1290.4 560.0h0M1255.6 808.2h0M1164.8 614.8h0M1181.9 687.2h0M1184.3 403.7h0M959.2 286.3h0M816.2 305.5h0M1476.7 423.7h0M1197.9 392.8h0M1107.5 551.1h0M975.6 1138.1h0M1697.0 643.2h0M1204.5 583.8h0M1329.5 844.9h0M1518.8 862.2h0M1353.5 712.3h0M1267.0 763.0h0M1140.7 528.6h0M1121.5 1162.6h0M664.5 457.0h0M1516.7 837.9h0M822.8 468.6h0M1208.1 773.7h0M1091.8 452.1h0M1454.1 404.5h0M1499.6 426.3h0M989.9 247.4h0M994.6 1110.7h0M1262.8 588.2h0M1298.7 799.0h0M875.5 376.4h0M1295.5 376.1h0M1485.3 893.3h0M1163.5 536.4h0M1177.5 589.6h0M1669.8 695.4h0M661.9 454.3h0M1426.5 386.2h0M1393.9 493.1h0M1175.7 566.6h0M1102.5 627.5h0M1151.2 566.5h0M1164.6 593.5h0M877.5 234.5h0M1504.7 541.3h0M809.1 361.3h0M1219.0 615.5h0M1495.6 498.4h0M871.3 247.9h0M1628.9 708.1h0M1536.3 546.8h0M1256.4 517.5h0M1590.4 723.2h0M1171.9 595.7h0M1638.6 691.2h0M1299.4 743.9h0M1012.8 307.5h0M1228.4 587.3h0M1355.5 841.6h0M1435.2 861.3h0M1190.3 615.5h0M1421.1 842.9h0M1132.4 640.3h0M1325.0 445.2h0M1110.0 1128.8h0M1187.5 393.9h0M1136.8 480.7h0M1202.5 576.0h0M1423.4 544.7h0M1654.0 677.0h0M855.1 313.2h0M1428.7 715.3h0M1698.6 689.6h0M1025.4 1107.9h0M1128.0 384.8h0M1238.4 375.3h0M811.9 476.4h0M1133.9 532.5h0M1087.5 446.8h0M979.6 236.5h0M1183.0 655.7h0M1363.5 560.6h0M959.7 233.5h0M1079.2 490.4h0M1700.1 674.4h0M1122.3 1203.3h0M1148.6 633.0h0M1294.9 608.1h0M1006.9 1096.4h0M919.9 272.5h0M1534.8 556.1h0M1286.5 589.9h0M1232.8 695.8h0M873.1 284.6h0M1150.2 668.9h0M1389.3 714.2h0M1327.0 550.5h0M1506.6 828.3h0M1640.5 707.7h0M1200.2 547.8h0M878.1 334.7h0M1086.4 1178.7h0M866.4 355.6h0M837.5 233.9h0M1073.7 1115.8h0M1064.2 501.3h0M850.2 348.7h0M1647.2 639.7h0M891.3 234.1h0M1371.8 595.8h0M1509.5 596.7h0M1640.2 618.5h0M828.1 237.3h0M1273.9 463.0h0M854.9 265.6h0M1265.2 467.4h0M1064.2 503.8h0M892.3 264.3h0M1067.9 1180.8h0M1464.4 562.7h0M1105.4 1211.1h0M996.8 243.6h0M1247.4 605.6h0M1037.0 1128.0h0M1081.3 505.1h0M1071.7 598.6h0M909.8 300.2h0M1195.5 591.1h0M1275.9 804.7h0M999.3 1104.3h0M1140.6 530.3h0M1309.8 679.6h0M918.8 302.0h0M1091.6 1113.2h0M947.1 279.4h0M1250.4 582.0h0M1230.4 778.4h0M1203.7 632.7h0M1570.5 705.0h0M880.4 269.3h0M1258.3 777.2h0M1629.0 692.7h0M1249.1 830.2h0M1010.7 282.3h0M779.1 452.9h0M772.6 256.3h0M844.8 373.0h0M1038.6 337.1h0M1567.4 730.1h0M1489.2 526.6h0M896.0 339.3h0M1357.2 440.3h0M884.7 234.8h0M1214.0 375.7h0M797.0 274.4h0M1087.8 383.6h0M1518.4 887.3h0M1446.0 574.8h0M1204.3 346.9h0M1667.9 671.4h0M1392.7 556.6h0M1320.6 762.7h0M1384.2 613.7h0M814.5 486.4h0M824.4 229.1h0M1339.5 796.0h0M876.5 366.6h0M854.4 290.7h0M840.9 318.3h0M906.7 306.8h0M1577.4 716.7h0M1378.9 466.3h0M1487.2 895.6h0M1253.9 520.0h0M1440.8 817.9h0M780.4 292.5h0M897.3 262.2h0M1271.1 517.9h0M1096.0 361.2h0M868.5 343.4h0M1719.8 675.3h0M1138.5 648.7h0M839.4 255.8h0M1377.8 596.5h0M858.3 479.9h0M1160.5 379.9h0M875.9 377.2h0M1684.1 607.5h0M1157.9 346.1h0M1027.7 1109.4h0M1502.1 586.9h0M1421.9 826.8h0M1692.9 593.9h0M885.0 303.4h0M1305.8 740.8h0M1075.3 1177.7h0M1337.4 561.0h0M848.3 302.4h0M815.3 352.9h0M1182.7 379.7h0M1339.1 569.7h0M1321.9 477.2h0M1691.1 630.9h0M1294.6 565.4h0M1292.8 415.4h0M815.8 226.1h0M1238.9 569.0h0M1162.5 367.2h0M1162.7 354.5h0M1166.3 631.0h0M1130.4 549.9h0M1199.6 603.2h0M1315.4 735.0h0M804.3 446.9h0M1028.6 1167.0h0M1313.9 451.0h0M1515.7 726.2h0M815.8 475.7h0M1488.4 820.1h0M1332.6 595.6h0M1276.9 496.0h0M1138.9 509.9h0M1075.0 546.4h0M802.7 493.8h0M1250.9 620.2h0M1179.6 645.2h0M887.2 246.9h0M1175.6 541.1h0M816.4 499.4h0M1174.9 400.9h0M1198.9 585.9h0M1142.0 612.4h0M1042.7 1174.0h0M1316.5 809.8h0M1215.7 612.7h0M1495.9 475.5h0M1380.6 708.6h0M1495.2 562.4h0M1165.5 822.0h0M1402.8 558.1h0M852.6 397.5h0M1242.4 835.1h0M1247.5 464.6h0M1207.5 795.9h0M1441.2 856.3h0M749.2 350.9h0M1491.3 583.6h0M786.9 328.8h0M1368.8 616.5h0M678.4 414.6h0M1476.8 565.9h0M1467.0 890.9h0M1094.6 377.1h0M1376.0 671.2h0M1327.8 594.5h0M853.5 499.0h0M1369.8 563.6h0M872.5 354.1h0M834.6 228.3h0M1227.7 775.7h0M1397.3 492.6h0M1237.2 567.2h0M1161.1 751.4h0M1334.0 488.3h0M1595.7 645.7h0M1483.6 451.0h0M1665.1 673.6h0M1548.4 677.4h0M1517.3 496.8h0M1044.8 1142.1h0M1270.1 496.1h0M1267.3 409.7h0M922.0 235.6h0M875.5 280.9h0M1695.8 691.6h0M1291.0 599.7h0M1261.4 508.1h0M1110.4 1210.5h0M1112.3 497.5h0M1104.4 1200.1h0M816.5 471.8h0M1145.9 1117.9h0M921.6 258.7h0M639.9 409.9h0M900.4 281.5h0M1124.9 517.1h0M806.0 235.2h0M1180.2 825.9h0M1273.4 528.3h0M1470.5 495.0h0M1114.2 606.1h0M1131.1 524.0h0M1524.1 866.3h0M1274.5 417.9h0M1650.6 693.7h0M1613.6 653.6h0M825.6 227.7h0M920.4 314.4h0M1531.3 551.9h0M1206.0 436.1h0M1248.7 808.2h0M853.7 372.5h0M1249.5 495.4h0M1375.5 521.1h0M1219.6 778.3h0M1324.6 492.9h0M1162.5 591.7h0M817.0 241.2h0M1206.4 341.6h0M929.9 243.5h0" stroke="#8a2a86"/>
<path d="M1137.3 517.5h0M1391.5 564.8h0M1231.6 389.0h0M831.1 500.0h0M1489.7 555.2h0M1390.3 567.9h0M837.2 350.4h0M1708.5 608.4h0M1213.7 540.4h0M798.4 492.3h0M1314.6 403.7h0M864.1 249.1h0M935.0 277.2h0M1239.1 399.7h0M1375.1 562.7h0M1342.0 576.2h0M868.9 284.0h0M1441.6 878.9h0M796.7 482.2h0M876.9 283.2h0M1272.1 404.7h0M1028.5 1157.4h0M792.6 270.2h0M1307.0 539.2h0M1356.8 519.2h0M1190.4 563.6h0M1608.8 719.4h0M1350.9 511.2h0M1657.3 671.5h0M1199.6 812.1h0M1117.8 555.6h0M1125.6 1135.7h0M1378.8 509.7h0M1682.9 672.7h0M1340.3 640.0h0M838.3 354.2h0M1351.1 495.7h0M839.3 360.2h0M1327.7 480.5h0M1238.7 505.6h0M825.9 231.4h0M1292.2 409.5h0M1168.8 587.4h0M1305.1 529.7h0M1147.5 359.7h0M1298.2 798.1h0M1129.2 1195.9h0M1257.8 621.1h0M1087.9 386.8h0M900.7 224.7h0M1238.4 527.3h0M1224.7 410.2h0M1514.5 476.1h0M839.0 316.0h0M1307.0 483.1h0M1237.7 374.7h0M1207.0 823.2h0M1388.8 476.7h0M1495.5 481.9h0M850.1 307.8h0M1151.4 805.9h0M1259.2 394.4h0M1445.5 906.4h0M1160.4 814.8h0M1270.4 389.5h0M1349.1 568.0h0M1298.1 522.3h0M1414.1 557.1h0M1024.2 1142.6h0" stroke="#e34f66"/>
<path d="M1504.2 821.4h0M1419.3 833.2h0M1082.4 614.8h0" stroke="#fd9b6b"/>
<path d="M436.9 561.9h0M438.7 564.1h0M441.0 566.1h0M442.8 567.4h0M445.7 569.5h0M447.1 571.0h0M449.6 573.2h0M451.8 575.2h0M453.5 577.2h0" stroke="#020206"/>
<path d="M437.8 564.2h0M440.0 566.2h0M442.2 568.1h0M444.6 569.9h0M447.1 571.9h0M449.2 573.8h0M451.8 575.3h0M453.9 577.4h0" stroke="#8a2a86"/>
<path d="M441.7 566.1h0M452.9 575.3h0" stroke="#e34f66"/>
<path d="M364.8 703.7h0M366.0 704.9h0M368.5 706.2h0M370.6 707.7h0M372.7 709.7h0M374.8 711.2h0M377.6 712.2h0M378.8 713.8h0M381.5 715.5h0M377.1 707.4h0" stroke="#020206"/>
<path d="M376.4 711.4h0" stroke="#8a2a86"/>
<path d="M373.3 709.6h0" stroke="#e34f66"/>
<path d="M505.2 676.2h0M507.7 678.2h0M509.9 679.0h0M511.9 681.1h0M514.2 681.7h0M515.6 684.0h0M518.7 685.4h0M520.1 686.7h0M509.7 673.6h0M514.3 677.1h0" stroke="#020206"/>
<path d="M507.1 677.3h0M509.1 678.8h0M511.6 680.3h0M513.8 682.2h0M515.8 683.7h0" stroke="#8a2a86"/>
<path d="M512.1 680.7h0" stroke="#e34f66"/>
<path d="M582.6 711.1h0M591.9 714.7h0M594.5 716.0h0M596.4 717.2h0M598.5 718.9h0M600.9 720.2h0M603.4 721.1h0M605.3 722.6h0M608.0 723.9h0M610.1 725.5h0M612.0 727.1h0" stroke="#020206"/>
<path d="M592.6 716.4h0M594.4 717.2h0M596.5 718.8h0M597.7 719.7h0M599.8 721.0h0M601.3 722.0h0M603.1 722.9h0M604.6 723.9h0M606.1 725.2h0M608.1 726.2h0M610.0 726.9h0M611.6 728.1h0" stroke="#8a2a86"/>
<path d="M590.0 714.3h0" stroke="#e34f66"/>
<path d="M376.3 789.3h0M378.8 791.0h0M380.7 792.6h0M383.3 793.9h0M384.6 794.8h0M343.3 307.3h0M346.7 310.7h0" stroke="#020206"/>
<path d="M343.2 307.6h0" stroke="#e34f66"/>
<path d="M1318.6 624.3h0" stroke="#fcf6b8"/>
</g>
<!-- axes -->
<g stroke="#000" stroke-width="4.5" fill="none">
<path d="M222.5 142.5V1302.3"/>
<path d="M220.2 1302.3H1828.8"/>
<path d="M207.5 155H220.5M207.5 365.3H220.5M207.5 575.7H220.5M207.5 786H220.5M207.5 996.5H220.5M207.5 1207H220.5"/>
<path d="M631.3 1304V1316.7M1192.7 1304V1316.7M1754.2 1304V1316.7"/>
</g>
<g font-size="50" fill="#000" text-anchor="end">
<text x="193.5" y="173">15</text>
<text x="193.5" y="383.3">10</text>
<text x="193.5" y="593.7">5</text>
<text x="193.5" y="804">0</text>
<text x="193.5" y="1014.5">-5</text>
<text x="193.5" y="1225">-10</text>
</g>
<g font-size="50" fill="#000" text-anchor="middle">
<text x="631.3" y="1367">0</text>
<text x="1192.7" y="1367">10</text>
<text x="1754.2" y="1367">20</text>
</g>
<text transform="translate(1024.5 1434.7) scale(0.99 1.045)" font-size="58.3" text-anchor="middle" fill="#000">UMAP_1</text>
<text transform="translate(95 723.5) rotate(-90) scale(1 1.045)" font-size="58.3" text-anchor="middle" fill="#000">UMAP_2</text>
<!-- legend -->
<rect x="1885" y="578.4" width="64" height="318.7" fill="url(#mg)"/>
<g stroke="#fff" stroke-width="1.6">
<path d="M1885 631H1898M1936 631H1949M1885 719.6H1898M1936 719.6H1949M1885 808.9H1898M1936 808.9H1949M1885 897.1H1898M1936 897.1H1949"/>
</g>
<g font-size="50" fill="#000">
<text x="1979" y="649">1.5</text>
<text x="1979" y="737.6">1.0</text>
<text x="1979" y="826.9">0.5</text>
<text x="1979" y="915.1">0.0</text>
</g>
</svg>
</body></html>
